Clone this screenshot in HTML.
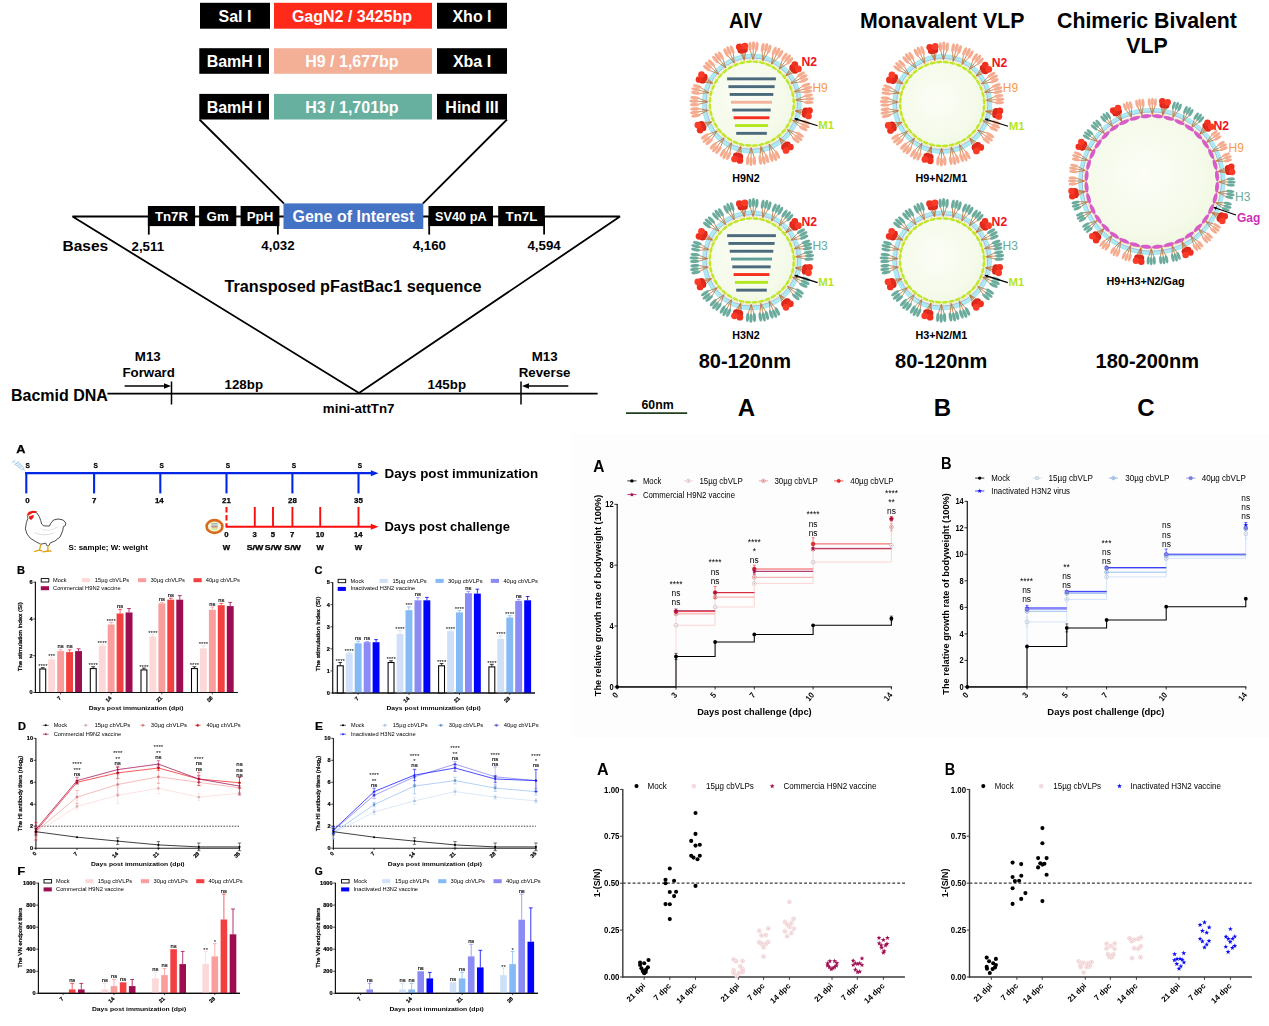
<!DOCTYPE html>
<html><head><meta charset="utf-8"><title>Figure</title>
<style>
html,body{margin:0;padding:0;background:#fff;}
body{width:1269px;height:1026px;overflow:hidden;}
svg{display:block;font-family:"Liberation Sans",sans-serif;}
</style></head><body>
<svg width="1269" height="1026" viewBox="0 0 1269 1026">
<defs><filter id="blurL" x="-5%" y="-5%" width="110%" height="110%"><feGaussianBlur stdDeviation="0.45"/></filter><filter id="blurR" x="-5%" y="-5%" width="110%" height="110%"><feGaussianBlur stdDeviation="0.35"/></filter></defs>
<rect x="572" y="433.9" width="698" height="304" fill="#fdfdfd"/>
<g id="construct">
<rect x="200.0" y="2.8" width="70.0" height="25.9" fill="#000"/>
<rect x="274.0" y="2.8" width="158.0" height="25.9" fill="#ff2a1a"/>
<rect x="437.0" y="2.8" width="70.0" height="25.9" fill="#000"/>
<text x="235.0" y="21.7" font-size="16" font-weight="bold" fill="#fff" text-anchor="middle">Sal I</text>
<text x="351.9" y="21.7" font-size="16" font-weight="bold" fill="#fff" text-anchor="middle">GagN2 / 3425bp</text>
<text x="472.0" y="21.7" font-size="16" font-weight="bold" fill="#fff" text-anchor="middle">Xho I</text>
<rect x="199.3" y="48.2" width="69.7" height="25.6" fill="#000"/>
<rect x="274.0" y="48.2" width="158.0" height="25.6" fill="#f4b097"/>
<rect x="437.0" y="48.2" width="70.0" height="25.6" fill="#000"/>
<text x="234.2" y="66.8" font-size="16" font-weight="bold" fill="#fff" text-anchor="middle">BamH I</text>
<text x="351.9" y="66.8" font-size="16" font-weight="bold" fill="#fff" text-anchor="middle">H9 / 1,677bp</text>
<text x="472.0" y="66.8" font-size="16" font-weight="bold" fill="#fff" text-anchor="middle">Xba I</text>
<rect x="199.3" y="93.9" width="69.7" height="25.6" fill="#000"/>
<rect x="274.0" y="93.9" width="158.0" height="25.6" fill="#67b09f"/>
<rect x="437.0" y="93.9" width="70.0" height="25.6" fill="#000"/>
<text x="234.2" y="112.5" font-size="16" font-weight="bold" fill="#fff" text-anchor="middle">BamH I</text>
<text x="351.9" y="112.5" font-size="16" font-weight="bold" fill="#fff" text-anchor="middle">H3 / 1,701bp</text>
<text x="472.0" y="112.5" font-size="16" font-weight="bold" fill="#fff" text-anchor="middle">Hind III</text>
<line x1="199.5" y1="119.5" x2="284.0" y2="203.6" stroke="#000" stroke-width="1.8"/>
<line x1="507.0" y1="119.5" x2="422.8" y2="203.6" stroke="#000" stroke-width="1.8"/>
<path d="M72.5 216.5 L620 216.5 L359 393 Z" fill="none" stroke="#000" stroke-width="1.8" stroke-linejoin="bevel"/>
<rect x="147.9" y="206.0" width="47.2" height="20.1" fill="#000"/>
<text x="171.5" y="221.0" font-size="13.3" font-weight="bold" fill="#fff" text-anchor="middle">Tn7R</text>
<rect x="199.1" y="206.0" width="37.2" height="20.1" fill="#000"/>
<text x="217.7" y="221.0" font-size="13.3" font-weight="bold" fill="#fff" text-anchor="middle">Gm</text>
<rect x="240.6" y="206.0" width="38.8" height="20.1" fill="#000"/>
<text x="260.0" y="221.0" font-size="13.3" font-weight="bold" fill="#fff" text-anchor="middle">PpH</text>
<rect x="428.5" y="206.0" width="64.5" height="20.1" fill="#000"/>
<text x="460.8" y="221.0" font-size="13.3" font-weight="bold" fill="#fff" text-anchor="middle" textLength="51.6" lengthAdjust="spacingAndGlyphs">SV40 pA</text>
<rect x="498.2" y="206.0" width="46.6" height="20.1" fill="#000"/>
<text x="521.5" y="221.0" font-size="13.3" font-weight="bold" fill="#fff" text-anchor="middle">Tn7L</text>
<rect x="283.5" y="203.4" width="139.8" height="25.6" fill="#4472c4"/>
<text x="353.4" y="221.6" font-size="16" font-weight="bold" fill="#fff" text-anchor="middle">Gene of Interest</text>
<line x1="148.8" y1="216.5" x2="148.8" y2="234.6" stroke="#000" stroke-width="1.8"/>
<line x1="277.9" y1="216.5" x2="277.9" y2="234.6" stroke="#000" stroke-width="1.8"/>
<line x1="429.2" y1="216.5" x2="429.2" y2="234.6" stroke="#000" stroke-width="1.8"/>
<line x1="544.1" y1="216.5" x2="544.1" y2="234.6" stroke="#000" stroke-width="1.8"/>
<text x="62.5" y="250.5" font-size="15.5" font-weight="bold">Bases</text>
<text x="147.8" y="250.8" font-size="13.3" font-weight="bold" text-anchor="middle">2,511</text>
<text x="278.0" y="250.0" font-size="13.3" font-weight="bold" text-anchor="middle">4,032</text>
<text x="429.3" y="250.2" font-size="13.3" font-weight="bold" text-anchor="middle">4,160</text>
<text x="544.1" y="250.2" font-size="13.3" font-weight="bold" text-anchor="middle">4,594</text>
<text x="224.5" y="292.0" font-size="16" font-weight="bold" textLength="257.0" lengthAdjust="spacingAndGlyphs">Transposed pFastBac1 sequence</text>
<line x1="107.4" y1="393.6" x2="597.6" y2="393.6" stroke="#000" stroke-width="1.8"/>
<line x1="171.5" y1="381.5" x2="171.5" y2="404.5" stroke="#000" stroke-width="1.5"/>
<line x1="521.0" y1="381.5" x2="521.0" y2="404.5" stroke="#000" stroke-width="1.5"/>
<text x="11.0" y="400.7" font-size="16" font-weight="bold">Bacmid DNA</text>
<text x="147.8" y="361.4" font-size="13.3" font-weight="bold" text-anchor="middle">M13</text>
<text x="148.7" y="376.5" font-size="13.3" font-weight="bold" text-anchor="middle">Forward</text>
<text x="544.6" y="361.4" font-size="13.3" font-weight="bold" text-anchor="middle">M13</text>
<text x="544.6" y="376.5" font-size="13.3" font-weight="bold" text-anchor="middle">Reverse</text>
<line x1="124.6" y1="386.0" x2="166.0" y2="386.0" stroke="#000" stroke-width="1.4"/>
<path d="M171 386 L164 383.2 L164 388.8 Z" fill="#000"/>
<line x1="568.3" y1="386.0" x2="527.0" y2="386.0" stroke="#000" stroke-width="1.4"/>
<path d="M522 386 L529 383.2 L529 388.8 Z" fill="#000"/>
<text x="243.8" y="388.6" font-size="13.3" font-weight="bold" text-anchor="middle">128bp</text>
<text x="446.8" y="388.6" font-size="13.3" font-weight="bold" text-anchor="middle">145bp</text>
<text x="358.7" y="412.8" font-size="13.3" font-weight="bold" text-anchor="middle">mini-attTn7</text>
</g>
<defs><radialGradient id="inner" cx="0.45" cy="0.45" r="0.6"><stop offset="0" stop-color="#fcfef7"/><stop offset="0.7" stop-color="#f5faea"/><stop offset="1" stop-color="#eef7dd"/></radialGradient></defs>
<g id="viruses">
<text x="745.8" y="28.1" font-size="21.3" font-weight="bold" text-anchor="middle" textLength="33.4" lengthAdjust="spacingAndGlyphs">AIV</text>
<text x="942.3" y="28.1" font-size="21.3" font-weight="bold" text-anchor="middle">Monavalent VLP</text>
<text x="1147.0" y="28.1" font-size="21.3" font-weight="bold" text-anchor="middle">Chimeric Bivalent</text>
<text x="1147.0" y="53.0" font-size="21.3" font-weight="bold" text-anchor="middle">VLP</text>
<g>
<circle cx="751.8" cy="103.6" r="45.50" fill="url(#inner)"/>
<circle cx="751.8" cy="103.6" r="47.50" fill="none" stroke="#aeeaf3" stroke-width="4.200000000000003"/>
<circle cx="751.8" cy="103.6" r="49.60" fill="none" stroke="#8fdbe6" stroke-width="0.5"/>
<circle cx="751.8" cy="103.6" r="45.70" fill="none" stroke="#8b9bd6" stroke-width="0.6"/>
<line x1="753.0" y1="59.6" x2="749.9" y2="48.9" stroke="#c4692a" stroke-width="0.75"/><line x1="753.0" y1="59.6" x2="753.3" y2="48.9" stroke="#c4692a" stroke-width="0.75"/><line x1="753.0" y1="59.6" x2="756.7" y2="49.1" stroke="#c4692a" stroke-width="0.75"/>
<line x1="762.7" y1="61.0" x2="762.1" y2="49.9" stroke="#c4692a" stroke-width="0.75"/><line x1="762.7" y1="61.0" x2="765.4" y2="50.6" stroke="#c4692a" stroke-width="0.75"/><line x1="762.7" y1="61.0" x2="768.7" y2="51.6" stroke="#c4692a" stroke-width="0.75"/>
<line x1="771.5" y1="64.3" x2="773.2" y2="53.3" stroke="#c4692a" stroke-width="0.75"/><line x1="771.5" y1="64.3" x2="776.3" y2="54.7" stroke="#c4692a" stroke-width="0.75"/><line x1="771.5" y1="64.3" x2="779.3" y2="56.3" stroke="#c4692a" stroke-width="0.75"/>
<line x1="779.1" y1="69.1" x2="783.0" y2="58.6" stroke="#c4692a" stroke-width="0.75"/><line x1="779.1" y1="69.1" x2="785.7" y2="60.7" stroke="#c4692a" stroke-width="0.75"/><line x1="779.1" y1="69.1" x2="788.3" y2="62.9" stroke="#c4692a" stroke-width="0.75"/>
<line x1="790.9" y1="83.4" x2="798.8" y2="75.5" stroke="#c4692a" stroke-width="0.75"/><line x1="790.9" y1="83.4" x2="800.4" y2="78.5" stroke="#c4692a" stroke-width="0.75"/><line x1="790.9" y1="83.4" x2="801.9" y2="81.6" stroke="#c4692a" stroke-width="0.75"/>
<line x1="794.2" y1="91.8" x2="803.5" y2="85.7" stroke="#c4692a" stroke-width="0.75"/><line x1="794.2" y1="91.8" x2="804.5" y2="89.0" stroke="#c4692a" stroke-width="0.75"/><line x1="794.2" y1="91.8" x2="805.3" y2="92.3" stroke="#c4692a" stroke-width="0.75"/>
<line x1="795.7" y1="100.0" x2="805.9" y2="95.7" stroke="#c4692a" stroke-width="0.75"/><line x1="795.7" y1="100.0" x2="806.3" y2="99.1" stroke="#c4692a" stroke-width="0.75"/><line x1="795.7" y1="100.0" x2="806.5" y2="102.5" stroke="#c4692a" stroke-width="0.75"/>
<line x1="792.5" y1="120.4" x2="803.6" y2="121.3" stroke="#c4692a" stroke-width="0.75"/><line x1="792.5" y1="120.4" x2="802.4" y2="124.4" stroke="#c4692a" stroke-width="0.75"/><line x1="792.5" y1="120.4" x2="801.0" y2="127.5" stroke="#c4692a" stroke-width="0.75"/>
<line x1="787.3" y1="129.6" x2="797.8" y2="133.2" stroke="#c4692a" stroke-width="0.75"/><line x1="787.3" y1="129.6" x2="795.9" y2="136.0" stroke="#c4692a" stroke-width="0.75"/><line x1="787.3" y1="129.6" x2="793.8" y2="138.7" stroke="#c4692a" stroke-width="0.75"/>
<line x1="769.1" y1="144.0" x2="776.4" y2="152.4" stroke="#c4692a" stroke-width="0.75"/><line x1="769.1" y1="144.0" x2="773.3" y2="153.9" stroke="#c4692a" stroke-width="0.75"/><line x1="769.1" y1="144.0" x2="770.2" y2="155.1" stroke="#c4692a" stroke-width="0.75"/>
<line x1="760.9" y1="146.6" x2="766.5" y2="156.3" stroke="#c4692a" stroke-width="0.75"/><line x1="760.9" y1="146.6" x2="763.2" y2="157.1" stroke="#c4692a" stroke-width="0.75"/><line x1="760.9" y1="146.6" x2="759.8" y2="157.7" stroke="#c4692a" stroke-width="0.75"/>
<line x1="751.2" y1="147.6" x2="754.4" y2="158.2" stroke="#c4692a" stroke-width="0.75"/><line x1="751.2" y1="147.6" x2="751.0" y2="158.3" stroke="#c4692a" stroke-width="0.75"/><line x1="751.2" y1="147.6" x2="747.6" y2="158.1" stroke="#c4692a" stroke-width="0.75"/>
<line x1="731.6" y1="142.7" x2="729.8" y2="153.7" stroke="#c4692a" stroke-width="0.75"/><line x1="731.6" y1="142.7" x2="726.7" y2="152.2" stroke="#c4692a" stroke-width="0.75"/><line x1="731.6" y1="142.7" x2="723.7" y2="150.6" stroke="#c4692a" stroke-width="0.75"/>
<line x1="724.1" y1="137.8" x2="720.1" y2="148.2" stroke="#c4692a" stroke-width="0.75"/><line x1="724.1" y1="137.8" x2="717.4" y2="146.1" stroke="#c4692a" stroke-width="0.75"/><line x1="724.1" y1="137.8" x2="714.8" y2="143.9" stroke="#c4692a" stroke-width="0.75"/>
<line x1="717.3" y1="130.9" x2="711.1" y2="140.2" stroke="#c4692a" stroke-width="0.75"/><line x1="717.3" y1="130.9" x2="708.9" y2="137.6" stroke="#c4692a" stroke-width="0.75"/><line x1="717.3" y1="130.9" x2="706.9" y2="134.8" stroke="#c4692a" stroke-width="0.75"/>
<line x1="708.3" y1="110.3" x2="698.3" y2="115.2" stroke="#c4692a" stroke-width="0.75"/><line x1="708.3" y1="110.3" x2="697.7" y2="111.9" stroke="#c4692a" stroke-width="0.75"/><line x1="708.3" y1="110.3" x2="697.3" y2="108.5" stroke="#c4692a" stroke-width="0.75"/>
<line x1="707.8" y1="101.8" x2="697.1" y2="104.7" stroke="#c4692a" stroke-width="0.75"/><line x1="707.8" y1="101.8" x2="697.1" y2="101.3" stroke="#c4692a" stroke-width="0.75"/><line x1="707.8" y1="101.8" x2="697.4" y2="97.9" stroke="#c4692a" stroke-width="0.75"/>
<line x1="709.1" y1="92.8" x2="698.0" y2="93.5" stroke="#c4692a" stroke-width="0.75"/><line x1="709.1" y1="92.8" x2="698.8" y2="90.2" stroke="#c4692a" stroke-width="0.75"/><line x1="709.1" y1="92.8" x2="699.7" y2="86.9" stroke="#c4692a" stroke-width="0.75"/>
<line x1="718.9" y1="74.4" x2="708.7" y2="69.9" stroke="#c4692a" stroke-width="0.75"/><line x1="718.9" y1="74.4" x2="710.9" y2="67.3" stroke="#c4692a" stroke-width="0.75"/><line x1="718.9" y1="74.4" x2="713.2" y2="64.8" stroke="#c4692a" stroke-width="0.75"/>
<line x1="725.9" y1="68.0" x2="716.9" y2="61.5" stroke="#c4692a" stroke-width="0.75"/><line x1="725.9" y1="68.0" x2="719.6" y2="59.4" stroke="#c4692a" stroke-width="0.75"/><line x1="725.9" y1="68.0" x2="722.4" y2="57.5" stroke="#c4692a" stroke-width="0.75"/>
<line x1="734.3" y1="63.2" x2="727.0" y2="54.8" stroke="#c4692a" stroke-width="0.75"/><line x1="734.3" y1="63.2" x2="730.1" y2="53.4" stroke="#c4692a" stroke-width="0.75"/><line x1="734.3" y1="63.2" x2="733.2" y2="52.1" stroke="#c4692a" stroke-width="0.75"/>
<line x1="744.4" y1="60.2" x2="740.0" y2="52.2" stroke="#c4692a" stroke-width="0.75"/><line x1="744.4" y1="60.2" x2="741.9" y2="51.8" stroke="#c4692a" stroke-width="0.75"/><line x1="744.4" y1="60.2" x2="743.9" y2="51.5" stroke="#c4692a" stroke-width="0.75"/><line x1="744.4" y1="60.2" x2="745.9" y2="51.2" stroke="#c4692a" stroke-width="0.75"/>
<line x1="785.8" y1="75.7" x2="790.6" y2="67.9" stroke="#c4692a" stroke-width="0.75"/><line x1="785.8" y1="75.7" x2="791.9" y2="69.4" stroke="#c4692a" stroke-width="0.75"/><line x1="785.8" y1="75.7" x2="793.2" y2="70.9" stroke="#c4692a" stroke-width="0.75"/><line x1="785.8" y1="75.7" x2="794.4" y2="72.5" stroke="#c4692a" stroke-width="0.75"/>
<line x1="795.2" y1="110.9" x2="804.2" y2="109.4" stroke="#c4692a" stroke-width="0.75"/><line x1="795.2" y1="110.9" x2="803.9" y2="111.4" stroke="#c4692a" stroke-width="0.75"/><line x1="795.2" y1="110.9" x2="803.6" y2="113.4" stroke="#c4692a" stroke-width="0.75"/><line x1="795.2" y1="110.9" x2="803.2" y2="115.3" stroke="#c4692a" stroke-width="0.75"/>
<line x1="779.4" y1="137.8" x2="787.2" y2="142.7" stroke="#c4692a" stroke-width="0.75"/><line x1="779.4" y1="137.8" x2="785.7" y2="144.0" stroke="#c4692a" stroke-width="0.75"/><line x1="779.4" y1="137.8" x2="784.1" y2="145.2" stroke="#c4692a" stroke-width="0.75"/><line x1="779.4" y1="137.8" x2="782.5" y2="146.4" stroke="#c4692a" stroke-width="0.75"/>
<line x1="740.7" y1="146.2" x2="741.4" y2="155.3" stroke="#c4692a" stroke-width="0.75"/><line x1="740.7" y1="146.2" x2="739.5" y2="154.8" stroke="#c4692a" stroke-width="0.75"/><line x1="740.7" y1="146.2" x2="737.6" y2="154.3" stroke="#c4692a" stroke-width="0.75"/><line x1="740.7" y1="146.2" x2="735.6" y2="153.8" stroke="#c4692a" stroke-width="0.75"/>
<line x1="711.7" y1="121.8" x2="705.1" y2="128.1" stroke="#c4692a" stroke-width="0.75"/><line x1="711.7" y1="121.8" x2="704.2" y2="126.3" stroke="#c4692a" stroke-width="0.75"/><line x1="711.7" y1="121.8" x2="703.4" y2="124.5" stroke="#c4692a" stroke-width="0.75"/><line x1="711.7" y1="121.8" x2="702.6" y2="122.6" stroke="#c4692a" stroke-width="0.75"/>
<line x1="712.7" y1="83.4" x2="703.7" y2="82.1" stroke="#c4692a" stroke-width="0.75"/><line x1="712.7" y1="83.4" x2="704.5" y2="80.3" stroke="#c4692a" stroke-width="0.75"/><line x1="712.7" y1="83.4" x2="705.4" y2="78.5" stroke="#c4692a" stroke-width="0.75"/><line x1="712.7" y1="83.4" x2="706.4" y2="76.8" stroke="#c4692a" stroke-width="0.75"/>
<ellipse cx="750.0" cy="46.4" rx="4.50" ry="1.60" fill="#f5ab8e" stroke="#f5ab8e" stroke-opacity="0.5" stroke-width="0.3" transform="rotate(-91.8 750.0 46.4)"/><ellipse cx="756.8" cy="46.6" rx="4.50" ry="1.60" fill="#f5ab8e" stroke="#f5ab8e" stroke-opacity="0.5" stroke-width="0.3" transform="rotate(-85.0 756.8 46.6)"/><ellipse cx="753.4" cy="45.7" rx="4.50" ry="1.60" fill="#f5ab8e" stroke="#f5ab8e" stroke-opacity="0.5" stroke-width="0.3" transform="rotate(-88.4 753.4 45.7)"/>
<ellipse cx="762.7" cy="47.4" rx="4.50" ry="1.60" fill="#f5ab8e" stroke="#f5ab8e" stroke-opacity="0.5" stroke-width="0.3" transform="rotate(-79.0 762.7 47.4)"/><ellipse cx="769.3" cy="49.1" rx="4.50" ry="1.60" fill="#f5ab8e" stroke="#f5ab8e" stroke-opacity="0.5" stroke-width="0.3" transform="rotate(-72.2 769.3 49.1)"/><ellipse cx="766.2" cy="47.5" rx="4.50" ry="1.60" fill="#f5ab8e" stroke="#f5ab8e" stroke-opacity="0.5" stroke-width="0.3" transform="rotate(-75.6 766.2 47.5)"/>
<ellipse cx="774.3" cy="51.0" rx="4.50" ry="1.60" fill="#f5ab8e" stroke="#f5ab8e" stroke-opacity="0.5" stroke-width="0.3" transform="rotate(-66.8 774.3 51.0)"/><ellipse cx="780.4" cy="54.1" rx="4.50" ry="1.60" fill="#f5ab8e" stroke="#f5ab8e" stroke-opacity="0.5" stroke-width="0.3" transform="rotate(-60.0 780.4 54.1)"/><ellipse cx="777.7" cy="51.8" rx="4.50" ry="1.60" fill="#f5ab8e" stroke="#f5ab8e" stroke-opacity="0.5" stroke-width="0.3" transform="rotate(-63.4 777.7 51.8)"/>
<ellipse cx="784.5" cy="56.7" rx="4.50" ry="1.60" fill="#f5ab8e" stroke="#f5ab8e" stroke-opacity="0.5" stroke-width="0.3" transform="rotate(-55.1 784.5 56.7)"/><ellipse cx="789.9" cy="60.9" rx="4.50" ry="1.60" fill="#f5ab8e" stroke="#f5ab8e" stroke-opacity="0.5" stroke-width="0.3" transform="rotate(-48.3 789.9 60.9)"/><ellipse cx="787.7" cy="58.2" rx="4.50" ry="1.60" fill="#f5ab8e" stroke="#f5ab8e" stroke-opacity="0.5" stroke-width="0.3" transform="rotate(-51.7 787.7 58.2)"/>
<ellipse cx="801.0" cy="74.4" rx="4.50" ry="1.60" fill="#f5ab8e" stroke="#f5ab8e" stroke-opacity="0.5" stroke-width="0.3" transform="rotate(-30.7 801.0 74.4)"/><ellipse cx="804.1" cy="80.4" rx="4.50" ry="1.60" fill="#f5ab8e" stroke="#f5ab8e" stroke-opacity="0.5" stroke-width="0.3" transform="rotate(-23.9 804.1 80.4)"/><ellipse cx="803.3" cy="77.0" rx="4.50" ry="1.60" fill="#f5ab8e" stroke="#f5ab8e" stroke-opacity="0.5" stroke-width="0.3" transform="rotate(-27.3 803.3 77.0)"/>
<ellipse cx="805.9" cy="85.1" rx="4.50" ry="1.60" fill="#f5ab8e" stroke="#f5ab8e" stroke-opacity="0.5" stroke-width="0.3" transform="rotate(-18.9 805.9 85.1)"/><ellipse cx="807.7" cy="91.6" rx="4.50" ry="1.60" fill="#f5ab8e" stroke="#f5ab8e" stroke-opacity="0.5" stroke-width="0.3" transform="rotate(-12.1 807.7 91.6)"/><ellipse cx="807.6" cy="88.1" rx="4.50" ry="1.60" fill="#f5ab8e" stroke="#f5ab8e" stroke-opacity="0.5" stroke-width="0.3" transform="rotate(-15.5 807.6 88.1)"/>
<ellipse cx="808.4" cy="95.5" rx="4.50" ry="1.60" fill="#f5ab8e" stroke="#f5ab8e" stroke-opacity="0.5" stroke-width="0.3" transform="rotate(-8.1 808.4 95.5)"/><ellipse cx="809.0" cy="102.3" rx="4.50" ry="1.60" fill="#f5ab8e" stroke="#f5ab8e" stroke-opacity="0.5" stroke-width="0.3" transform="rotate(-1.3 809.0 102.3)"/><ellipse cx="809.5" cy="98.9" rx="4.50" ry="1.60" fill="#f5ab8e" stroke="#f5ab8e" stroke-opacity="0.5" stroke-width="0.3" transform="rotate(-4.7 809.5 98.9)"/>
<ellipse cx="805.9" cy="122.2" rx="4.50" ry="1.60" fill="#f5ab8e" stroke="#f5ab8e" stroke-opacity="0.5" stroke-width="0.3" transform="rotate(19.0 805.9 122.2)"/><ellipse cx="803.3" cy="128.5" rx="4.50" ry="1.60" fill="#f5ab8e" stroke="#f5ab8e" stroke-opacity="0.5" stroke-width="0.3" transform="rotate(25.8 803.3 128.5)"/><ellipse cx="805.3" cy="125.7" rx="4.50" ry="1.60" fill="#f5ab8e" stroke="#f5ab8e" stroke-opacity="0.5" stroke-width="0.3" transform="rotate(22.4 805.3 125.7)"/>
<ellipse cx="799.8" cy="134.7" rx="4.50" ry="1.60" fill="#f5ab8e" stroke="#f5ab8e" stroke-opacity="0.5" stroke-width="0.3" transform="rotate(32.9 799.8 134.7)"/><ellipse cx="795.8" cy="140.1" rx="4.50" ry="1.60" fill="#f5ab8e" stroke="#f5ab8e" stroke-opacity="0.5" stroke-width="0.3" transform="rotate(39.7 795.8 140.1)"/><ellipse cx="798.5" cy="137.9" rx="4.50" ry="1.60" fill="#f5ab8e" stroke="#f5ab8e" stroke-opacity="0.5" stroke-width="0.3" transform="rotate(36.3 798.5 137.9)"/>
<ellipse cx="777.4" cy="154.7" rx="4.50" ry="1.60" fill="#f5ab8e" stroke="#f5ab8e" stroke-opacity="0.5" stroke-width="0.3" transform="rotate(63.4 777.4 154.7)"/><ellipse cx="771.2" cy="157.4" rx="4.50" ry="1.60" fill="#f5ab8e" stroke="#f5ab8e" stroke-opacity="0.5" stroke-width="0.3" transform="rotate(70.2 771.2 157.4)"/><ellipse cx="774.6" cy="156.8" rx="4.50" ry="1.60" fill="#f5ab8e" stroke="#f5ab8e" stroke-opacity="0.5" stroke-width="0.3" transform="rotate(66.8 774.6 156.8)"/>
<ellipse cx="767.0" cy="158.7" rx="4.50" ry="1.60" fill="#f5ab8e" stroke="#f5ab8e" stroke-opacity="0.5" stroke-width="0.3" transform="rotate(74.6 767.0 158.7)"/><ellipse cx="760.3" cy="160.2" rx="4.50" ry="1.60" fill="#f5ab8e" stroke="#f5ab8e" stroke-opacity="0.5" stroke-width="0.3" transform="rotate(81.4 760.3 160.2)"/><ellipse cx="763.8" cy="160.2" rx="4.50" ry="1.60" fill="#f5ab8e" stroke="#f5ab8e" stroke-opacity="0.5" stroke-width="0.3" transform="rotate(78.0 763.8 160.2)"/>
<ellipse cx="754.4" cy="160.7" rx="4.50" ry="1.60" fill="#f5ab8e" stroke="#f5ab8e" stroke-opacity="0.5" stroke-width="0.3" transform="rotate(87.4 754.4 160.7)"/><ellipse cx="747.6" cy="160.6" rx="4.50" ry="1.60" fill="#f5ab8e" stroke="#f5ab8e" stroke-opacity="0.5" stroke-width="0.3" transform="rotate(94.2 747.6 160.6)"/><ellipse cx="751.0" cy="161.5" rx="4.50" ry="1.60" fill="#f5ab8e" stroke="#f5ab8e" stroke-opacity="0.5" stroke-width="0.3" transform="rotate(90.8 751.0 161.5)"/>
<ellipse cx="728.6" cy="155.9" rx="4.50" ry="1.60" fill="#f5ab8e" stroke="#f5ab8e" stroke-opacity="0.5" stroke-width="0.3" transform="rotate(113.9 728.6 155.9)"/><ellipse cx="722.6" cy="152.8" rx="4.50" ry="1.60" fill="#f5ab8e" stroke="#f5ab8e" stroke-opacity="0.5" stroke-width="0.3" transform="rotate(120.7 722.6 152.8)"/><ellipse cx="725.2" cy="155.1" rx="4.50" ry="1.60" fill="#f5ab8e" stroke="#f5ab8e" stroke-opacity="0.5" stroke-width="0.3" transform="rotate(117.3 725.2 155.1)"/>
<ellipse cx="718.5" cy="150.1" rx="4.50" ry="1.60" fill="#f5ab8e" stroke="#f5ab8e" stroke-opacity="0.5" stroke-width="0.3" transform="rotate(125.6 718.5 150.1)"/><ellipse cx="713.2" cy="145.8" rx="4.50" ry="1.60" fill="#f5ab8e" stroke="#f5ab8e" stroke-opacity="0.5" stroke-width="0.3" transform="rotate(132.4 713.2 145.8)"/><ellipse cx="715.4" cy="148.6" rx="4.50" ry="1.60" fill="#f5ab8e" stroke="#f5ab8e" stroke-opacity="0.5" stroke-width="0.3" transform="rotate(129.0 715.4 148.6)"/>
<ellipse cx="709.2" cy="141.7" rx="4.50" ry="1.60" fill="#f5ab8e" stroke="#f5ab8e" stroke-opacity="0.5" stroke-width="0.3" transform="rotate(138.2 709.2 141.7)"/><ellipse cx="704.9" cy="136.4" rx="4.50" ry="1.60" fill="#f5ab8e" stroke="#f5ab8e" stroke-opacity="0.5" stroke-width="0.3" transform="rotate(145.0 704.9 136.4)"/><ellipse cx="706.4" cy="139.6" rx="4.50" ry="1.60" fill="#f5ab8e" stroke="#f5ab8e" stroke-opacity="0.5" stroke-width="0.3" transform="rotate(141.6 706.4 139.6)"/>
<ellipse cx="695.9" cy="115.6" rx="4.50" ry="1.60" fill="#f5ab8e" stroke="#f5ab8e" stroke-opacity="0.5" stroke-width="0.3" transform="rotate(167.9 695.9 115.6)"/><ellipse cx="694.8" cy="108.9" rx="4.50" ry="1.60" fill="#f5ab8e" stroke="#f5ab8e" stroke-opacity="0.5" stroke-width="0.3" transform="rotate(174.7 694.8 108.9)"/><ellipse cx="694.6" cy="112.4" rx="4.50" ry="1.60" fill="#f5ab8e" stroke="#f5ab8e" stroke-opacity="0.5" stroke-width="0.3" transform="rotate(171.3 694.6 112.4)"/>
<ellipse cx="694.6" cy="104.6" rx="4.50" ry="1.60" fill="#f5ab8e" stroke="#f5ab8e" stroke-opacity="0.5" stroke-width="0.3" transform="rotate(179.0 694.6 104.6)"/><ellipse cx="694.9" cy="97.8" rx="4.50" ry="1.60" fill="#f5ab8e" stroke="#f5ab8e" stroke-opacity="0.5" stroke-width="0.3" transform="rotate(185.8 694.9 97.8)"/><ellipse cx="694.0" cy="101.2" rx="4.50" ry="1.60" fill="#f5ab8e" stroke="#f5ab8e" stroke-opacity="0.5" stroke-width="0.3" transform="rotate(182.4 694.0 101.2)"/>
<ellipse cx="695.6" cy="92.9" rx="4.50" ry="1.60" fill="#f5ab8e" stroke="#f5ab8e" stroke-opacity="0.5" stroke-width="0.3" transform="rotate(190.8 695.6 92.9)"/><ellipse cx="697.3" cy="86.3" rx="4.50" ry="1.60" fill="#f5ab8e" stroke="#f5ab8e" stroke-opacity="0.5" stroke-width="0.3" transform="rotate(197.6 697.3 86.3)"/><ellipse cx="695.7" cy="89.4" rx="4.50" ry="1.60" fill="#f5ab8e" stroke="#f5ab8e" stroke-opacity="0.5" stroke-width="0.3" transform="rotate(194.2 695.7 89.4)"/>
<ellipse cx="706.8" cy="68.2" rx="4.50" ry="1.60" fill="#f5ab8e" stroke="#f5ab8e" stroke-opacity="0.5" stroke-width="0.3" transform="rotate(218.2 706.8 68.2)"/><ellipse cx="711.4" cy="63.1" rx="4.50" ry="1.60" fill="#f5ab8e" stroke="#f5ab8e" stroke-opacity="0.5" stroke-width="0.3" transform="rotate(225.0 711.4 63.1)"/><ellipse cx="708.5" cy="65.2" rx="4.50" ry="1.60" fill="#f5ab8e" stroke="#f5ab8e" stroke-opacity="0.5" stroke-width="0.3" transform="rotate(221.6 708.5 65.2)"/>
<ellipse cx="715.4" cy="59.5" rx="4.50" ry="1.60" fill="#f5ab8e" stroke="#f5ab8e" stroke-opacity="0.5" stroke-width="0.3" transform="rotate(230.5 715.4 59.5)"/><ellipse cx="720.9" cy="55.5" rx="4.50" ry="1.60" fill="#f5ab8e" stroke="#f5ab8e" stroke-opacity="0.5" stroke-width="0.3" transform="rotate(237.3 720.9 55.5)"/><ellipse cx="717.7" cy="56.8" rx="4.50" ry="1.60" fill="#f5ab8e" stroke="#f5ab8e" stroke-opacity="0.5" stroke-width="0.3" transform="rotate(233.9 717.7 56.8)"/>
<ellipse cx="726.0" cy="52.5" rx="4.50" ry="1.60" fill="#f5ab8e" stroke="#f5ab8e" stroke-opacity="0.5" stroke-width="0.3" transform="rotate(243.2 726.0 52.5)"/><ellipse cx="732.2" cy="49.8" rx="4.50" ry="1.60" fill="#f5ab8e" stroke="#f5ab8e" stroke-opacity="0.5" stroke-width="0.3" transform="rotate(250.0 732.2 49.8)"/><ellipse cx="728.8" cy="50.5" rx="4.50" ry="1.60" fill="#f5ab8e" stroke="#f5ab8e" stroke-opacity="0.5" stroke-width="0.3" transform="rotate(246.6 728.8 50.5)"/>
<circle cx="740.7" cy="50.3" r="3.20" fill="#d3271a"/><circle cx="744.6" cy="49.6" r="3.20" fill="#d3271a"/><circle cx="742.7" cy="50.3" r="3.20" fill="#de2a1c"/><circle cx="739.3" cy="46.9" r="3.35" fill="#f0301f"/><circle cx="744.8" cy="46.0" r="3.35" fill="#fb3b27"/>
<circle cx="792.6" cy="67.5" r="3.20" fill="#d3271a"/><circle cx="795.1" cy="70.6" r="3.20" fill="#d3271a"/><circle cx="793.6" cy="69.3" r="3.20" fill="#de2a1c"/><circle cx="794.8" cy="64.6" r="3.35" fill="#f0301f"/><circle cx="798.4" cy="68.9" r="3.35" fill="#fb3b27"/>
<circle cx="805.8" cy="110.7" r="3.20" fill="#d3271a"/><circle cx="805.1" cy="114.6" r="3.20" fill="#d3271a"/><circle cx="805.1" cy="112.6" r="3.20" fill="#de2a1c"/><circle cx="809.5" cy="110.5" r="3.35" fill="#f0301f"/><circle cx="808.5" cy="116.0" r="3.35" fill="#fb3b27"/>
<circle cx="787.5" cy="144.7" r="3.20" fill="#d3271a"/><circle cx="784.4" cy="147.2" r="3.20" fill="#d3271a"/><circle cx="785.8" cy="145.7" r="3.20" fill="#de2a1c"/><circle cx="790.4" cy="147.0" r="3.35" fill="#f0301f"/><circle cx="786.0" cy="150.5" r="3.35" fill="#fb3b27"/>
<circle cx="740.0" cy="156.7" r="3.20" fill="#d3271a"/><circle cx="736.2" cy="155.7" r="3.20" fill="#d3271a"/><circle cx="738.2" cy="156.0" r="3.20" fill="#de2a1c"/><circle cx="739.9" cy="160.4" r="3.35" fill="#f0301f"/><circle cx="734.5" cy="159.0" r="3.35" fill="#fb3b27"/>
<circle cx="703.1" cy="127.9" r="3.20" fill="#d3271a"/><circle cx="701.4" cy="124.3" r="3.20" fill="#d3271a"/><circle cx="702.5" cy="125.9" r="3.20" fill="#de2a1c"/><circle cx="700.1" cy="130.1" r="3.35" fill="#f0301f"/><circle cx="697.8" cy="125.0" r="3.35" fill="#fb3b27"/>
<circle cx="702.5" cy="80.4" r="3.20" fill="#d3271a"/><circle cx="704.4" cy="76.9" r="3.20" fill="#d3271a"/><circle cx="703.7" cy="78.8" r="3.20" fill="#de2a1c"/><circle cx="699.0" cy="79.5" r="3.35" fill="#f0301f"/><circle cx="701.5" cy="74.5" r="3.35" fill="#fb3b27"/>
<circle cx="751.8" cy="103.6" r="44.10" fill="none" stroke="#ecc38a" stroke-width="0.45" stroke-dasharray="2.2 1"/>
<ellipse cx="748.9" cy="61.7" rx="3.25" ry="1.3" fill="#bfe627" transform="rotate(-4.0 748.9 61.7)"/><ellipse cx="755.5" cy="61.8" rx="3.25" ry="1.3" fill="#bfe627" transform="rotate(5.0 755.5 61.8)"/><ellipse cx="762.0" cy="62.8" rx="3.25" ry="1.3" fill="#bfe627" transform="rotate(14.0 762.0 62.8)"/><ellipse cx="768.2" cy="64.9" rx="3.25" ry="1.3" fill="#bfe627" transform="rotate(23.0 768.2 64.9)"/><ellipse cx="774.1" cy="68.0" rx="3.25" ry="1.3" fill="#bfe627" transform="rotate(32.0 774.1 68.0)"/><ellipse cx="779.4" cy="71.9" rx="3.25" ry="1.3" fill="#bfe627" transform="rotate(41.0 779.4 71.9)"/><ellipse cx="784.0" cy="76.6" rx="3.25" ry="1.3" fill="#bfe627" transform="rotate(50.0 784.0 76.6)"/><ellipse cx="787.8" cy="82.0" rx="3.25" ry="1.3" fill="#bfe627" transform="rotate(59.0 787.8 82.0)"/><ellipse cx="790.7" cy="87.9" rx="3.25" ry="1.3" fill="#bfe627" transform="rotate(68.0 790.7 87.9)"/><ellipse cx="792.7" cy="94.2" rx="3.25" ry="1.3" fill="#bfe627" transform="rotate(77.0 792.7 94.2)"/><ellipse cx="793.7" cy="100.7" rx="3.25" ry="1.3" fill="#bfe627" transform="rotate(86.0 793.7 100.7)"/><ellipse cx="793.6" cy="107.3" rx="3.25" ry="1.3" fill="#bfe627" transform="rotate(95.0 793.6 107.3)"/><ellipse cx="792.6" cy="113.8" rx="3.25" ry="1.3" fill="#bfe627" transform="rotate(104.0 792.6 113.8)"/><ellipse cx="790.5" cy="120.0" rx="3.25" ry="1.3" fill="#bfe627" transform="rotate(113.0 790.5 120.0)"/><ellipse cx="787.4" cy="125.9" rx="3.25" ry="1.3" fill="#bfe627" transform="rotate(122.0 787.4 125.9)"/><ellipse cx="783.5" cy="131.2" rx="3.25" ry="1.3" fill="#bfe627" transform="rotate(131.0 783.5 131.2)"/><ellipse cx="778.8" cy="135.8" rx="3.25" ry="1.3" fill="#bfe627" transform="rotate(140.0 778.8 135.8)"/><ellipse cx="773.4" cy="139.6" rx="3.25" ry="1.3" fill="#bfe627" transform="rotate(149.0 773.4 139.6)"/><ellipse cx="767.5" cy="142.5" rx="3.25" ry="1.3" fill="#bfe627" transform="rotate(158.0 767.5 142.5)"/><ellipse cx="761.2" cy="144.5" rx="3.25" ry="1.3" fill="#bfe627" transform="rotate(167.0 761.2 144.5)"/><ellipse cx="754.7" cy="145.5" rx="3.25" ry="1.3" fill="#bfe627" transform="rotate(176.0 754.7 145.5)"/><ellipse cx="748.1" cy="145.4" rx="3.25" ry="1.3" fill="#bfe627" transform="rotate(185.0 748.1 145.4)"/><ellipse cx="741.6" cy="144.4" rx="3.25" ry="1.3" fill="#bfe627" transform="rotate(194.0 741.6 144.4)"/><ellipse cx="735.4" cy="142.3" rx="3.25" ry="1.3" fill="#bfe627" transform="rotate(203.0 735.4 142.3)"/><ellipse cx="729.5" cy="139.2" rx="3.25" ry="1.3" fill="#bfe627" transform="rotate(212.0 729.5 139.2)"/><ellipse cx="724.2" cy="135.3" rx="3.25" ry="1.3" fill="#bfe627" transform="rotate(221.0 724.2 135.3)"/><ellipse cx="719.6" cy="130.6" rx="3.25" ry="1.3" fill="#bfe627" transform="rotate(230.0 719.6 130.6)"/><ellipse cx="715.8" cy="125.2" rx="3.25" ry="1.3" fill="#bfe627" transform="rotate(239.0 715.8 125.2)"/><ellipse cx="712.9" cy="119.3" rx="3.25" ry="1.3" fill="#bfe627" transform="rotate(248.0 712.9 119.3)"/><ellipse cx="710.9" cy="113.0" rx="3.25" ry="1.3" fill="#bfe627" transform="rotate(257.0 710.9 113.0)"/><ellipse cx="709.9" cy="106.5" rx="3.25" ry="1.3" fill="#bfe627" transform="rotate(266.0 709.9 106.5)"/><ellipse cx="710.0" cy="99.9" rx="3.25" ry="1.3" fill="#bfe627" transform="rotate(275.0 710.0 99.9)"/><ellipse cx="711.0" cy="93.4" rx="3.25" ry="1.3" fill="#bfe627" transform="rotate(284.0 711.0 93.4)"/><ellipse cx="713.1" cy="87.2" rx="3.25" ry="1.3" fill="#bfe627" transform="rotate(293.0 713.1 87.2)"/><ellipse cx="716.2" cy="81.3" rx="3.25" ry="1.3" fill="#bfe627" transform="rotate(302.0 716.2 81.3)"/><ellipse cx="720.1" cy="76.0" rx="3.25" ry="1.3" fill="#bfe627" transform="rotate(311.0 720.1 76.0)"/><ellipse cx="724.8" cy="71.4" rx="3.25" ry="1.3" fill="#bfe627" transform="rotate(320.0 724.8 71.4)"/><ellipse cx="730.2" cy="67.6" rx="3.25" ry="1.3" fill="#bfe627" transform="rotate(329.0 730.2 67.6)"/><ellipse cx="736.1" cy="64.7" rx="3.25" ry="1.3" fill="#bfe627" transform="rotate(338.0 736.1 64.7)"/><ellipse cx="742.4" cy="62.7" rx="3.25" ry="1.3" fill="#bfe627" transform="rotate(347.0 742.4 62.7)"/>
<rect x="727.1" y="77.4" width="48.8" height="2.9" fill="#4b6b7d"/>
<rect x="728.4" y="85.2" width="46.2" height="2.9" fill="#4b6b7d"/>
<rect x="729.7" y="93.0" width="43.6" height="2.9" fill="#4b6b7d"/>
<rect x="731.0" y="100.8" width="41.0" height="2.9" fill="#f5b39c"/>
<rect x="732.3" y="108.6" width="38.4" height="2.9" fill="#4b6b7d"/>
<rect x="733.6" y="116.3" width="35.8" height="2.9" fill="#f5301f"/>
<rect x="734.9" y="124.1" width="33.2" height="2.9" fill="#b5e51d"/>
<rect x="736.2" y="131.9" width="30.6" height="2.9" fill="#4b6b7d"/>
<text x="801.4" y="66.3" font-size="12.2" font-weight="bold" fill="#f0141e">N2</text>
<text x="812.4" y="91.8" font-size="12" fill="#f79a4a">H9</text>
<text x="818.3" y="129.2" font-size="11.4" font-weight="bold" fill="#b5e51d">M1</text>
<line x1="794.8" y1="118.6" x2="817.6" y2="125.8" stroke="#000" stroke-width="1.2"/>
<path d="M794.4 118.5 l3.6 -0.6 l-1 3 Z" fill="#000"/>
</g>
<g>
<circle cx="751.8" cy="260.4" r="45.50" fill="url(#inner)"/>
<circle cx="751.8" cy="260.4" r="47.50" fill="none" stroke="#aeeaf3" stroke-width="4.200000000000003"/>
<circle cx="751.8" cy="260.4" r="49.60" fill="none" stroke="#8fdbe6" stroke-width="0.5"/>
<circle cx="751.8" cy="260.4" r="45.70" fill="none" stroke="#8b9bd6" stroke-width="0.6"/>
<line x1="753.0" y1="216.4" x2="749.9" y2="205.7" stroke="#c4692a" stroke-width="0.75"/><line x1="753.0" y1="216.4" x2="753.3" y2="205.7" stroke="#c4692a" stroke-width="0.75"/><line x1="753.0" y1="216.4" x2="756.7" y2="205.9" stroke="#c4692a" stroke-width="0.75"/>
<line x1="762.7" y1="217.8" x2="762.1" y2="206.7" stroke="#c4692a" stroke-width="0.75"/><line x1="762.7" y1="217.8" x2="765.4" y2="207.4" stroke="#c4692a" stroke-width="0.75"/><line x1="762.7" y1="217.8" x2="768.7" y2="208.4" stroke="#c4692a" stroke-width="0.75"/>
<line x1="771.5" y1="221.1" x2="773.2" y2="210.1" stroke="#c4692a" stroke-width="0.75"/><line x1="771.5" y1="221.1" x2="776.3" y2="211.5" stroke="#c4692a" stroke-width="0.75"/><line x1="771.5" y1="221.1" x2="779.3" y2="213.1" stroke="#c4692a" stroke-width="0.75"/>
<line x1="779.1" y1="225.9" x2="783.0" y2="215.4" stroke="#c4692a" stroke-width="0.75"/><line x1="779.1" y1="225.9" x2="785.7" y2="217.5" stroke="#c4692a" stroke-width="0.75"/><line x1="779.1" y1="225.9" x2="788.3" y2="219.7" stroke="#c4692a" stroke-width="0.75"/>
<line x1="790.9" y1="240.2" x2="798.8" y2="232.3" stroke="#c4692a" stroke-width="0.75"/><line x1="790.9" y1="240.2" x2="800.4" y2="235.3" stroke="#c4692a" stroke-width="0.75"/><line x1="790.9" y1="240.2" x2="801.9" y2="238.4" stroke="#c4692a" stroke-width="0.75"/>
<line x1="794.2" y1="248.6" x2="803.5" y2="242.5" stroke="#c4692a" stroke-width="0.75"/><line x1="794.2" y1="248.6" x2="804.5" y2="245.8" stroke="#c4692a" stroke-width="0.75"/><line x1="794.2" y1="248.6" x2="805.3" y2="249.1" stroke="#c4692a" stroke-width="0.75"/>
<line x1="795.7" y1="256.8" x2="805.9" y2="252.5" stroke="#c4692a" stroke-width="0.75"/><line x1="795.7" y1="256.8" x2="806.3" y2="255.9" stroke="#c4692a" stroke-width="0.75"/><line x1="795.7" y1="256.8" x2="806.5" y2="259.3" stroke="#c4692a" stroke-width="0.75"/>
<line x1="792.5" y1="277.2" x2="803.6" y2="278.1" stroke="#c4692a" stroke-width="0.75"/><line x1="792.5" y1="277.2" x2="802.4" y2="281.2" stroke="#c4692a" stroke-width="0.75"/><line x1="792.5" y1="277.2" x2="801.0" y2="284.3" stroke="#c4692a" stroke-width="0.75"/>
<line x1="787.3" y1="286.4" x2="797.8" y2="290.0" stroke="#c4692a" stroke-width="0.75"/><line x1="787.3" y1="286.4" x2="795.9" y2="292.8" stroke="#c4692a" stroke-width="0.75"/><line x1="787.3" y1="286.4" x2="793.8" y2="295.5" stroke="#c4692a" stroke-width="0.75"/>
<line x1="769.1" y1="300.8" x2="776.4" y2="309.2" stroke="#c4692a" stroke-width="0.75"/><line x1="769.1" y1="300.8" x2="773.3" y2="310.7" stroke="#c4692a" stroke-width="0.75"/><line x1="769.1" y1="300.8" x2="770.2" y2="311.9" stroke="#c4692a" stroke-width="0.75"/>
<line x1="760.9" y1="303.4" x2="766.5" y2="313.1" stroke="#c4692a" stroke-width="0.75"/><line x1="760.9" y1="303.4" x2="763.2" y2="313.9" stroke="#c4692a" stroke-width="0.75"/><line x1="760.9" y1="303.4" x2="759.8" y2="314.5" stroke="#c4692a" stroke-width="0.75"/>
<line x1="751.2" y1="304.4" x2="754.4" y2="315.0" stroke="#c4692a" stroke-width="0.75"/><line x1="751.2" y1="304.4" x2="751.0" y2="315.1" stroke="#c4692a" stroke-width="0.75"/><line x1="751.2" y1="304.4" x2="747.6" y2="314.9" stroke="#c4692a" stroke-width="0.75"/>
<line x1="731.6" y1="299.5" x2="729.8" y2="310.5" stroke="#c4692a" stroke-width="0.75"/><line x1="731.6" y1="299.5" x2="726.7" y2="309.0" stroke="#c4692a" stroke-width="0.75"/><line x1="731.6" y1="299.5" x2="723.7" y2="307.4" stroke="#c4692a" stroke-width="0.75"/>
<line x1="724.1" y1="294.6" x2="720.1" y2="305.0" stroke="#c4692a" stroke-width="0.75"/><line x1="724.1" y1="294.6" x2="717.4" y2="302.9" stroke="#c4692a" stroke-width="0.75"/><line x1="724.1" y1="294.6" x2="714.8" y2="300.7" stroke="#c4692a" stroke-width="0.75"/>
<line x1="717.3" y1="287.7" x2="711.1" y2="297.0" stroke="#c4692a" stroke-width="0.75"/><line x1="717.3" y1="287.7" x2="708.9" y2="294.4" stroke="#c4692a" stroke-width="0.75"/><line x1="717.3" y1="287.7" x2="706.9" y2="291.6" stroke="#c4692a" stroke-width="0.75"/>
<line x1="708.3" y1="267.1" x2="698.3" y2="272.0" stroke="#c4692a" stroke-width="0.75"/><line x1="708.3" y1="267.1" x2="697.7" y2="268.7" stroke="#c4692a" stroke-width="0.75"/><line x1="708.3" y1="267.1" x2="697.3" y2="265.3" stroke="#c4692a" stroke-width="0.75"/>
<line x1="707.8" y1="258.6" x2="697.1" y2="261.5" stroke="#c4692a" stroke-width="0.75"/><line x1="707.8" y1="258.6" x2="697.1" y2="258.1" stroke="#c4692a" stroke-width="0.75"/><line x1="707.8" y1="258.6" x2="697.4" y2="254.7" stroke="#c4692a" stroke-width="0.75"/>
<line x1="709.1" y1="249.6" x2="698.0" y2="250.3" stroke="#c4692a" stroke-width="0.75"/><line x1="709.1" y1="249.6" x2="698.8" y2="247.0" stroke="#c4692a" stroke-width="0.75"/><line x1="709.1" y1="249.6" x2="699.7" y2="243.7" stroke="#c4692a" stroke-width="0.75"/>
<line x1="718.9" y1="231.2" x2="708.7" y2="226.7" stroke="#c4692a" stroke-width="0.75"/><line x1="718.9" y1="231.2" x2="710.9" y2="224.1" stroke="#c4692a" stroke-width="0.75"/><line x1="718.9" y1="231.2" x2="713.2" y2="221.6" stroke="#c4692a" stroke-width="0.75"/>
<line x1="725.9" y1="224.8" x2="716.9" y2="218.3" stroke="#c4692a" stroke-width="0.75"/><line x1="725.9" y1="224.8" x2="719.6" y2="216.2" stroke="#c4692a" stroke-width="0.75"/><line x1="725.9" y1="224.8" x2="722.4" y2="214.3" stroke="#c4692a" stroke-width="0.75"/>
<line x1="734.3" y1="220.0" x2="727.0" y2="211.6" stroke="#c4692a" stroke-width="0.75"/><line x1="734.3" y1="220.0" x2="730.1" y2="210.2" stroke="#c4692a" stroke-width="0.75"/><line x1="734.3" y1="220.0" x2="733.2" y2="208.9" stroke="#c4692a" stroke-width="0.75"/>
<line x1="744.4" y1="217.0" x2="740.0" y2="209.0" stroke="#c4692a" stroke-width="0.75"/><line x1="744.4" y1="217.0" x2="741.9" y2="208.6" stroke="#c4692a" stroke-width="0.75"/><line x1="744.4" y1="217.0" x2="743.9" y2="208.3" stroke="#c4692a" stroke-width="0.75"/><line x1="744.4" y1="217.0" x2="745.9" y2="208.0" stroke="#c4692a" stroke-width="0.75"/>
<line x1="785.8" y1="232.5" x2="790.6" y2="224.7" stroke="#c4692a" stroke-width="0.75"/><line x1="785.8" y1="232.5" x2="791.9" y2="226.2" stroke="#c4692a" stroke-width="0.75"/><line x1="785.8" y1="232.5" x2="793.2" y2="227.7" stroke="#c4692a" stroke-width="0.75"/><line x1="785.8" y1="232.5" x2="794.4" y2="229.3" stroke="#c4692a" stroke-width="0.75"/>
<line x1="795.2" y1="267.7" x2="804.2" y2="266.2" stroke="#c4692a" stroke-width="0.75"/><line x1="795.2" y1="267.7" x2="803.9" y2="268.2" stroke="#c4692a" stroke-width="0.75"/><line x1="795.2" y1="267.7" x2="803.6" y2="270.2" stroke="#c4692a" stroke-width="0.75"/><line x1="795.2" y1="267.7" x2="803.2" y2="272.1" stroke="#c4692a" stroke-width="0.75"/>
<line x1="779.4" y1="294.6" x2="787.2" y2="299.5" stroke="#c4692a" stroke-width="0.75"/><line x1="779.4" y1="294.6" x2="785.7" y2="300.8" stroke="#c4692a" stroke-width="0.75"/><line x1="779.4" y1="294.6" x2="784.1" y2="302.0" stroke="#c4692a" stroke-width="0.75"/><line x1="779.4" y1="294.6" x2="782.5" y2="303.2" stroke="#c4692a" stroke-width="0.75"/>
<line x1="740.7" y1="303.0" x2="741.4" y2="312.1" stroke="#c4692a" stroke-width="0.75"/><line x1="740.7" y1="303.0" x2="739.5" y2="311.6" stroke="#c4692a" stroke-width="0.75"/><line x1="740.7" y1="303.0" x2="737.6" y2="311.1" stroke="#c4692a" stroke-width="0.75"/><line x1="740.7" y1="303.0" x2="735.6" y2="310.6" stroke="#c4692a" stroke-width="0.75"/>
<line x1="711.7" y1="278.6" x2="705.1" y2="284.9" stroke="#c4692a" stroke-width="0.75"/><line x1="711.7" y1="278.6" x2="704.2" y2="283.1" stroke="#c4692a" stroke-width="0.75"/><line x1="711.7" y1="278.6" x2="703.4" y2="281.3" stroke="#c4692a" stroke-width="0.75"/><line x1="711.7" y1="278.6" x2="702.6" y2="279.4" stroke="#c4692a" stroke-width="0.75"/>
<line x1="712.7" y1="240.2" x2="703.7" y2="238.9" stroke="#c4692a" stroke-width="0.75"/><line x1="712.7" y1="240.2" x2="704.5" y2="237.1" stroke="#c4692a" stroke-width="0.75"/><line x1="712.7" y1="240.2" x2="705.4" y2="235.3" stroke="#c4692a" stroke-width="0.75"/><line x1="712.7" y1="240.2" x2="706.4" y2="233.6" stroke="#c4692a" stroke-width="0.75"/>
<ellipse cx="750.0" cy="203.2" rx="4.50" ry="1.60" fill="#6aab9c" stroke="#6aab9c" stroke-opacity="0.5" stroke-width="0.3" transform="rotate(-91.8 750.0 203.2)"/><ellipse cx="756.8" cy="203.4" rx="4.50" ry="1.60" fill="#6aab9c" stroke="#6aab9c" stroke-opacity="0.5" stroke-width="0.3" transform="rotate(-85.0 756.8 203.4)"/><ellipse cx="753.4" cy="202.5" rx="4.50" ry="1.60" fill="#6aab9c" stroke="#6aab9c" stroke-opacity="0.5" stroke-width="0.3" transform="rotate(-88.4 753.4 202.5)"/>
<ellipse cx="762.7" cy="204.2" rx="4.50" ry="1.60" fill="#6aab9c" stroke="#6aab9c" stroke-opacity="0.5" stroke-width="0.3" transform="rotate(-79.0 762.7 204.2)"/><ellipse cx="769.3" cy="205.9" rx="4.50" ry="1.60" fill="#6aab9c" stroke="#6aab9c" stroke-opacity="0.5" stroke-width="0.3" transform="rotate(-72.2 769.3 205.9)"/><ellipse cx="766.2" cy="204.3" rx="4.50" ry="1.60" fill="#6aab9c" stroke="#6aab9c" stroke-opacity="0.5" stroke-width="0.3" transform="rotate(-75.6 766.2 204.3)"/>
<ellipse cx="774.3" cy="207.8" rx="4.50" ry="1.60" fill="#6aab9c" stroke="#6aab9c" stroke-opacity="0.5" stroke-width="0.3" transform="rotate(-66.8 774.3 207.8)"/><ellipse cx="780.4" cy="210.9" rx="4.50" ry="1.60" fill="#6aab9c" stroke="#6aab9c" stroke-opacity="0.5" stroke-width="0.3" transform="rotate(-60.0 780.4 210.9)"/><ellipse cx="777.7" cy="208.6" rx="4.50" ry="1.60" fill="#6aab9c" stroke="#6aab9c" stroke-opacity="0.5" stroke-width="0.3" transform="rotate(-63.4 777.7 208.6)"/>
<ellipse cx="784.5" cy="213.5" rx="4.50" ry="1.60" fill="#6aab9c" stroke="#6aab9c" stroke-opacity="0.5" stroke-width="0.3" transform="rotate(-55.1 784.5 213.5)"/><ellipse cx="789.9" cy="217.7" rx="4.50" ry="1.60" fill="#6aab9c" stroke="#6aab9c" stroke-opacity="0.5" stroke-width="0.3" transform="rotate(-48.3 789.9 217.7)"/><ellipse cx="787.7" cy="215.0" rx="4.50" ry="1.60" fill="#6aab9c" stroke="#6aab9c" stroke-opacity="0.5" stroke-width="0.3" transform="rotate(-51.7 787.7 215.0)"/>
<ellipse cx="801.0" cy="231.2" rx="4.50" ry="1.60" fill="#6aab9c" stroke="#6aab9c" stroke-opacity="0.5" stroke-width="0.3" transform="rotate(-30.7 801.0 231.2)"/><ellipse cx="804.1" cy="237.2" rx="4.50" ry="1.60" fill="#6aab9c" stroke="#6aab9c" stroke-opacity="0.5" stroke-width="0.3" transform="rotate(-23.9 804.1 237.2)"/><ellipse cx="803.3" cy="233.8" rx="4.50" ry="1.60" fill="#6aab9c" stroke="#6aab9c" stroke-opacity="0.5" stroke-width="0.3" transform="rotate(-27.3 803.3 233.8)"/>
<ellipse cx="805.9" cy="241.9" rx="4.50" ry="1.60" fill="#6aab9c" stroke="#6aab9c" stroke-opacity="0.5" stroke-width="0.3" transform="rotate(-18.9 805.9 241.9)"/><ellipse cx="807.7" cy="248.4" rx="4.50" ry="1.60" fill="#6aab9c" stroke="#6aab9c" stroke-opacity="0.5" stroke-width="0.3" transform="rotate(-12.1 807.7 248.4)"/><ellipse cx="807.6" cy="244.9" rx="4.50" ry="1.60" fill="#6aab9c" stroke="#6aab9c" stroke-opacity="0.5" stroke-width="0.3" transform="rotate(-15.5 807.6 244.9)"/>
<ellipse cx="808.4" cy="252.3" rx="4.50" ry="1.60" fill="#6aab9c" stroke="#6aab9c" stroke-opacity="0.5" stroke-width="0.3" transform="rotate(-8.1 808.4 252.3)"/><ellipse cx="809.0" cy="259.1" rx="4.50" ry="1.60" fill="#6aab9c" stroke="#6aab9c" stroke-opacity="0.5" stroke-width="0.3" transform="rotate(-1.3 809.0 259.1)"/><ellipse cx="809.5" cy="255.7" rx="4.50" ry="1.60" fill="#6aab9c" stroke="#6aab9c" stroke-opacity="0.5" stroke-width="0.3" transform="rotate(-4.7 809.5 255.7)"/>
<ellipse cx="805.9" cy="279.0" rx="4.50" ry="1.60" fill="#6aab9c" stroke="#6aab9c" stroke-opacity="0.5" stroke-width="0.3" transform="rotate(19.0 805.9 279.0)"/><ellipse cx="803.3" cy="285.3" rx="4.50" ry="1.60" fill="#6aab9c" stroke="#6aab9c" stroke-opacity="0.5" stroke-width="0.3" transform="rotate(25.8 803.3 285.3)"/><ellipse cx="805.3" cy="282.5" rx="4.50" ry="1.60" fill="#6aab9c" stroke="#6aab9c" stroke-opacity="0.5" stroke-width="0.3" transform="rotate(22.4 805.3 282.5)"/>
<ellipse cx="799.8" cy="291.5" rx="4.50" ry="1.60" fill="#6aab9c" stroke="#6aab9c" stroke-opacity="0.5" stroke-width="0.3" transform="rotate(32.9 799.8 291.5)"/><ellipse cx="795.8" cy="296.9" rx="4.50" ry="1.60" fill="#6aab9c" stroke="#6aab9c" stroke-opacity="0.5" stroke-width="0.3" transform="rotate(39.7 795.8 296.9)"/><ellipse cx="798.5" cy="294.7" rx="4.50" ry="1.60" fill="#6aab9c" stroke="#6aab9c" stroke-opacity="0.5" stroke-width="0.3" transform="rotate(36.3 798.5 294.7)"/>
<ellipse cx="777.4" cy="311.5" rx="4.50" ry="1.60" fill="#6aab9c" stroke="#6aab9c" stroke-opacity="0.5" stroke-width="0.3" transform="rotate(63.4 777.4 311.5)"/><ellipse cx="771.2" cy="314.2" rx="4.50" ry="1.60" fill="#6aab9c" stroke="#6aab9c" stroke-opacity="0.5" stroke-width="0.3" transform="rotate(70.2 771.2 314.2)"/><ellipse cx="774.6" cy="313.6" rx="4.50" ry="1.60" fill="#6aab9c" stroke="#6aab9c" stroke-opacity="0.5" stroke-width="0.3" transform="rotate(66.8 774.6 313.6)"/>
<ellipse cx="767.0" cy="315.5" rx="4.50" ry="1.60" fill="#6aab9c" stroke="#6aab9c" stroke-opacity="0.5" stroke-width="0.3" transform="rotate(74.6 767.0 315.5)"/><ellipse cx="760.3" cy="317.0" rx="4.50" ry="1.60" fill="#6aab9c" stroke="#6aab9c" stroke-opacity="0.5" stroke-width="0.3" transform="rotate(81.4 760.3 317.0)"/><ellipse cx="763.8" cy="317.0" rx="4.50" ry="1.60" fill="#6aab9c" stroke="#6aab9c" stroke-opacity="0.5" stroke-width="0.3" transform="rotate(78.0 763.8 317.0)"/>
<ellipse cx="754.4" cy="317.5" rx="4.50" ry="1.60" fill="#6aab9c" stroke="#6aab9c" stroke-opacity="0.5" stroke-width="0.3" transform="rotate(87.4 754.4 317.5)"/><ellipse cx="747.6" cy="317.4" rx="4.50" ry="1.60" fill="#6aab9c" stroke="#6aab9c" stroke-opacity="0.5" stroke-width="0.3" transform="rotate(94.2 747.6 317.4)"/><ellipse cx="751.0" cy="318.3" rx="4.50" ry="1.60" fill="#6aab9c" stroke="#6aab9c" stroke-opacity="0.5" stroke-width="0.3" transform="rotate(90.8 751.0 318.3)"/>
<ellipse cx="728.6" cy="312.7" rx="4.50" ry="1.60" fill="#6aab9c" stroke="#6aab9c" stroke-opacity="0.5" stroke-width="0.3" transform="rotate(113.9 728.6 312.7)"/><ellipse cx="722.6" cy="309.6" rx="4.50" ry="1.60" fill="#6aab9c" stroke="#6aab9c" stroke-opacity="0.5" stroke-width="0.3" transform="rotate(120.7 722.6 309.6)"/><ellipse cx="725.2" cy="311.9" rx="4.50" ry="1.60" fill="#6aab9c" stroke="#6aab9c" stroke-opacity="0.5" stroke-width="0.3" transform="rotate(117.3 725.2 311.9)"/>
<ellipse cx="718.5" cy="306.9" rx="4.50" ry="1.60" fill="#6aab9c" stroke="#6aab9c" stroke-opacity="0.5" stroke-width="0.3" transform="rotate(125.6 718.5 306.9)"/><ellipse cx="713.2" cy="302.6" rx="4.50" ry="1.60" fill="#6aab9c" stroke="#6aab9c" stroke-opacity="0.5" stroke-width="0.3" transform="rotate(132.4 713.2 302.6)"/><ellipse cx="715.4" cy="305.4" rx="4.50" ry="1.60" fill="#6aab9c" stroke="#6aab9c" stroke-opacity="0.5" stroke-width="0.3" transform="rotate(129.0 715.4 305.4)"/>
<ellipse cx="709.2" cy="298.5" rx="4.50" ry="1.60" fill="#6aab9c" stroke="#6aab9c" stroke-opacity="0.5" stroke-width="0.3" transform="rotate(138.2 709.2 298.5)"/><ellipse cx="704.9" cy="293.2" rx="4.50" ry="1.60" fill="#6aab9c" stroke="#6aab9c" stroke-opacity="0.5" stroke-width="0.3" transform="rotate(145.0 704.9 293.2)"/><ellipse cx="706.4" cy="296.4" rx="4.50" ry="1.60" fill="#6aab9c" stroke="#6aab9c" stroke-opacity="0.5" stroke-width="0.3" transform="rotate(141.6 706.4 296.4)"/>
<ellipse cx="695.9" cy="272.4" rx="4.50" ry="1.60" fill="#6aab9c" stroke="#6aab9c" stroke-opacity="0.5" stroke-width="0.3" transform="rotate(167.9 695.9 272.4)"/><ellipse cx="694.8" cy="265.7" rx="4.50" ry="1.60" fill="#6aab9c" stroke="#6aab9c" stroke-opacity="0.5" stroke-width="0.3" transform="rotate(174.7 694.8 265.7)"/><ellipse cx="694.6" cy="269.2" rx="4.50" ry="1.60" fill="#6aab9c" stroke="#6aab9c" stroke-opacity="0.5" stroke-width="0.3" transform="rotate(171.3 694.6 269.2)"/>
<ellipse cx="694.6" cy="261.4" rx="4.50" ry="1.60" fill="#6aab9c" stroke="#6aab9c" stroke-opacity="0.5" stroke-width="0.3" transform="rotate(179.0 694.6 261.4)"/><ellipse cx="694.9" cy="254.6" rx="4.50" ry="1.60" fill="#6aab9c" stroke="#6aab9c" stroke-opacity="0.5" stroke-width="0.3" transform="rotate(185.8 694.9 254.6)"/><ellipse cx="694.0" cy="258.0" rx="4.50" ry="1.60" fill="#6aab9c" stroke="#6aab9c" stroke-opacity="0.5" stroke-width="0.3" transform="rotate(182.4 694.0 258.0)"/>
<ellipse cx="695.6" cy="249.7" rx="4.50" ry="1.60" fill="#6aab9c" stroke="#6aab9c" stroke-opacity="0.5" stroke-width="0.3" transform="rotate(190.8 695.6 249.7)"/><ellipse cx="697.3" cy="243.1" rx="4.50" ry="1.60" fill="#6aab9c" stroke="#6aab9c" stroke-opacity="0.5" stroke-width="0.3" transform="rotate(197.6 697.3 243.1)"/><ellipse cx="695.7" cy="246.2" rx="4.50" ry="1.60" fill="#6aab9c" stroke="#6aab9c" stroke-opacity="0.5" stroke-width="0.3" transform="rotate(194.2 695.7 246.2)"/>
<ellipse cx="706.8" cy="225.0" rx="4.50" ry="1.60" fill="#6aab9c" stroke="#6aab9c" stroke-opacity="0.5" stroke-width="0.3" transform="rotate(218.2 706.8 225.0)"/><ellipse cx="711.4" cy="219.9" rx="4.50" ry="1.60" fill="#6aab9c" stroke="#6aab9c" stroke-opacity="0.5" stroke-width="0.3" transform="rotate(225.0 711.4 219.9)"/><ellipse cx="708.5" cy="222.0" rx="4.50" ry="1.60" fill="#6aab9c" stroke="#6aab9c" stroke-opacity="0.5" stroke-width="0.3" transform="rotate(221.6 708.5 222.0)"/>
<ellipse cx="715.4" cy="216.3" rx="4.50" ry="1.60" fill="#6aab9c" stroke="#6aab9c" stroke-opacity="0.5" stroke-width="0.3" transform="rotate(230.5 715.4 216.3)"/><ellipse cx="720.9" cy="212.3" rx="4.50" ry="1.60" fill="#6aab9c" stroke="#6aab9c" stroke-opacity="0.5" stroke-width="0.3" transform="rotate(237.3 720.9 212.3)"/><ellipse cx="717.7" cy="213.6" rx="4.50" ry="1.60" fill="#6aab9c" stroke="#6aab9c" stroke-opacity="0.5" stroke-width="0.3" transform="rotate(233.9 717.7 213.6)"/>
<ellipse cx="726.0" cy="209.3" rx="4.50" ry="1.60" fill="#6aab9c" stroke="#6aab9c" stroke-opacity="0.5" stroke-width="0.3" transform="rotate(243.2 726.0 209.3)"/><ellipse cx="732.2" cy="206.6" rx="4.50" ry="1.60" fill="#6aab9c" stroke="#6aab9c" stroke-opacity="0.5" stroke-width="0.3" transform="rotate(250.0 732.2 206.6)"/><ellipse cx="728.8" cy="207.3" rx="4.50" ry="1.60" fill="#6aab9c" stroke="#6aab9c" stroke-opacity="0.5" stroke-width="0.3" transform="rotate(246.6 728.8 207.3)"/>
<circle cx="740.7" cy="207.1" r="3.20" fill="#d3271a"/><circle cx="744.6" cy="206.4" r="3.20" fill="#d3271a"/><circle cx="742.7" cy="207.1" r="3.20" fill="#de2a1c"/><circle cx="739.3" cy="203.7" r="3.35" fill="#f0301f"/><circle cx="744.8" cy="202.8" r="3.35" fill="#fb3b27"/>
<circle cx="792.6" cy="224.3" r="3.20" fill="#d3271a"/><circle cx="795.1" cy="227.4" r="3.20" fill="#d3271a"/><circle cx="793.6" cy="226.1" r="3.20" fill="#de2a1c"/><circle cx="794.8" cy="221.4" r="3.35" fill="#f0301f"/><circle cx="798.4" cy="225.7" r="3.35" fill="#fb3b27"/>
<circle cx="805.8" cy="267.5" r="3.20" fill="#d3271a"/><circle cx="805.1" cy="271.4" r="3.20" fill="#d3271a"/><circle cx="805.1" cy="269.4" r="3.20" fill="#de2a1c"/><circle cx="809.5" cy="267.3" r="3.35" fill="#f0301f"/><circle cx="808.5" cy="272.8" r="3.35" fill="#fb3b27"/>
<circle cx="787.5" cy="301.5" r="3.20" fill="#d3271a"/><circle cx="784.4" cy="304.0" r="3.20" fill="#d3271a"/><circle cx="785.8" cy="302.5" r="3.20" fill="#de2a1c"/><circle cx="790.4" cy="303.8" r="3.35" fill="#f0301f"/><circle cx="786.0" cy="307.3" r="3.35" fill="#fb3b27"/>
<circle cx="740.0" cy="313.5" r="3.20" fill="#d3271a"/><circle cx="736.2" cy="312.5" r="3.20" fill="#d3271a"/><circle cx="738.2" cy="312.8" r="3.20" fill="#de2a1c"/><circle cx="739.9" cy="317.2" r="3.35" fill="#f0301f"/><circle cx="734.5" cy="315.8" r="3.35" fill="#fb3b27"/>
<circle cx="703.1" cy="284.7" r="3.20" fill="#d3271a"/><circle cx="701.4" cy="281.1" r="3.20" fill="#d3271a"/><circle cx="702.5" cy="282.7" r="3.20" fill="#de2a1c"/><circle cx="700.1" cy="286.9" r="3.35" fill="#f0301f"/><circle cx="697.8" cy="281.8" r="3.35" fill="#fb3b27"/>
<circle cx="702.5" cy="237.2" r="3.20" fill="#d3271a"/><circle cx="704.4" cy="233.7" r="3.20" fill="#d3271a"/><circle cx="703.7" cy="235.6" r="3.20" fill="#de2a1c"/><circle cx="699.0" cy="236.3" r="3.35" fill="#f0301f"/><circle cx="701.5" cy="231.3" r="3.35" fill="#fb3b27"/>
<circle cx="751.8" cy="260.4" r="44.10" fill="none" stroke="#ecc38a" stroke-width="0.45" stroke-dasharray="2.2 1"/>
<ellipse cx="748.9" cy="218.5" rx="3.25" ry="1.3" fill="#bfe627" transform="rotate(-4.0 748.9 218.5)"/><ellipse cx="755.5" cy="218.6" rx="3.25" ry="1.3" fill="#bfe627" transform="rotate(5.0 755.5 218.6)"/><ellipse cx="762.0" cy="219.6" rx="3.25" ry="1.3" fill="#bfe627" transform="rotate(14.0 762.0 219.6)"/><ellipse cx="768.2" cy="221.7" rx="3.25" ry="1.3" fill="#bfe627" transform="rotate(23.0 768.2 221.7)"/><ellipse cx="774.1" cy="224.8" rx="3.25" ry="1.3" fill="#bfe627" transform="rotate(32.0 774.1 224.8)"/><ellipse cx="779.4" cy="228.7" rx="3.25" ry="1.3" fill="#bfe627" transform="rotate(41.0 779.4 228.7)"/><ellipse cx="784.0" cy="233.4" rx="3.25" ry="1.3" fill="#bfe627" transform="rotate(50.0 784.0 233.4)"/><ellipse cx="787.8" cy="238.8" rx="3.25" ry="1.3" fill="#bfe627" transform="rotate(59.0 787.8 238.8)"/><ellipse cx="790.7" cy="244.7" rx="3.25" ry="1.3" fill="#bfe627" transform="rotate(68.0 790.7 244.7)"/><ellipse cx="792.7" cy="251.0" rx="3.25" ry="1.3" fill="#bfe627" transform="rotate(77.0 792.7 251.0)"/><ellipse cx="793.7" cy="257.5" rx="3.25" ry="1.3" fill="#bfe627" transform="rotate(86.0 793.7 257.5)"/><ellipse cx="793.6" cy="264.1" rx="3.25" ry="1.3" fill="#bfe627" transform="rotate(95.0 793.6 264.1)"/><ellipse cx="792.6" cy="270.6" rx="3.25" ry="1.3" fill="#bfe627" transform="rotate(104.0 792.6 270.6)"/><ellipse cx="790.5" cy="276.8" rx="3.25" ry="1.3" fill="#bfe627" transform="rotate(113.0 790.5 276.8)"/><ellipse cx="787.4" cy="282.7" rx="3.25" ry="1.3" fill="#bfe627" transform="rotate(122.0 787.4 282.7)"/><ellipse cx="783.5" cy="288.0" rx="3.25" ry="1.3" fill="#bfe627" transform="rotate(131.0 783.5 288.0)"/><ellipse cx="778.8" cy="292.6" rx="3.25" ry="1.3" fill="#bfe627" transform="rotate(140.0 778.8 292.6)"/><ellipse cx="773.4" cy="296.4" rx="3.25" ry="1.3" fill="#bfe627" transform="rotate(149.0 773.4 296.4)"/><ellipse cx="767.5" cy="299.3" rx="3.25" ry="1.3" fill="#bfe627" transform="rotate(158.0 767.5 299.3)"/><ellipse cx="761.2" cy="301.3" rx="3.25" ry="1.3" fill="#bfe627" transform="rotate(167.0 761.2 301.3)"/><ellipse cx="754.7" cy="302.3" rx="3.25" ry="1.3" fill="#bfe627" transform="rotate(176.0 754.7 302.3)"/><ellipse cx="748.1" cy="302.2" rx="3.25" ry="1.3" fill="#bfe627" transform="rotate(185.0 748.1 302.2)"/><ellipse cx="741.6" cy="301.2" rx="3.25" ry="1.3" fill="#bfe627" transform="rotate(194.0 741.6 301.2)"/><ellipse cx="735.4" cy="299.1" rx="3.25" ry="1.3" fill="#bfe627" transform="rotate(203.0 735.4 299.1)"/><ellipse cx="729.5" cy="296.0" rx="3.25" ry="1.3" fill="#bfe627" transform="rotate(212.0 729.5 296.0)"/><ellipse cx="724.2" cy="292.1" rx="3.25" ry="1.3" fill="#bfe627" transform="rotate(221.0 724.2 292.1)"/><ellipse cx="719.6" cy="287.4" rx="3.25" ry="1.3" fill="#bfe627" transform="rotate(230.0 719.6 287.4)"/><ellipse cx="715.8" cy="282.0" rx="3.25" ry="1.3" fill="#bfe627" transform="rotate(239.0 715.8 282.0)"/><ellipse cx="712.9" cy="276.1" rx="3.25" ry="1.3" fill="#bfe627" transform="rotate(248.0 712.9 276.1)"/><ellipse cx="710.9" cy="269.8" rx="3.25" ry="1.3" fill="#bfe627" transform="rotate(257.0 710.9 269.8)"/><ellipse cx="709.9" cy="263.3" rx="3.25" ry="1.3" fill="#bfe627" transform="rotate(266.0 709.9 263.3)"/><ellipse cx="710.0" cy="256.7" rx="3.25" ry="1.3" fill="#bfe627" transform="rotate(275.0 710.0 256.7)"/><ellipse cx="711.0" cy="250.2" rx="3.25" ry="1.3" fill="#bfe627" transform="rotate(284.0 711.0 250.2)"/><ellipse cx="713.1" cy="244.0" rx="3.25" ry="1.3" fill="#bfe627" transform="rotate(293.0 713.1 244.0)"/><ellipse cx="716.2" cy="238.1" rx="3.25" ry="1.3" fill="#bfe627" transform="rotate(302.0 716.2 238.1)"/><ellipse cx="720.1" cy="232.8" rx="3.25" ry="1.3" fill="#bfe627" transform="rotate(311.0 720.1 232.8)"/><ellipse cx="724.8" cy="228.2" rx="3.25" ry="1.3" fill="#bfe627" transform="rotate(320.0 724.8 228.2)"/><ellipse cx="730.2" cy="224.4" rx="3.25" ry="1.3" fill="#bfe627" transform="rotate(329.0 730.2 224.4)"/><ellipse cx="736.1" cy="221.5" rx="3.25" ry="1.3" fill="#bfe627" transform="rotate(338.0 736.1 221.5)"/><ellipse cx="742.4" cy="219.5" rx="3.25" ry="1.3" fill="#bfe627" transform="rotate(347.0 742.4 219.5)"/>
<rect x="727.1" y="234.2" width="48.8" height="2.9" fill="#4b6b7d"/>
<rect x="728.4" y="242.0" width="46.2" height="2.9" fill="#4b6b7d"/>
<rect x="729.7" y="249.8" width="43.6" height="2.9" fill="#4b6b7d"/>
<rect x="731.0" y="257.6" width="41.0" height="2.9" fill="#5f9f98"/>
<rect x="732.3" y="265.4" width="38.4" height="2.9" fill="#4b6b7d"/>
<rect x="733.6" y="273.1" width="35.8" height="2.9" fill="#f5301f"/>
<rect x="734.9" y="280.9" width="33.2" height="2.9" fill="#b5e51d"/>
<rect x="736.2" y="288.7" width="30.6" height="2.9" fill="#4b6b7d"/>
<text x="801.4" y="225.6" font-size="12.2" font-weight="bold" fill="#f0141e">N2</text>
<text x="812.4" y="250.3" font-size="12" fill="#6aab9c">H3</text>
<text x="818.3" y="286.0" font-size="11.4" font-weight="bold" fill="#b5e51d">M1</text>
<line x1="794.8" y1="275.4" x2="817.6" y2="282.6" stroke="#000" stroke-width="1.2"/>
<path d="M794.4 275.3 l3.6 -0.6 l-1 3 Z" fill="#000"/>
</g>
<g>
<circle cx="942.2" cy="104.0" r="45.50" fill="url(#inner)"/>
<circle cx="942.2" cy="104.0" r="47.50" fill="none" stroke="#aeeaf3" stroke-width="4.200000000000003"/>
<circle cx="942.2" cy="104.0" r="49.60" fill="none" stroke="#8fdbe6" stroke-width="0.5"/>
<circle cx="942.2" cy="104.0" r="45.70" fill="none" stroke="#8b9bd6" stroke-width="0.6"/>
<line x1="943.4" y1="60.0" x2="940.3" y2="49.3" stroke="#c4692a" stroke-width="0.75"/><line x1="943.4" y1="60.0" x2="943.7" y2="49.3" stroke="#c4692a" stroke-width="0.75"/><line x1="943.4" y1="60.0" x2="947.1" y2="49.5" stroke="#c4692a" stroke-width="0.75"/>
<line x1="953.1" y1="61.4" x2="952.5" y2="50.3" stroke="#c4692a" stroke-width="0.75"/><line x1="953.1" y1="61.4" x2="955.8" y2="51.0" stroke="#c4692a" stroke-width="0.75"/><line x1="953.1" y1="61.4" x2="959.1" y2="52.0" stroke="#c4692a" stroke-width="0.75"/>
<line x1="961.9" y1="64.7" x2="963.6" y2="53.7" stroke="#c4692a" stroke-width="0.75"/><line x1="961.9" y1="64.7" x2="966.7" y2="55.1" stroke="#c4692a" stroke-width="0.75"/><line x1="961.9" y1="64.7" x2="969.7" y2="56.7" stroke="#c4692a" stroke-width="0.75"/>
<line x1="969.5" y1="69.5" x2="973.4" y2="59.0" stroke="#c4692a" stroke-width="0.75"/><line x1="969.5" y1="69.5" x2="976.1" y2="61.1" stroke="#c4692a" stroke-width="0.75"/><line x1="969.5" y1="69.5" x2="978.7" y2="63.3" stroke="#c4692a" stroke-width="0.75"/>
<line x1="981.3" y1="83.8" x2="989.2" y2="75.9" stroke="#c4692a" stroke-width="0.75"/><line x1="981.3" y1="83.8" x2="990.8" y2="78.9" stroke="#c4692a" stroke-width="0.75"/><line x1="981.3" y1="83.8" x2="992.3" y2="82.0" stroke="#c4692a" stroke-width="0.75"/>
<line x1="984.6" y1="92.2" x2="993.9" y2="86.1" stroke="#c4692a" stroke-width="0.75"/><line x1="984.6" y1="92.2" x2="994.9" y2="89.4" stroke="#c4692a" stroke-width="0.75"/><line x1="984.6" y1="92.2" x2="995.7" y2="92.7" stroke="#c4692a" stroke-width="0.75"/>
<line x1="986.1" y1="100.4" x2="996.3" y2="96.1" stroke="#c4692a" stroke-width="0.75"/><line x1="986.1" y1="100.4" x2="996.7" y2="99.5" stroke="#c4692a" stroke-width="0.75"/><line x1="986.1" y1="100.4" x2="996.9" y2="102.9" stroke="#c4692a" stroke-width="0.75"/>
<line x1="982.9" y1="120.8" x2="994.0" y2="121.7" stroke="#c4692a" stroke-width="0.75"/><line x1="982.9" y1="120.8" x2="992.8" y2="124.8" stroke="#c4692a" stroke-width="0.75"/><line x1="982.9" y1="120.8" x2="991.4" y2="127.9" stroke="#c4692a" stroke-width="0.75"/>
<line x1="977.7" y1="130.0" x2="988.2" y2="133.6" stroke="#c4692a" stroke-width="0.75"/><line x1="977.7" y1="130.0" x2="986.3" y2="136.4" stroke="#c4692a" stroke-width="0.75"/><line x1="977.7" y1="130.0" x2="984.2" y2="139.1" stroke="#c4692a" stroke-width="0.75"/>
<line x1="959.5" y1="144.4" x2="966.8" y2="152.8" stroke="#c4692a" stroke-width="0.75"/><line x1="959.5" y1="144.4" x2="963.7" y2="154.3" stroke="#c4692a" stroke-width="0.75"/><line x1="959.5" y1="144.4" x2="960.6" y2="155.5" stroke="#c4692a" stroke-width="0.75"/>
<line x1="951.3" y1="147.0" x2="956.9" y2="156.7" stroke="#c4692a" stroke-width="0.75"/><line x1="951.3" y1="147.0" x2="953.6" y2="157.5" stroke="#c4692a" stroke-width="0.75"/><line x1="951.3" y1="147.0" x2="950.2" y2="158.1" stroke="#c4692a" stroke-width="0.75"/>
<line x1="941.6" y1="148.0" x2="944.8" y2="158.6" stroke="#c4692a" stroke-width="0.75"/><line x1="941.6" y1="148.0" x2="941.4" y2="158.7" stroke="#c4692a" stroke-width="0.75"/><line x1="941.6" y1="148.0" x2="938.0" y2="158.5" stroke="#c4692a" stroke-width="0.75"/>
<line x1="922.0" y1="143.1" x2="920.2" y2="154.1" stroke="#c4692a" stroke-width="0.75"/><line x1="922.0" y1="143.1" x2="917.1" y2="152.6" stroke="#c4692a" stroke-width="0.75"/><line x1="922.0" y1="143.1" x2="914.1" y2="151.0" stroke="#c4692a" stroke-width="0.75"/>
<line x1="914.5" y1="138.2" x2="910.5" y2="148.6" stroke="#c4692a" stroke-width="0.75"/><line x1="914.5" y1="138.2" x2="907.8" y2="146.5" stroke="#c4692a" stroke-width="0.75"/><line x1="914.5" y1="138.2" x2="905.2" y2="144.3" stroke="#c4692a" stroke-width="0.75"/>
<line x1="907.7" y1="131.3" x2="901.5" y2="140.6" stroke="#c4692a" stroke-width="0.75"/><line x1="907.7" y1="131.3" x2="899.3" y2="138.0" stroke="#c4692a" stroke-width="0.75"/><line x1="907.7" y1="131.3" x2="897.3" y2="135.2" stroke="#c4692a" stroke-width="0.75"/>
<line x1="898.7" y1="110.7" x2="888.7" y2="115.6" stroke="#c4692a" stroke-width="0.75"/><line x1="898.7" y1="110.7" x2="888.1" y2="112.3" stroke="#c4692a" stroke-width="0.75"/><line x1="898.7" y1="110.7" x2="887.7" y2="108.9" stroke="#c4692a" stroke-width="0.75"/>
<line x1="898.2" y1="102.2" x2="887.5" y2="105.1" stroke="#c4692a" stroke-width="0.75"/><line x1="898.2" y1="102.2" x2="887.5" y2="101.7" stroke="#c4692a" stroke-width="0.75"/><line x1="898.2" y1="102.2" x2="887.8" y2="98.3" stroke="#c4692a" stroke-width="0.75"/>
<line x1="899.5" y1="93.2" x2="888.4" y2="93.9" stroke="#c4692a" stroke-width="0.75"/><line x1="899.5" y1="93.2" x2="889.2" y2="90.6" stroke="#c4692a" stroke-width="0.75"/><line x1="899.5" y1="93.2" x2="890.1" y2="87.3" stroke="#c4692a" stroke-width="0.75"/>
<line x1="909.3" y1="74.8" x2="899.1" y2="70.3" stroke="#c4692a" stroke-width="0.75"/><line x1="909.3" y1="74.8" x2="901.3" y2="67.7" stroke="#c4692a" stroke-width="0.75"/><line x1="909.3" y1="74.8" x2="903.6" y2="65.2" stroke="#c4692a" stroke-width="0.75"/>
<line x1="916.3" y1="68.4" x2="907.3" y2="61.9" stroke="#c4692a" stroke-width="0.75"/><line x1="916.3" y1="68.4" x2="910.0" y2="59.8" stroke="#c4692a" stroke-width="0.75"/><line x1="916.3" y1="68.4" x2="912.8" y2="57.9" stroke="#c4692a" stroke-width="0.75"/>
<line x1="924.7" y1="63.6" x2="917.4" y2="55.2" stroke="#c4692a" stroke-width="0.75"/><line x1="924.7" y1="63.6" x2="920.5" y2="53.8" stroke="#c4692a" stroke-width="0.75"/><line x1="924.7" y1="63.6" x2="923.6" y2="52.5" stroke="#c4692a" stroke-width="0.75"/>
<line x1="934.8" y1="60.6" x2="930.4" y2="52.6" stroke="#c4692a" stroke-width="0.75"/><line x1="934.8" y1="60.6" x2="932.3" y2="52.2" stroke="#c4692a" stroke-width="0.75"/><line x1="934.8" y1="60.6" x2="934.3" y2="51.9" stroke="#c4692a" stroke-width="0.75"/><line x1="934.8" y1="60.6" x2="936.3" y2="51.6" stroke="#c4692a" stroke-width="0.75"/>
<line x1="976.2" y1="76.1" x2="981.0" y2="68.3" stroke="#c4692a" stroke-width="0.75"/><line x1="976.2" y1="76.1" x2="982.3" y2="69.8" stroke="#c4692a" stroke-width="0.75"/><line x1="976.2" y1="76.1" x2="983.6" y2="71.3" stroke="#c4692a" stroke-width="0.75"/><line x1="976.2" y1="76.1" x2="984.8" y2="72.9" stroke="#c4692a" stroke-width="0.75"/>
<line x1="985.6" y1="111.3" x2="994.6" y2="109.8" stroke="#c4692a" stroke-width="0.75"/><line x1="985.6" y1="111.3" x2="994.3" y2="111.8" stroke="#c4692a" stroke-width="0.75"/><line x1="985.6" y1="111.3" x2="994.0" y2="113.8" stroke="#c4692a" stroke-width="0.75"/><line x1="985.6" y1="111.3" x2="993.6" y2="115.7" stroke="#c4692a" stroke-width="0.75"/>
<line x1="969.8" y1="138.2" x2="977.6" y2="143.1" stroke="#c4692a" stroke-width="0.75"/><line x1="969.8" y1="138.2" x2="976.1" y2="144.4" stroke="#c4692a" stroke-width="0.75"/><line x1="969.8" y1="138.2" x2="974.5" y2="145.6" stroke="#c4692a" stroke-width="0.75"/><line x1="969.8" y1="138.2" x2="972.9" y2="146.8" stroke="#c4692a" stroke-width="0.75"/>
<line x1="931.1" y1="146.6" x2="931.8" y2="155.7" stroke="#c4692a" stroke-width="0.75"/><line x1="931.1" y1="146.6" x2="929.9" y2="155.2" stroke="#c4692a" stroke-width="0.75"/><line x1="931.1" y1="146.6" x2="928.0" y2="154.7" stroke="#c4692a" stroke-width="0.75"/><line x1="931.1" y1="146.6" x2="926.0" y2="154.2" stroke="#c4692a" stroke-width="0.75"/>
<line x1="902.1" y1="122.2" x2="895.5" y2="128.5" stroke="#c4692a" stroke-width="0.75"/><line x1="902.1" y1="122.2" x2="894.6" y2="126.7" stroke="#c4692a" stroke-width="0.75"/><line x1="902.1" y1="122.2" x2="893.8" y2="124.9" stroke="#c4692a" stroke-width="0.75"/><line x1="902.1" y1="122.2" x2="893.0" y2="123.0" stroke="#c4692a" stroke-width="0.75"/>
<line x1="903.1" y1="83.8" x2="894.1" y2="82.5" stroke="#c4692a" stroke-width="0.75"/><line x1="903.1" y1="83.8" x2="894.9" y2="80.7" stroke="#c4692a" stroke-width="0.75"/><line x1="903.1" y1="83.8" x2="895.8" y2="78.9" stroke="#c4692a" stroke-width="0.75"/><line x1="903.1" y1="83.8" x2="896.8" y2="77.2" stroke="#c4692a" stroke-width="0.75"/>
<ellipse cx="940.4" cy="46.8" rx="4.50" ry="1.60" fill="#f5ab8e" stroke="#f5ab8e" stroke-opacity="0.5" stroke-width="0.3" transform="rotate(-91.8 940.4 46.8)"/><ellipse cx="947.2" cy="47.0" rx="4.50" ry="1.60" fill="#f5ab8e" stroke="#f5ab8e" stroke-opacity="0.5" stroke-width="0.3" transform="rotate(-85.0 947.2 47.0)"/><ellipse cx="943.8" cy="46.1" rx="4.50" ry="1.60" fill="#f5ab8e" stroke="#f5ab8e" stroke-opacity="0.5" stroke-width="0.3" transform="rotate(-88.4 943.8 46.1)"/>
<ellipse cx="953.1" cy="47.8" rx="4.50" ry="1.60" fill="#f5ab8e" stroke="#f5ab8e" stroke-opacity="0.5" stroke-width="0.3" transform="rotate(-79.0 953.1 47.8)"/><ellipse cx="959.7" cy="49.5" rx="4.50" ry="1.60" fill="#f5ab8e" stroke="#f5ab8e" stroke-opacity="0.5" stroke-width="0.3" transform="rotate(-72.2 959.7 49.5)"/><ellipse cx="956.6" cy="47.9" rx="4.50" ry="1.60" fill="#f5ab8e" stroke="#f5ab8e" stroke-opacity="0.5" stroke-width="0.3" transform="rotate(-75.6 956.6 47.9)"/>
<ellipse cx="964.7" cy="51.4" rx="4.50" ry="1.60" fill="#f5ab8e" stroke="#f5ab8e" stroke-opacity="0.5" stroke-width="0.3" transform="rotate(-66.8 964.7 51.4)"/><ellipse cx="970.8" cy="54.5" rx="4.50" ry="1.60" fill="#f5ab8e" stroke="#f5ab8e" stroke-opacity="0.5" stroke-width="0.3" transform="rotate(-60.0 970.8 54.5)"/><ellipse cx="968.1" cy="52.2" rx="4.50" ry="1.60" fill="#f5ab8e" stroke="#f5ab8e" stroke-opacity="0.5" stroke-width="0.3" transform="rotate(-63.4 968.1 52.2)"/>
<ellipse cx="974.9" cy="57.1" rx="4.50" ry="1.60" fill="#f5ab8e" stroke="#f5ab8e" stroke-opacity="0.5" stroke-width="0.3" transform="rotate(-55.1 974.9 57.1)"/><ellipse cx="980.3" cy="61.3" rx="4.50" ry="1.60" fill="#f5ab8e" stroke="#f5ab8e" stroke-opacity="0.5" stroke-width="0.3" transform="rotate(-48.3 980.3 61.3)"/><ellipse cx="978.1" cy="58.6" rx="4.50" ry="1.60" fill="#f5ab8e" stroke="#f5ab8e" stroke-opacity="0.5" stroke-width="0.3" transform="rotate(-51.7 978.1 58.6)"/>
<ellipse cx="991.4" cy="74.8" rx="4.50" ry="1.60" fill="#f5ab8e" stroke="#f5ab8e" stroke-opacity="0.5" stroke-width="0.3" transform="rotate(-30.7 991.4 74.8)"/><ellipse cx="994.5" cy="80.8" rx="4.50" ry="1.60" fill="#f5ab8e" stroke="#f5ab8e" stroke-opacity="0.5" stroke-width="0.3" transform="rotate(-23.9 994.5 80.8)"/><ellipse cx="993.7" cy="77.4" rx="4.50" ry="1.60" fill="#f5ab8e" stroke="#f5ab8e" stroke-opacity="0.5" stroke-width="0.3" transform="rotate(-27.3 993.7 77.4)"/>
<ellipse cx="996.3" cy="85.5" rx="4.50" ry="1.60" fill="#f5ab8e" stroke="#f5ab8e" stroke-opacity="0.5" stroke-width="0.3" transform="rotate(-18.9 996.3 85.5)"/><ellipse cx="998.1" cy="92.0" rx="4.50" ry="1.60" fill="#f5ab8e" stroke="#f5ab8e" stroke-opacity="0.5" stroke-width="0.3" transform="rotate(-12.1 998.1 92.0)"/><ellipse cx="998.0" cy="88.5" rx="4.50" ry="1.60" fill="#f5ab8e" stroke="#f5ab8e" stroke-opacity="0.5" stroke-width="0.3" transform="rotate(-15.5 998.0 88.5)"/>
<ellipse cx="998.8" cy="95.9" rx="4.50" ry="1.60" fill="#f5ab8e" stroke="#f5ab8e" stroke-opacity="0.5" stroke-width="0.3" transform="rotate(-8.1 998.8 95.9)"/><ellipse cx="999.4" cy="102.7" rx="4.50" ry="1.60" fill="#f5ab8e" stroke="#f5ab8e" stroke-opacity="0.5" stroke-width="0.3" transform="rotate(-1.3 999.4 102.7)"/><ellipse cx="999.9" cy="99.3" rx="4.50" ry="1.60" fill="#f5ab8e" stroke="#f5ab8e" stroke-opacity="0.5" stroke-width="0.3" transform="rotate(-4.7 999.9 99.3)"/>
<ellipse cx="996.3" cy="122.6" rx="4.50" ry="1.60" fill="#f5ab8e" stroke="#f5ab8e" stroke-opacity="0.5" stroke-width="0.3" transform="rotate(19.0 996.3 122.6)"/><ellipse cx="993.7" cy="128.9" rx="4.50" ry="1.60" fill="#f5ab8e" stroke="#f5ab8e" stroke-opacity="0.5" stroke-width="0.3" transform="rotate(25.8 993.7 128.9)"/><ellipse cx="995.7" cy="126.1" rx="4.50" ry="1.60" fill="#f5ab8e" stroke="#f5ab8e" stroke-opacity="0.5" stroke-width="0.3" transform="rotate(22.4 995.7 126.1)"/>
<ellipse cx="990.2" cy="135.1" rx="4.50" ry="1.60" fill="#f5ab8e" stroke="#f5ab8e" stroke-opacity="0.5" stroke-width="0.3" transform="rotate(32.9 990.2 135.1)"/><ellipse cx="986.2" cy="140.5" rx="4.50" ry="1.60" fill="#f5ab8e" stroke="#f5ab8e" stroke-opacity="0.5" stroke-width="0.3" transform="rotate(39.7 986.2 140.5)"/><ellipse cx="988.9" cy="138.3" rx="4.50" ry="1.60" fill="#f5ab8e" stroke="#f5ab8e" stroke-opacity="0.5" stroke-width="0.3" transform="rotate(36.3 988.9 138.3)"/>
<ellipse cx="967.8" cy="155.1" rx="4.50" ry="1.60" fill="#f5ab8e" stroke="#f5ab8e" stroke-opacity="0.5" stroke-width="0.3" transform="rotate(63.4 967.8 155.1)"/><ellipse cx="961.6" cy="157.8" rx="4.50" ry="1.60" fill="#f5ab8e" stroke="#f5ab8e" stroke-opacity="0.5" stroke-width="0.3" transform="rotate(70.2 961.6 157.8)"/><ellipse cx="965.0" cy="157.2" rx="4.50" ry="1.60" fill="#f5ab8e" stroke="#f5ab8e" stroke-opacity="0.5" stroke-width="0.3" transform="rotate(66.8 965.0 157.2)"/>
<ellipse cx="957.4" cy="159.1" rx="4.50" ry="1.60" fill="#f5ab8e" stroke="#f5ab8e" stroke-opacity="0.5" stroke-width="0.3" transform="rotate(74.6 957.4 159.1)"/><ellipse cx="950.7" cy="160.6" rx="4.50" ry="1.60" fill="#f5ab8e" stroke="#f5ab8e" stroke-opacity="0.5" stroke-width="0.3" transform="rotate(81.4 950.7 160.6)"/><ellipse cx="954.2" cy="160.6" rx="4.50" ry="1.60" fill="#f5ab8e" stroke="#f5ab8e" stroke-opacity="0.5" stroke-width="0.3" transform="rotate(78.0 954.2 160.6)"/>
<ellipse cx="944.8" cy="161.1" rx="4.50" ry="1.60" fill="#f5ab8e" stroke="#f5ab8e" stroke-opacity="0.5" stroke-width="0.3" transform="rotate(87.4 944.8 161.1)"/><ellipse cx="938.0" cy="161.0" rx="4.50" ry="1.60" fill="#f5ab8e" stroke="#f5ab8e" stroke-opacity="0.5" stroke-width="0.3" transform="rotate(94.2 938.0 161.0)"/><ellipse cx="941.4" cy="161.9" rx="4.50" ry="1.60" fill="#f5ab8e" stroke="#f5ab8e" stroke-opacity="0.5" stroke-width="0.3" transform="rotate(90.8 941.4 161.9)"/>
<ellipse cx="919.0" cy="156.3" rx="4.50" ry="1.60" fill="#f5ab8e" stroke="#f5ab8e" stroke-opacity="0.5" stroke-width="0.3" transform="rotate(113.9 919.0 156.3)"/><ellipse cx="913.0" cy="153.2" rx="4.50" ry="1.60" fill="#f5ab8e" stroke="#f5ab8e" stroke-opacity="0.5" stroke-width="0.3" transform="rotate(120.7 913.0 153.2)"/><ellipse cx="915.6" cy="155.5" rx="4.50" ry="1.60" fill="#f5ab8e" stroke="#f5ab8e" stroke-opacity="0.5" stroke-width="0.3" transform="rotate(117.3 915.6 155.5)"/>
<ellipse cx="908.9" cy="150.5" rx="4.50" ry="1.60" fill="#f5ab8e" stroke="#f5ab8e" stroke-opacity="0.5" stroke-width="0.3" transform="rotate(125.6 908.9 150.5)"/><ellipse cx="903.6" cy="146.2" rx="4.50" ry="1.60" fill="#f5ab8e" stroke="#f5ab8e" stroke-opacity="0.5" stroke-width="0.3" transform="rotate(132.4 903.6 146.2)"/><ellipse cx="905.8" cy="149.0" rx="4.50" ry="1.60" fill="#f5ab8e" stroke="#f5ab8e" stroke-opacity="0.5" stroke-width="0.3" transform="rotate(129.0 905.8 149.0)"/>
<ellipse cx="899.6" cy="142.1" rx="4.50" ry="1.60" fill="#f5ab8e" stroke="#f5ab8e" stroke-opacity="0.5" stroke-width="0.3" transform="rotate(138.2 899.6 142.1)"/><ellipse cx="895.3" cy="136.8" rx="4.50" ry="1.60" fill="#f5ab8e" stroke="#f5ab8e" stroke-opacity="0.5" stroke-width="0.3" transform="rotate(145.0 895.3 136.8)"/><ellipse cx="896.8" cy="140.0" rx="4.50" ry="1.60" fill="#f5ab8e" stroke="#f5ab8e" stroke-opacity="0.5" stroke-width="0.3" transform="rotate(141.6 896.8 140.0)"/>
<ellipse cx="886.3" cy="116.0" rx="4.50" ry="1.60" fill="#f5ab8e" stroke="#f5ab8e" stroke-opacity="0.5" stroke-width="0.3" transform="rotate(167.9 886.3 116.0)"/><ellipse cx="885.2" cy="109.3" rx="4.50" ry="1.60" fill="#f5ab8e" stroke="#f5ab8e" stroke-opacity="0.5" stroke-width="0.3" transform="rotate(174.7 885.2 109.3)"/><ellipse cx="885.0" cy="112.8" rx="4.50" ry="1.60" fill="#f5ab8e" stroke="#f5ab8e" stroke-opacity="0.5" stroke-width="0.3" transform="rotate(171.3 885.0 112.8)"/>
<ellipse cx="885.0" cy="105.0" rx="4.50" ry="1.60" fill="#f5ab8e" stroke="#f5ab8e" stroke-opacity="0.5" stroke-width="0.3" transform="rotate(179.0 885.0 105.0)"/><ellipse cx="885.3" cy="98.2" rx="4.50" ry="1.60" fill="#f5ab8e" stroke="#f5ab8e" stroke-opacity="0.5" stroke-width="0.3" transform="rotate(185.8 885.3 98.2)"/><ellipse cx="884.4" cy="101.6" rx="4.50" ry="1.60" fill="#f5ab8e" stroke="#f5ab8e" stroke-opacity="0.5" stroke-width="0.3" transform="rotate(182.4 884.4 101.6)"/>
<ellipse cx="886.0" cy="93.3" rx="4.50" ry="1.60" fill="#f5ab8e" stroke="#f5ab8e" stroke-opacity="0.5" stroke-width="0.3" transform="rotate(190.8 886.0 93.3)"/><ellipse cx="887.7" cy="86.7" rx="4.50" ry="1.60" fill="#f5ab8e" stroke="#f5ab8e" stroke-opacity="0.5" stroke-width="0.3" transform="rotate(197.6 887.7 86.7)"/><ellipse cx="886.1" cy="89.8" rx="4.50" ry="1.60" fill="#f5ab8e" stroke="#f5ab8e" stroke-opacity="0.5" stroke-width="0.3" transform="rotate(194.2 886.1 89.8)"/>
<ellipse cx="897.2" cy="68.6" rx="4.50" ry="1.60" fill="#f5ab8e" stroke="#f5ab8e" stroke-opacity="0.5" stroke-width="0.3" transform="rotate(218.2 897.2 68.6)"/><ellipse cx="901.8" cy="63.5" rx="4.50" ry="1.60" fill="#f5ab8e" stroke="#f5ab8e" stroke-opacity="0.5" stroke-width="0.3" transform="rotate(225.0 901.8 63.5)"/><ellipse cx="898.9" cy="65.6" rx="4.50" ry="1.60" fill="#f5ab8e" stroke="#f5ab8e" stroke-opacity="0.5" stroke-width="0.3" transform="rotate(221.6 898.9 65.6)"/>
<ellipse cx="905.8" cy="59.9" rx="4.50" ry="1.60" fill="#f5ab8e" stroke="#f5ab8e" stroke-opacity="0.5" stroke-width="0.3" transform="rotate(230.5 905.8 59.9)"/><ellipse cx="911.3" cy="55.9" rx="4.50" ry="1.60" fill="#f5ab8e" stroke="#f5ab8e" stroke-opacity="0.5" stroke-width="0.3" transform="rotate(237.3 911.3 55.9)"/><ellipse cx="908.1" cy="57.2" rx="4.50" ry="1.60" fill="#f5ab8e" stroke="#f5ab8e" stroke-opacity="0.5" stroke-width="0.3" transform="rotate(233.9 908.1 57.2)"/>
<ellipse cx="916.4" cy="52.9" rx="4.50" ry="1.60" fill="#f5ab8e" stroke="#f5ab8e" stroke-opacity="0.5" stroke-width="0.3" transform="rotate(243.2 916.4 52.9)"/><ellipse cx="922.6" cy="50.2" rx="4.50" ry="1.60" fill="#f5ab8e" stroke="#f5ab8e" stroke-opacity="0.5" stroke-width="0.3" transform="rotate(250.0 922.6 50.2)"/><ellipse cx="919.2" cy="50.9" rx="4.50" ry="1.60" fill="#f5ab8e" stroke="#f5ab8e" stroke-opacity="0.5" stroke-width="0.3" transform="rotate(246.6 919.2 50.9)"/>
<circle cx="931.1" cy="50.7" r="3.20" fill="#d3271a"/><circle cx="935.0" cy="50.0" r="3.20" fill="#d3271a"/><circle cx="933.1" cy="50.7" r="3.20" fill="#de2a1c"/><circle cx="929.7" cy="47.3" r="3.35" fill="#f0301f"/><circle cx="935.2" cy="46.4" r="3.35" fill="#fb3b27"/>
<circle cx="983.0" cy="67.9" r="3.20" fill="#d3271a"/><circle cx="985.5" cy="71.0" r="3.20" fill="#d3271a"/><circle cx="984.0" cy="69.7" r="3.20" fill="#de2a1c"/><circle cx="985.2" cy="65.0" r="3.35" fill="#f0301f"/><circle cx="988.8" cy="69.3" r="3.35" fill="#fb3b27"/>
<circle cx="996.2" cy="111.1" r="3.20" fill="#d3271a"/><circle cx="995.5" cy="115.0" r="3.20" fill="#d3271a"/><circle cx="995.5" cy="113.0" r="3.20" fill="#de2a1c"/><circle cx="999.9" cy="110.9" r="3.35" fill="#f0301f"/><circle cx="998.9" cy="116.4" r="3.35" fill="#fb3b27"/>
<circle cx="977.9" cy="145.1" r="3.20" fill="#d3271a"/><circle cx="974.8" cy="147.6" r="3.20" fill="#d3271a"/><circle cx="976.2" cy="146.1" r="3.20" fill="#de2a1c"/><circle cx="980.8" cy="147.4" r="3.35" fill="#f0301f"/><circle cx="976.4" cy="150.9" r="3.35" fill="#fb3b27"/>
<circle cx="930.4" cy="157.1" r="3.20" fill="#d3271a"/><circle cx="926.6" cy="156.1" r="3.20" fill="#d3271a"/><circle cx="928.6" cy="156.4" r="3.20" fill="#de2a1c"/><circle cx="930.3" cy="160.8" r="3.35" fill="#f0301f"/><circle cx="924.9" cy="159.4" r="3.35" fill="#fb3b27"/>
<circle cx="893.5" cy="128.3" r="3.20" fill="#d3271a"/><circle cx="891.8" cy="124.7" r="3.20" fill="#d3271a"/><circle cx="892.9" cy="126.3" r="3.20" fill="#de2a1c"/><circle cx="890.5" cy="130.5" r="3.35" fill="#f0301f"/><circle cx="888.2" cy="125.4" r="3.35" fill="#fb3b27"/>
<circle cx="892.9" cy="80.8" r="3.20" fill="#d3271a"/><circle cx="894.8" cy="77.3" r="3.20" fill="#d3271a"/><circle cx="894.1" cy="79.2" r="3.20" fill="#de2a1c"/><circle cx="889.4" cy="79.9" r="3.35" fill="#f0301f"/><circle cx="891.9" cy="74.9" r="3.35" fill="#fb3b27"/>
<circle cx="942.2" cy="104.0" r="44.10" fill="none" stroke="#ecc38a" stroke-width="0.45" stroke-dasharray="2.2 1"/>
<ellipse cx="939.3" cy="62.1" rx="3.25" ry="1.3" fill="#bfe627" transform="rotate(-4.0 939.3 62.1)"/><ellipse cx="945.9" cy="62.2" rx="3.25" ry="1.3" fill="#bfe627" transform="rotate(5.0 945.9 62.2)"/><ellipse cx="952.4" cy="63.2" rx="3.25" ry="1.3" fill="#bfe627" transform="rotate(14.0 952.4 63.2)"/><ellipse cx="958.6" cy="65.3" rx="3.25" ry="1.3" fill="#bfe627" transform="rotate(23.0 958.6 65.3)"/><ellipse cx="964.5" cy="68.4" rx="3.25" ry="1.3" fill="#bfe627" transform="rotate(32.0 964.5 68.4)"/><ellipse cx="969.8" cy="72.3" rx="3.25" ry="1.3" fill="#bfe627" transform="rotate(41.0 969.8 72.3)"/><ellipse cx="974.4" cy="77.0" rx="3.25" ry="1.3" fill="#bfe627" transform="rotate(50.0 974.4 77.0)"/><ellipse cx="978.2" cy="82.4" rx="3.25" ry="1.3" fill="#bfe627" transform="rotate(59.0 978.2 82.4)"/><ellipse cx="981.1" cy="88.3" rx="3.25" ry="1.3" fill="#bfe627" transform="rotate(68.0 981.1 88.3)"/><ellipse cx="983.1" cy="94.6" rx="3.25" ry="1.3" fill="#bfe627" transform="rotate(77.0 983.1 94.6)"/><ellipse cx="984.1" cy="101.1" rx="3.25" ry="1.3" fill="#bfe627" transform="rotate(86.0 984.1 101.1)"/><ellipse cx="984.0" cy="107.7" rx="3.25" ry="1.3" fill="#bfe627" transform="rotate(95.0 984.0 107.7)"/><ellipse cx="983.0" cy="114.2" rx="3.25" ry="1.3" fill="#bfe627" transform="rotate(104.0 983.0 114.2)"/><ellipse cx="980.9" cy="120.4" rx="3.25" ry="1.3" fill="#bfe627" transform="rotate(113.0 980.9 120.4)"/><ellipse cx="977.8" cy="126.3" rx="3.25" ry="1.3" fill="#bfe627" transform="rotate(122.0 977.8 126.3)"/><ellipse cx="973.9" cy="131.6" rx="3.25" ry="1.3" fill="#bfe627" transform="rotate(131.0 973.9 131.6)"/><ellipse cx="969.2" cy="136.2" rx="3.25" ry="1.3" fill="#bfe627" transform="rotate(140.0 969.2 136.2)"/><ellipse cx="963.8" cy="140.0" rx="3.25" ry="1.3" fill="#bfe627" transform="rotate(149.0 963.8 140.0)"/><ellipse cx="957.9" cy="142.9" rx="3.25" ry="1.3" fill="#bfe627" transform="rotate(158.0 957.9 142.9)"/><ellipse cx="951.6" cy="144.9" rx="3.25" ry="1.3" fill="#bfe627" transform="rotate(167.0 951.6 144.9)"/><ellipse cx="945.1" cy="145.9" rx="3.25" ry="1.3" fill="#bfe627" transform="rotate(176.0 945.1 145.9)"/><ellipse cx="938.5" cy="145.8" rx="3.25" ry="1.3" fill="#bfe627" transform="rotate(185.0 938.5 145.8)"/><ellipse cx="932.0" cy="144.8" rx="3.25" ry="1.3" fill="#bfe627" transform="rotate(194.0 932.0 144.8)"/><ellipse cx="925.8" cy="142.7" rx="3.25" ry="1.3" fill="#bfe627" transform="rotate(203.0 925.8 142.7)"/><ellipse cx="919.9" cy="139.6" rx="3.25" ry="1.3" fill="#bfe627" transform="rotate(212.0 919.9 139.6)"/><ellipse cx="914.6" cy="135.7" rx="3.25" ry="1.3" fill="#bfe627" transform="rotate(221.0 914.6 135.7)"/><ellipse cx="910.0" cy="131.0" rx="3.25" ry="1.3" fill="#bfe627" transform="rotate(230.0 910.0 131.0)"/><ellipse cx="906.2" cy="125.6" rx="3.25" ry="1.3" fill="#bfe627" transform="rotate(239.0 906.2 125.6)"/><ellipse cx="903.3" cy="119.7" rx="3.25" ry="1.3" fill="#bfe627" transform="rotate(248.0 903.3 119.7)"/><ellipse cx="901.3" cy="113.4" rx="3.25" ry="1.3" fill="#bfe627" transform="rotate(257.0 901.3 113.4)"/><ellipse cx="900.3" cy="106.9" rx="3.25" ry="1.3" fill="#bfe627" transform="rotate(266.0 900.3 106.9)"/><ellipse cx="900.4" cy="100.3" rx="3.25" ry="1.3" fill="#bfe627" transform="rotate(275.0 900.4 100.3)"/><ellipse cx="901.4" cy="93.8" rx="3.25" ry="1.3" fill="#bfe627" transform="rotate(284.0 901.4 93.8)"/><ellipse cx="903.5" cy="87.6" rx="3.25" ry="1.3" fill="#bfe627" transform="rotate(293.0 903.5 87.6)"/><ellipse cx="906.6" cy="81.7" rx="3.25" ry="1.3" fill="#bfe627" transform="rotate(302.0 906.6 81.7)"/><ellipse cx="910.5" cy="76.4" rx="3.25" ry="1.3" fill="#bfe627" transform="rotate(311.0 910.5 76.4)"/><ellipse cx="915.2" cy="71.8" rx="3.25" ry="1.3" fill="#bfe627" transform="rotate(320.0 915.2 71.8)"/><ellipse cx="920.6" cy="68.0" rx="3.25" ry="1.3" fill="#bfe627" transform="rotate(329.0 920.6 68.0)"/><ellipse cx="926.5" cy="65.1" rx="3.25" ry="1.3" fill="#bfe627" transform="rotate(338.0 926.5 65.1)"/><ellipse cx="932.8" cy="63.1" rx="3.25" ry="1.3" fill="#bfe627" transform="rotate(347.0 932.8 63.1)"/>
<text x="991.8" y="66.7" font-size="12.2" font-weight="bold" fill="#f0141e">N2</text>
<text x="1002.8" y="92.2" font-size="12" fill="#f79a4a">H9</text>
<text x="1008.7" y="129.6" font-size="11.4" font-weight="bold" fill="#b5e51d">M1</text>
<line x1="985.2" y1="119.0" x2="1008.0" y2="126.2" stroke="#000" stroke-width="1.2"/>
<path d="M984.8 118.9 l3.6 -0.6 l-1 3 Z" fill="#000"/>
</g>
<g>
<circle cx="942.0" cy="260.4" r="45.50" fill="url(#inner)"/>
<circle cx="942.0" cy="260.4" r="47.50" fill="none" stroke="#aeeaf3" stroke-width="4.200000000000003"/>
<circle cx="942.0" cy="260.4" r="49.60" fill="none" stroke="#8fdbe6" stroke-width="0.5"/>
<circle cx="942.0" cy="260.4" r="45.70" fill="none" stroke="#8b9bd6" stroke-width="0.6"/>
<line x1="943.2" y1="216.4" x2="940.1" y2="205.7" stroke="#c4692a" stroke-width="0.75"/><line x1="943.2" y1="216.4" x2="943.5" y2="205.7" stroke="#c4692a" stroke-width="0.75"/><line x1="943.2" y1="216.4" x2="946.9" y2="205.9" stroke="#c4692a" stroke-width="0.75"/>
<line x1="952.9" y1="217.8" x2="952.3" y2="206.7" stroke="#c4692a" stroke-width="0.75"/><line x1="952.9" y1="217.8" x2="955.6" y2="207.4" stroke="#c4692a" stroke-width="0.75"/><line x1="952.9" y1="217.8" x2="958.9" y2="208.4" stroke="#c4692a" stroke-width="0.75"/>
<line x1="961.7" y1="221.1" x2="963.4" y2="210.1" stroke="#c4692a" stroke-width="0.75"/><line x1="961.7" y1="221.1" x2="966.5" y2="211.5" stroke="#c4692a" stroke-width="0.75"/><line x1="961.7" y1="221.1" x2="969.5" y2="213.1" stroke="#c4692a" stroke-width="0.75"/>
<line x1="969.3" y1="225.9" x2="973.2" y2="215.4" stroke="#c4692a" stroke-width="0.75"/><line x1="969.3" y1="225.9" x2="975.9" y2="217.5" stroke="#c4692a" stroke-width="0.75"/><line x1="969.3" y1="225.9" x2="978.5" y2="219.7" stroke="#c4692a" stroke-width="0.75"/>
<line x1="981.1" y1="240.2" x2="989.0" y2="232.3" stroke="#c4692a" stroke-width="0.75"/><line x1="981.1" y1="240.2" x2="990.6" y2="235.3" stroke="#c4692a" stroke-width="0.75"/><line x1="981.1" y1="240.2" x2="992.1" y2="238.4" stroke="#c4692a" stroke-width="0.75"/>
<line x1="984.4" y1="248.6" x2="993.7" y2="242.5" stroke="#c4692a" stroke-width="0.75"/><line x1="984.4" y1="248.6" x2="994.7" y2="245.8" stroke="#c4692a" stroke-width="0.75"/><line x1="984.4" y1="248.6" x2="995.5" y2="249.1" stroke="#c4692a" stroke-width="0.75"/>
<line x1="985.9" y1="256.8" x2="996.1" y2="252.5" stroke="#c4692a" stroke-width="0.75"/><line x1="985.9" y1="256.8" x2="996.5" y2="255.9" stroke="#c4692a" stroke-width="0.75"/><line x1="985.9" y1="256.8" x2="996.7" y2="259.3" stroke="#c4692a" stroke-width="0.75"/>
<line x1="982.7" y1="277.2" x2="993.8" y2="278.1" stroke="#c4692a" stroke-width="0.75"/><line x1="982.7" y1="277.2" x2="992.6" y2="281.2" stroke="#c4692a" stroke-width="0.75"/><line x1="982.7" y1="277.2" x2="991.2" y2="284.3" stroke="#c4692a" stroke-width="0.75"/>
<line x1="977.5" y1="286.4" x2="988.0" y2="290.0" stroke="#c4692a" stroke-width="0.75"/><line x1="977.5" y1="286.4" x2="986.1" y2="292.8" stroke="#c4692a" stroke-width="0.75"/><line x1="977.5" y1="286.4" x2="984.0" y2="295.5" stroke="#c4692a" stroke-width="0.75"/>
<line x1="959.3" y1="300.8" x2="966.6" y2="309.2" stroke="#c4692a" stroke-width="0.75"/><line x1="959.3" y1="300.8" x2="963.5" y2="310.7" stroke="#c4692a" stroke-width="0.75"/><line x1="959.3" y1="300.8" x2="960.4" y2="311.9" stroke="#c4692a" stroke-width="0.75"/>
<line x1="951.1" y1="303.4" x2="956.7" y2="313.1" stroke="#c4692a" stroke-width="0.75"/><line x1="951.1" y1="303.4" x2="953.4" y2="313.9" stroke="#c4692a" stroke-width="0.75"/><line x1="951.1" y1="303.4" x2="950.0" y2="314.5" stroke="#c4692a" stroke-width="0.75"/>
<line x1="941.4" y1="304.4" x2="944.6" y2="315.0" stroke="#c4692a" stroke-width="0.75"/><line x1="941.4" y1="304.4" x2="941.2" y2="315.1" stroke="#c4692a" stroke-width="0.75"/><line x1="941.4" y1="304.4" x2="937.8" y2="314.9" stroke="#c4692a" stroke-width="0.75"/>
<line x1="921.8" y1="299.5" x2="920.0" y2="310.5" stroke="#c4692a" stroke-width="0.75"/><line x1="921.8" y1="299.5" x2="916.9" y2="309.0" stroke="#c4692a" stroke-width="0.75"/><line x1="921.8" y1="299.5" x2="913.9" y2="307.4" stroke="#c4692a" stroke-width="0.75"/>
<line x1="914.3" y1="294.6" x2="910.3" y2="305.0" stroke="#c4692a" stroke-width="0.75"/><line x1="914.3" y1="294.6" x2="907.6" y2="302.9" stroke="#c4692a" stroke-width="0.75"/><line x1="914.3" y1="294.6" x2="905.0" y2="300.7" stroke="#c4692a" stroke-width="0.75"/>
<line x1="907.5" y1="287.7" x2="901.3" y2="297.0" stroke="#c4692a" stroke-width="0.75"/><line x1="907.5" y1="287.7" x2="899.1" y2="294.4" stroke="#c4692a" stroke-width="0.75"/><line x1="907.5" y1="287.7" x2="897.1" y2="291.6" stroke="#c4692a" stroke-width="0.75"/>
<line x1="898.5" y1="267.1" x2="888.5" y2="272.0" stroke="#c4692a" stroke-width="0.75"/><line x1="898.5" y1="267.1" x2="887.9" y2="268.7" stroke="#c4692a" stroke-width="0.75"/><line x1="898.5" y1="267.1" x2="887.5" y2="265.3" stroke="#c4692a" stroke-width="0.75"/>
<line x1="898.0" y1="258.6" x2="887.3" y2="261.5" stroke="#c4692a" stroke-width="0.75"/><line x1="898.0" y1="258.6" x2="887.3" y2="258.1" stroke="#c4692a" stroke-width="0.75"/><line x1="898.0" y1="258.6" x2="887.6" y2="254.7" stroke="#c4692a" stroke-width="0.75"/>
<line x1="899.3" y1="249.6" x2="888.2" y2="250.3" stroke="#c4692a" stroke-width="0.75"/><line x1="899.3" y1="249.6" x2="889.0" y2="247.0" stroke="#c4692a" stroke-width="0.75"/><line x1="899.3" y1="249.6" x2="889.9" y2="243.7" stroke="#c4692a" stroke-width="0.75"/>
<line x1="909.1" y1="231.2" x2="898.9" y2="226.7" stroke="#c4692a" stroke-width="0.75"/><line x1="909.1" y1="231.2" x2="901.1" y2="224.1" stroke="#c4692a" stroke-width="0.75"/><line x1="909.1" y1="231.2" x2="903.4" y2="221.6" stroke="#c4692a" stroke-width="0.75"/>
<line x1="916.1" y1="224.8" x2="907.1" y2="218.3" stroke="#c4692a" stroke-width="0.75"/><line x1="916.1" y1="224.8" x2="909.8" y2="216.2" stroke="#c4692a" stroke-width="0.75"/><line x1="916.1" y1="224.8" x2="912.6" y2="214.3" stroke="#c4692a" stroke-width="0.75"/>
<line x1="924.5" y1="220.0" x2="917.2" y2="211.6" stroke="#c4692a" stroke-width="0.75"/><line x1="924.5" y1="220.0" x2="920.3" y2="210.2" stroke="#c4692a" stroke-width="0.75"/><line x1="924.5" y1="220.0" x2="923.4" y2="208.9" stroke="#c4692a" stroke-width="0.75"/>
<line x1="934.6" y1="217.0" x2="930.2" y2="209.0" stroke="#c4692a" stroke-width="0.75"/><line x1="934.6" y1="217.0" x2="932.1" y2="208.6" stroke="#c4692a" stroke-width="0.75"/><line x1="934.6" y1="217.0" x2="934.1" y2="208.3" stroke="#c4692a" stroke-width="0.75"/><line x1="934.6" y1="217.0" x2="936.1" y2="208.0" stroke="#c4692a" stroke-width="0.75"/>
<line x1="976.0" y1="232.5" x2="980.8" y2="224.7" stroke="#c4692a" stroke-width="0.75"/><line x1="976.0" y1="232.5" x2="982.1" y2="226.2" stroke="#c4692a" stroke-width="0.75"/><line x1="976.0" y1="232.5" x2="983.4" y2="227.7" stroke="#c4692a" stroke-width="0.75"/><line x1="976.0" y1="232.5" x2="984.6" y2="229.3" stroke="#c4692a" stroke-width="0.75"/>
<line x1="985.4" y1="267.7" x2="994.4" y2="266.2" stroke="#c4692a" stroke-width="0.75"/><line x1="985.4" y1="267.7" x2="994.1" y2="268.2" stroke="#c4692a" stroke-width="0.75"/><line x1="985.4" y1="267.7" x2="993.8" y2="270.2" stroke="#c4692a" stroke-width="0.75"/><line x1="985.4" y1="267.7" x2="993.4" y2="272.1" stroke="#c4692a" stroke-width="0.75"/>
<line x1="969.6" y1="294.6" x2="977.4" y2="299.5" stroke="#c4692a" stroke-width="0.75"/><line x1="969.6" y1="294.6" x2="975.9" y2="300.8" stroke="#c4692a" stroke-width="0.75"/><line x1="969.6" y1="294.6" x2="974.3" y2="302.0" stroke="#c4692a" stroke-width="0.75"/><line x1="969.6" y1="294.6" x2="972.7" y2="303.2" stroke="#c4692a" stroke-width="0.75"/>
<line x1="930.9" y1="303.0" x2="931.6" y2="312.1" stroke="#c4692a" stroke-width="0.75"/><line x1="930.9" y1="303.0" x2="929.7" y2="311.6" stroke="#c4692a" stroke-width="0.75"/><line x1="930.9" y1="303.0" x2="927.8" y2="311.1" stroke="#c4692a" stroke-width="0.75"/><line x1="930.9" y1="303.0" x2="925.8" y2="310.6" stroke="#c4692a" stroke-width="0.75"/>
<line x1="901.9" y1="278.6" x2="895.3" y2="284.9" stroke="#c4692a" stroke-width="0.75"/><line x1="901.9" y1="278.6" x2="894.4" y2="283.1" stroke="#c4692a" stroke-width="0.75"/><line x1="901.9" y1="278.6" x2="893.6" y2="281.3" stroke="#c4692a" stroke-width="0.75"/><line x1="901.9" y1="278.6" x2="892.8" y2="279.4" stroke="#c4692a" stroke-width="0.75"/>
<line x1="902.9" y1="240.2" x2="893.9" y2="238.9" stroke="#c4692a" stroke-width="0.75"/><line x1="902.9" y1="240.2" x2="894.7" y2="237.1" stroke="#c4692a" stroke-width="0.75"/><line x1="902.9" y1="240.2" x2="895.6" y2="235.3" stroke="#c4692a" stroke-width="0.75"/><line x1="902.9" y1="240.2" x2="896.6" y2="233.6" stroke="#c4692a" stroke-width="0.75"/>
<ellipse cx="940.2" cy="203.2" rx="4.50" ry="1.60" fill="#6aab9c" stroke="#6aab9c" stroke-opacity="0.5" stroke-width="0.3" transform="rotate(-91.8 940.2 203.2)"/><ellipse cx="947.0" cy="203.4" rx="4.50" ry="1.60" fill="#6aab9c" stroke="#6aab9c" stroke-opacity="0.5" stroke-width="0.3" transform="rotate(-85.0 947.0 203.4)"/><ellipse cx="943.6" cy="202.5" rx="4.50" ry="1.60" fill="#6aab9c" stroke="#6aab9c" stroke-opacity="0.5" stroke-width="0.3" transform="rotate(-88.4 943.6 202.5)"/>
<ellipse cx="952.9" cy="204.2" rx="4.50" ry="1.60" fill="#6aab9c" stroke="#6aab9c" stroke-opacity="0.5" stroke-width="0.3" transform="rotate(-79.0 952.9 204.2)"/><ellipse cx="959.5" cy="205.9" rx="4.50" ry="1.60" fill="#6aab9c" stroke="#6aab9c" stroke-opacity="0.5" stroke-width="0.3" transform="rotate(-72.2 959.5 205.9)"/><ellipse cx="956.4" cy="204.3" rx="4.50" ry="1.60" fill="#6aab9c" stroke="#6aab9c" stroke-opacity="0.5" stroke-width="0.3" transform="rotate(-75.6 956.4 204.3)"/>
<ellipse cx="964.5" cy="207.8" rx="4.50" ry="1.60" fill="#6aab9c" stroke="#6aab9c" stroke-opacity="0.5" stroke-width="0.3" transform="rotate(-66.8 964.5 207.8)"/><ellipse cx="970.6" cy="210.9" rx="4.50" ry="1.60" fill="#6aab9c" stroke="#6aab9c" stroke-opacity="0.5" stroke-width="0.3" transform="rotate(-60.0 970.6 210.9)"/><ellipse cx="967.9" cy="208.6" rx="4.50" ry="1.60" fill="#6aab9c" stroke="#6aab9c" stroke-opacity="0.5" stroke-width="0.3" transform="rotate(-63.4 967.9 208.6)"/>
<ellipse cx="974.7" cy="213.5" rx="4.50" ry="1.60" fill="#6aab9c" stroke="#6aab9c" stroke-opacity="0.5" stroke-width="0.3" transform="rotate(-55.1 974.7 213.5)"/><ellipse cx="980.1" cy="217.7" rx="4.50" ry="1.60" fill="#6aab9c" stroke="#6aab9c" stroke-opacity="0.5" stroke-width="0.3" transform="rotate(-48.3 980.1 217.7)"/><ellipse cx="977.9" cy="215.0" rx="4.50" ry="1.60" fill="#6aab9c" stroke="#6aab9c" stroke-opacity="0.5" stroke-width="0.3" transform="rotate(-51.7 977.9 215.0)"/>
<ellipse cx="991.2" cy="231.2" rx="4.50" ry="1.60" fill="#6aab9c" stroke="#6aab9c" stroke-opacity="0.5" stroke-width="0.3" transform="rotate(-30.7 991.2 231.2)"/><ellipse cx="994.3" cy="237.2" rx="4.50" ry="1.60" fill="#6aab9c" stroke="#6aab9c" stroke-opacity="0.5" stroke-width="0.3" transform="rotate(-23.9 994.3 237.2)"/><ellipse cx="993.5" cy="233.8" rx="4.50" ry="1.60" fill="#6aab9c" stroke="#6aab9c" stroke-opacity="0.5" stroke-width="0.3" transform="rotate(-27.3 993.5 233.8)"/>
<ellipse cx="996.1" cy="241.9" rx="4.50" ry="1.60" fill="#6aab9c" stroke="#6aab9c" stroke-opacity="0.5" stroke-width="0.3" transform="rotate(-18.9 996.1 241.9)"/><ellipse cx="997.9" cy="248.4" rx="4.50" ry="1.60" fill="#6aab9c" stroke="#6aab9c" stroke-opacity="0.5" stroke-width="0.3" transform="rotate(-12.1 997.9 248.4)"/><ellipse cx="997.8" cy="244.9" rx="4.50" ry="1.60" fill="#6aab9c" stroke="#6aab9c" stroke-opacity="0.5" stroke-width="0.3" transform="rotate(-15.5 997.8 244.9)"/>
<ellipse cx="998.6" cy="252.3" rx="4.50" ry="1.60" fill="#6aab9c" stroke="#6aab9c" stroke-opacity="0.5" stroke-width="0.3" transform="rotate(-8.1 998.6 252.3)"/><ellipse cx="999.2" cy="259.1" rx="4.50" ry="1.60" fill="#6aab9c" stroke="#6aab9c" stroke-opacity="0.5" stroke-width="0.3" transform="rotate(-1.3 999.2 259.1)"/><ellipse cx="999.7" cy="255.7" rx="4.50" ry="1.60" fill="#6aab9c" stroke="#6aab9c" stroke-opacity="0.5" stroke-width="0.3" transform="rotate(-4.7 999.7 255.7)"/>
<ellipse cx="996.1" cy="279.0" rx="4.50" ry="1.60" fill="#6aab9c" stroke="#6aab9c" stroke-opacity="0.5" stroke-width="0.3" transform="rotate(19.0 996.1 279.0)"/><ellipse cx="993.5" cy="285.3" rx="4.50" ry="1.60" fill="#6aab9c" stroke="#6aab9c" stroke-opacity="0.5" stroke-width="0.3" transform="rotate(25.8 993.5 285.3)"/><ellipse cx="995.5" cy="282.5" rx="4.50" ry="1.60" fill="#6aab9c" stroke="#6aab9c" stroke-opacity="0.5" stroke-width="0.3" transform="rotate(22.4 995.5 282.5)"/>
<ellipse cx="990.0" cy="291.5" rx="4.50" ry="1.60" fill="#6aab9c" stroke="#6aab9c" stroke-opacity="0.5" stroke-width="0.3" transform="rotate(32.9 990.0 291.5)"/><ellipse cx="986.0" cy="296.9" rx="4.50" ry="1.60" fill="#6aab9c" stroke="#6aab9c" stroke-opacity="0.5" stroke-width="0.3" transform="rotate(39.7 986.0 296.9)"/><ellipse cx="988.7" cy="294.7" rx="4.50" ry="1.60" fill="#6aab9c" stroke="#6aab9c" stroke-opacity="0.5" stroke-width="0.3" transform="rotate(36.3 988.7 294.7)"/>
<ellipse cx="967.6" cy="311.5" rx="4.50" ry="1.60" fill="#6aab9c" stroke="#6aab9c" stroke-opacity="0.5" stroke-width="0.3" transform="rotate(63.4 967.6 311.5)"/><ellipse cx="961.4" cy="314.2" rx="4.50" ry="1.60" fill="#6aab9c" stroke="#6aab9c" stroke-opacity="0.5" stroke-width="0.3" transform="rotate(70.2 961.4 314.2)"/><ellipse cx="964.8" cy="313.6" rx="4.50" ry="1.60" fill="#6aab9c" stroke="#6aab9c" stroke-opacity="0.5" stroke-width="0.3" transform="rotate(66.8 964.8 313.6)"/>
<ellipse cx="957.2" cy="315.5" rx="4.50" ry="1.60" fill="#6aab9c" stroke="#6aab9c" stroke-opacity="0.5" stroke-width="0.3" transform="rotate(74.6 957.2 315.5)"/><ellipse cx="950.5" cy="317.0" rx="4.50" ry="1.60" fill="#6aab9c" stroke="#6aab9c" stroke-opacity="0.5" stroke-width="0.3" transform="rotate(81.4 950.5 317.0)"/><ellipse cx="954.0" cy="317.0" rx="4.50" ry="1.60" fill="#6aab9c" stroke="#6aab9c" stroke-opacity="0.5" stroke-width="0.3" transform="rotate(78.0 954.0 317.0)"/>
<ellipse cx="944.6" cy="317.5" rx="4.50" ry="1.60" fill="#6aab9c" stroke="#6aab9c" stroke-opacity="0.5" stroke-width="0.3" transform="rotate(87.4 944.6 317.5)"/><ellipse cx="937.8" cy="317.4" rx="4.50" ry="1.60" fill="#6aab9c" stroke="#6aab9c" stroke-opacity="0.5" stroke-width="0.3" transform="rotate(94.2 937.8 317.4)"/><ellipse cx="941.2" cy="318.3" rx="4.50" ry="1.60" fill="#6aab9c" stroke="#6aab9c" stroke-opacity="0.5" stroke-width="0.3" transform="rotate(90.8 941.2 318.3)"/>
<ellipse cx="918.8" cy="312.7" rx="4.50" ry="1.60" fill="#6aab9c" stroke="#6aab9c" stroke-opacity="0.5" stroke-width="0.3" transform="rotate(113.9 918.8 312.7)"/><ellipse cx="912.8" cy="309.6" rx="4.50" ry="1.60" fill="#6aab9c" stroke="#6aab9c" stroke-opacity="0.5" stroke-width="0.3" transform="rotate(120.7 912.8 309.6)"/><ellipse cx="915.4" cy="311.9" rx="4.50" ry="1.60" fill="#6aab9c" stroke="#6aab9c" stroke-opacity="0.5" stroke-width="0.3" transform="rotate(117.3 915.4 311.9)"/>
<ellipse cx="908.7" cy="306.9" rx="4.50" ry="1.60" fill="#6aab9c" stroke="#6aab9c" stroke-opacity="0.5" stroke-width="0.3" transform="rotate(125.6 908.7 306.9)"/><ellipse cx="903.4" cy="302.6" rx="4.50" ry="1.60" fill="#6aab9c" stroke="#6aab9c" stroke-opacity="0.5" stroke-width="0.3" transform="rotate(132.4 903.4 302.6)"/><ellipse cx="905.6" cy="305.4" rx="4.50" ry="1.60" fill="#6aab9c" stroke="#6aab9c" stroke-opacity="0.5" stroke-width="0.3" transform="rotate(129.0 905.6 305.4)"/>
<ellipse cx="899.4" cy="298.5" rx="4.50" ry="1.60" fill="#6aab9c" stroke="#6aab9c" stroke-opacity="0.5" stroke-width="0.3" transform="rotate(138.2 899.4 298.5)"/><ellipse cx="895.1" cy="293.2" rx="4.50" ry="1.60" fill="#6aab9c" stroke="#6aab9c" stroke-opacity="0.5" stroke-width="0.3" transform="rotate(145.0 895.1 293.2)"/><ellipse cx="896.6" cy="296.4" rx="4.50" ry="1.60" fill="#6aab9c" stroke="#6aab9c" stroke-opacity="0.5" stroke-width="0.3" transform="rotate(141.6 896.6 296.4)"/>
<ellipse cx="886.1" cy="272.4" rx="4.50" ry="1.60" fill="#6aab9c" stroke="#6aab9c" stroke-opacity="0.5" stroke-width="0.3" transform="rotate(167.9 886.1 272.4)"/><ellipse cx="885.0" cy="265.7" rx="4.50" ry="1.60" fill="#6aab9c" stroke="#6aab9c" stroke-opacity="0.5" stroke-width="0.3" transform="rotate(174.7 885.0 265.7)"/><ellipse cx="884.8" cy="269.2" rx="4.50" ry="1.60" fill="#6aab9c" stroke="#6aab9c" stroke-opacity="0.5" stroke-width="0.3" transform="rotate(171.3 884.8 269.2)"/>
<ellipse cx="884.8" cy="261.4" rx="4.50" ry="1.60" fill="#6aab9c" stroke="#6aab9c" stroke-opacity="0.5" stroke-width="0.3" transform="rotate(179.0 884.8 261.4)"/><ellipse cx="885.1" cy="254.6" rx="4.50" ry="1.60" fill="#6aab9c" stroke="#6aab9c" stroke-opacity="0.5" stroke-width="0.3" transform="rotate(185.8 885.1 254.6)"/><ellipse cx="884.2" cy="258.0" rx="4.50" ry="1.60" fill="#6aab9c" stroke="#6aab9c" stroke-opacity="0.5" stroke-width="0.3" transform="rotate(182.4 884.2 258.0)"/>
<ellipse cx="885.8" cy="249.7" rx="4.50" ry="1.60" fill="#6aab9c" stroke="#6aab9c" stroke-opacity="0.5" stroke-width="0.3" transform="rotate(190.8 885.8 249.7)"/><ellipse cx="887.5" cy="243.1" rx="4.50" ry="1.60" fill="#6aab9c" stroke="#6aab9c" stroke-opacity="0.5" stroke-width="0.3" transform="rotate(197.6 887.5 243.1)"/><ellipse cx="885.9" cy="246.2" rx="4.50" ry="1.60" fill="#6aab9c" stroke="#6aab9c" stroke-opacity="0.5" stroke-width="0.3" transform="rotate(194.2 885.9 246.2)"/>
<ellipse cx="897.0" cy="225.0" rx="4.50" ry="1.60" fill="#6aab9c" stroke="#6aab9c" stroke-opacity="0.5" stroke-width="0.3" transform="rotate(218.2 897.0 225.0)"/><ellipse cx="901.6" cy="219.9" rx="4.50" ry="1.60" fill="#6aab9c" stroke="#6aab9c" stroke-opacity="0.5" stroke-width="0.3" transform="rotate(225.0 901.6 219.9)"/><ellipse cx="898.7" cy="222.0" rx="4.50" ry="1.60" fill="#6aab9c" stroke="#6aab9c" stroke-opacity="0.5" stroke-width="0.3" transform="rotate(221.6 898.7 222.0)"/>
<ellipse cx="905.6" cy="216.3" rx="4.50" ry="1.60" fill="#6aab9c" stroke="#6aab9c" stroke-opacity="0.5" stroke-width="0.3" transform="rotate(230.5 905.6 216.3)"/><ellipse cx="911.1" cy="212.3" rx="4.50" ry="1.60" fill="#6aab9c" stroke="#6aab9c" stroke-opacity="0.5" stroke-width="0.3" transform="rotate(237.3 911.1 212.3)"/><ellipse cx="907.9" cy="213.6" rx="4.50" ry="1.60" fill="#6aab9c" stroke="#6aab9c" stroke-opacity="0.5" stroke-width="0.3" transform="rotate(233.9 907.9 213.6)"/>
<ellipse cx="916.2" cy="209.3" rx="4.50" ry="1.60" fill="#6aab9c" stroke="#6aab9c" stroke-opacity="0.5" stroke-width="0.3" transform="rotate(243.2 916.2 209.3)"/><ellipse cx="922.4" cy="206.6" rx="4.50" ry="1.60" fill="#6aab9c" stroke="#6aab9c" stroke-opacity="0.5" stroke-width="0.3" transform="rotate(250.0 922.4 206.6)"/><ellipse cx="919.0" cy="207.3" rx="4.50" ry="1.60" fill="#6aab9c" stroke="#6aab9c" stroke-opacity="0.5" stroke-width="0.3" transform="rotate(246.6 919.0 207.3)"/>
<circle cx="930.9" cy="207.1" r="3.20" fill="#d3271a"/><circle cx="934.8" cy="206.4" r="3.20" fill="#d3271a"/><circle cx="932.9" cy="207.1" r="3.20" fill="#de2a1c"/><circle cx="929.5" cy="203.7" r="3.35" fill="#f0301f"/><circle cx="935.0" cy="202.8" r="3.35" fill="#fb3b27"/>
<circle cx="982.8" cy="224.3" r="3.20" fill="#d3271a"/><circle cx="985.3" cy="227.4" r="3.20" fill="#d3271a"/><circle cx="983.8" cy="226.1" r="3.20" fill="#de2a1c"/><circle cx="985.0" cy="221.4" r="3.35" fill="#f0301f"/><circle cx="988.6" cy="225.7" r="3.35" fill="#fb3b27"/>
<circle cx="996.0" cy="267.5" r="3.20" fill="#d3271a"/><circle cx="995.3" cy="271.4" r="3.20" fill="#d3271a"/><circle cx="995.3" cy="269.4" r="3.20" fill="#de2a1c"/><circle cx="999.7" cy="267.3" r="3.35" fill="#f0301f"/><circle cx="998.7" cy="272.8" r="3.35" fill="#fb3b27"/>
<circle cx="977.7" cy="301.5" r="3.20" fill="#d3271a"/><circle cx="974.6" cy="304.0" r="3.20" fill="#d3271a"/><circle cx="976.0" cy="302.5" r="3.20" fill="#de2a1c"/><circle cx="980.6" cy="303.8" r="3.35" fill="#f0301f"/><circle cx="976.2" cy="307.3" r="3.35" fill="#fb3b27"/>
<circle cx="930.2" cy="313.5" r="3.20" fill="#d3271a"/><circle cx="926.4" cy="312.5" r="3.20" fill="#d3271a"/><circle cx="928.4" cy="312.8" r="3.20" fill="#de2a1c"/><circle cx="930.1" cy="317.2" r="3.35" fill="#f0301f"/><circle cx="924.7" cy="315.8" r="3.35" fill="#fb3b27"/>
<circle cx="893.3" cy="284.7" r="3.20" fill="#d3271a"/><circle cx="891.6" cy="281.1" r="3.20" fill="#d3271a"/><circle cx="892.7" cy="282.7" r="3.20" fill="#de2a1c"/><circle cx="890.3" cy="286.9" r="3.35" fill="#f0301f"/><circle cx="888.0" cy="281.8" r="3.35" fill="#fb3b27"/>
<circle cx="892.7" cy="237.2" r="3.20" fill="#d3271a"/><circle cx="894.6" cy="233.7" r="3.20" fill="#d3271a"/><circle cx="893.9" cy="235.6" r="3.20" fill="#de2a1c"/><circle cx="889.2" cy="236.3" r="3.35" fill="#f0301f"/><circle cx="891.7" cy="231.3" r="3.35" fill="#fb3b27"/>
<circle cx="942.0" cy="260.4" r="44.10" fill="none" stroke="#ecc38a" stroke-width="0.45" stroke-dasharray="2.2 1"/>
<ellipse cx="939.1" cy="218.5" rx="3.25" ry="1.3" fill="#bfe627" transform="rotate(-4.0 939.1 218.5)"/><ellipse cx="945.7" cy="218.6" rx="3.25" ry="1.3" fill="#bfe627" transform="rotate(5.0 945.7 218.6)"/><ellipse cx="952.2" cy="219.6" rx="3.25" ry="1.3" fill="#bfe627" transform="rotate(14.0 952.2 219.6)"/><ellipse cx="958.4" cy="221.7" rx="3.25" ry="1.3" fill="#bfe627" transform="rotate(23.0 958.4 221.7)"/><ellipse cx="964.3" cy="224.8" rx="3.25" ry="1.3" fill="#bfe627" transform="rotate(32.0 964.3 224.8)"/><ellipse cx="969.6" cy="228.7" rx="3.25" ry="1.3" fill="#bfe627" transform="rotate(41.0 969.6 228.7)"/><ellipse cx="974.2" cy="233.4" rx="3.25" ry="1.3" fill="#bfe627" transform="rotate(50.0 974.2 233.4)"/><ellipse cx="978.0" cy="238.8" rx="3.25" ry="1.3" fill="#bfe627" transform="rotate(59.0 978.0 238.8)"/><ellipse cx="980.9" cy="244.7" rx="3.25" ry="1.3" fill="#bfe627" transform="rotate(68.0 980.9 244.7)"/><ellipse cx="982.9" cy="251.0" rx="3.25" ry="1.3" fill="#bfe627" transform="rotate(77.0 982.9 251.0)"/><ellipse cx="983.9" cy="257.5" rx="3.25" ry="1.3" fill="#bfe627" transform="rotate(86.0 983.9 257.5)"/><ellipse cx="983.8" cy="264.1" rx="3.25" ry="1.3" fill="#bfe627" transform="rotate(95.0 983.8 264.1)"/><ellipse cx="982.8" cy="270.6" rx="3.25" ry="1.3" fill="#bfe627" transform="rotate(104.0 982.8 270.6)"/><ellipse cx="980.7" cy="276.8" rx="3.25" ry="1.3" fill="#bfe627" transform="rotate(113.0 980.7 276.8)"/><ellipse cx="977.6" cy="282.7" rx="3.25" ry="1.3" fill="#bfe627" transform="rotate(122.0 977.6 282.7)"/><ellipse cx="973.7" cy="288.0" rx="3.25" ry="1.3" fill="#bfe627" transform="rotate(131.0 973.7 288.0)"/><ellipse cx="969.0" cy="292.6" rx="3.25" ry="1.3" fill="#bfe627" transform="rotate(140.0 969.0 292.6)"/><ellipse cx="963.6" cy="296.4" rx="3.25" ry="1.3" fill="#bfe627" transform="rotate(149.0 963.6 296.4)"/><ellipse cx="957.7" cy="299.3" rx="3.25" ry="1.3" fill="#bfe627" transform="rotate(158.0 957.7 299.3)"/><ellipse cx="951.4" cy="301.3" rx="3.25" ry="1.3" fill="#bfe627" transform="rotate(167.0 951.4 301.3)"/><ellipse cx="944.9" cy="302.3" rx="3.25" ry="1.3" fill="#bfe627" transform="rotate(176.0 944.9 302.3)"/><ellipse cx="938.3" cy="302.2" rx="3.25" ry="1.3" fill="#bfe627" transform="rotate(185.0 938.3 302.2)"/><ellipse cx="931.8" cy="301.2" rx="3.25" ry="1.3" fill="#bfe627" transform="rotate(194.0 931.8 301.2)"/><ellipse cx="925.6" cy="299.1" rx="3.25" ry="1.3" fill="#bfe627" transform="rotate(203.0 925.6 299.1)"/><ellipse cx="919.7" cy="296.0" rx="3.25" ry="1.3" fill="#bfe627" transform="rotate(212.0 919.7 296.0)"/><ellipse cx="914.4" cy="292.1" rx="3.25" ry="1.3" fill="#bfe627" transform="rotate(221.0 914.4 292.1)"/><ellipse cx="909.8" cy="287.4" rx="3.25" ry="1.3" fill="#bfe627" transform="rotate(230.0 909.8 287.4)"/><ellipse cx="906.0" cy="282.0" rx="3.25" ry="1.3" fill="#bfe627" transform="rotate(239.0 906.0 282.0)"/><ellipse cx="903.1" cy="276.1" rx="3.25" ry="1.3" fill="#bfe627" transform="rotate(248.0 903.1 276.1)"/><ellipse cx="901.1" cy="269.8" rx="3.25" ry="1.3" fill="#bfe627" transform="rotate(257.0 901.1 269.8)"/><ellipse cx="900.1" cy="263.3" rx="3.25" ry="1.3" fill="#bfe627" transform="rotate(266.0 900.1 263.3)"/><ellipse cx="900.2" cy="256.7" rx="3.25" ry="1.3" fill="#bfe627" transform="rotate(275.0 900.2 256.7)"/><ellipse cx="901.2" cy="250.2" rx="3.25" ry="1.3" fill="#bfe627" transform="rotate(284.0 901.2 250.2)"/><ellipse cx="903.3" cy="244.0" rx="3.25" ry="1.3" fill="#bfe627" transform="rotate(293.0 903.3 244.0)"/><ellipse cx="906.4" cy="238.1" rx="3.25" ry="1.3" fill="#bfe627" transform="rotate(302.0 906.4 238.1)"/><ellipse cx="910.3" cy="232.8" rx="3.25" ry="1.3" fill="#bfe627" transform="rotate(311.0 910.3 232.8)"/><ellipse cx="915.0" cy="228.2" rx="3.25" ry="1.3" fill="#bfe627" transform="rotate(320.0 915.0 228.2)"/><ellipse cx="920.4" cy="224.4" rx="3.25" ry="1.3" fill="#bfe627" transform="rotate(329.0 920.4 224.4)"/><ellipse cx="926.3" cy="221.5" rx="3.25" ry="1.3" fill="#bfe627" transform="rotate(338.0 926.3 221.5)"/><ellipse cx="932.6" cy="219.5" rx="3.25" ry="1.3" fill="#bfe627" transform="rotate(347.0 932.6 219.5)"/>
<text x="991.6" y="225.6" font-size="12.2" font-weight="bold" fill="#f0141e">N2</text>
<text x="1002.6" y="250.3" font-size="12" fill="#6aab9c">H3</text>
<text x="1008.5" y="286.0" font-size="11.4" font-weight="bold" fill="#b5e51d">M1</text>
<line x1="985.0" y1="275.4" x2="1007.8" y2="282.6" stroke="#000" stroke-width="1.2"/>
<path d="M984.6 275.3 l3.6 -0.6 l-1 3 Z" fill="#000"/>
</g>
<text x="746.0" y="181.8" font-size="10.7" font-weight="bold" text-anchor="middle">H9N2</text>
<text x="746.0" y="338.6" font-size="10.7" font-weight="bold" text-anchor="middle">H3N2</text>
<text x="941.4" y="182.1" font-size="10.8" font-weight="bold" text-anchor="middle">H9+N2/M1</text>
<text x="941.4" y="338.8" font-size="10.8" font-weight="bold" text-anchor="middle">H3+N2/M1</text>
<g>
<circle cx="1151.8" cy="181.5" r="69.00" fill="url(#inner)"/>
<circle cx="1151.8" cy="181.5" r="71.20" fill="none" stroke="#aeeaf3" stroke-width="4.0"/>
<circle cx="1151.8" cy="181.5" r="73.20" fill="none" stroke="#8fdbe6" stroke-width="0.5"/>
<circle cx="1151.8" cy="181.5" r="69.50" fill="none" stroke="#8b9bd6" stroke-width="0.6"/>
<line x1="1172.9" y1="117.9" x2="1173.1" y2="107.7" stroke="#c4692a" stroke-width="0.75"/><line x1="1172.9" y1="117.9" x2="1176.1" y2="108.6" stroke="#c4692a" stroke-width="0.75"/><line x1="1172.9" y1="117.9" x2="1178.9" y2="109.6" stroke="#c4692a" stroke-width="0.75"/>
<line x1="1182.6" y1="122.0" x2="1184.4" y2="111.9" stroke="#c4692a" stroke-width="0.75"/><line x1="1182.6" y1="122.0" x2="1187.2" y2="113.3" stroke="#c4692a" stroke-width="0.75"/><line x1="1182.6" y1="122.0" x2="1189.9" y2="114.7" stroke="#c4692a" stroke-width="0.75"/>
<line x1="1191.6" y1="127.6" x2="1194.9" y2="117.9" stroke="#c4692a" stroke-width="0.75"/><line x1="1191.6" y1="127.6" x2="1197.4" y2="119.6" stroke="#c4692a" stroke-width="0.75"/><line x1="1191.6" y1="127.6" x2="1199.8" y2="121.5" stroke="#c4692a" stroke-width="0.75"/>
<line x1="1162.7" y1="115.4" x2="1161.4" y2="107.1" stroke="#c4692a" stroke-width="0.75"/><line x1="1162.7" y1="115.4" x2="1163.2" y2="107.3" stroke="#c4692a" stroke-width="0.75"/><line x1="1162.7" y1="115.4" x2="1164.9" y2="107.6" stroke="#c4692a" stroke-width="0.75"/><line x1="1162.7" y1="115.4" x2="1166.7" y2="107.9" stroke="#c4692a" stroke-width="0.75"/>
<line x1="1206.3" y1="142.5" x2="1212.5" y2="134.3" stroke="#c4692a" stroke-width="0.75"/><line x1="1206.3" y1="142.5" x2="1214.3" y2="136.8" stroke="#c4692a" stroke-width="0.75"/><line x1="1206.3" y1="142.5" x2="1216.0" y2="139.3" stroke="#c4692a" stroke-width="0.75"/>
<line x1="1211.7" y1="151.5" x2="1219.1" y2="144.4" stroke="#c4692a" stroke-width="0.75"/><line x1="1211.7" y1="151.5" x2="1220.5" y2="147.1" stroke="#c4692a" stroke-width="0.75"/><line x1="1211.7" y1="151.5" x2="1221.8" y2="149.9" stroke="#c4692a" stroke-width="0.75"/>
<line x1="1215.7" y1="161.2" x2="1224.1" y2="155.4" stroke="#c4692a" stroke-width="0.75"/><line x1="1215.7" y1="161.2" x2="1225.1" y2="158.3" stroke="#c4692a" stroke-width="0.75"/><line x1="1215.7" y1="161.2" x2="1225.9" y2="161.2" stroke="#c4692a" stroke-width="0.75"/>
<line x1="1199.5" y1="134.5" x2="1203.3" y2="126.9" stroke="#c4692a" stroke-width="0.75"/><line x1="1199.5" y1="134.5" x2="1204.6" y2="128.2" stroke="#c4692a" stroke-width="0.75"/><line x1="1199.5" y1="134.5" x2="1205.9" y2="129.4" stroke="#c4692a" stroke-width="0.75"/><line x1="1199.5" y1="134.5" x2="1207.1" y2="130.8" stroke="#c4692a" stroke-width="0.75"/>
<line x1="1218.8" y1="182.0" x2="1228.6" y2="179.0" stroke="#c4692a" stroke-width="0.75"/><line x1="1218.8" y1="182.0" x2="1228.6" y2="182.0" stroke="#c4692a" stroke-width="0.75"/><line x1="1218.8" y1="182.0" x2="1228.6" y2="185.1" stroke="#c4692a" stroke-width="0.75"/>
<line x1="1217.9" y1="192.4" x2="1228.1" y2="191.0" stroke="#c4692a" stroke-width="0.75"/><line x1="1217.9" y1="192.4" x2="1227.6" y2="194.1" stroke="#c4692a" stroke-width="0.75"/><line x1="1217.9" y1="192.4" x2="1227.1" y2="197.1" stroke="#c4692a" stroke-width="0.75"/>
<line x1="1215.4" y1="202.6" x2="1225.6" y2="202.8" stroke="#c4692a" stroke-width="0.75"/><line x1="1215.4" y1="202.6" x2="1224.7" y2="205.8" stroke="#c4692a" stroke-width="0.75"/><line x1="1215.4" y1="202.6" x2="1223.7" y2="208.6" stroke="#c4692a" stroke-width="0.75"/>
<line x1="1218.0" y1="171.5" x2="1225.6" y2="167.6" stroke="#c4692a" stroke-width="0.75"/><line x1="1218.0" y1="171.5" x2="1225.9" y2="169.4" stroke="#c4692a" stroke-width="0.75"/><line x1="1218.0" y1="171.5" x2="1226.1" y2="171.2" stroke="#c4692a" stroke-width="0.75"/><line x1="1218.0" y1="171.5" x2="1226.4" y2="173.0" stroke="#c4692a" stroke-width="0.75"/>
<line x1="1205.7" y1="221.3" x2="1215.4" y2="224.6" stroke="#c4692a" stroke-width="0.75"/><line x1="1205.7" y1="221.3" x2="1213.7" y2="227.1" stroke="#c4692a" stroke-width="0.75"/><line x1="1205.7" y1="221.3" x2="1211.8" y2="229.5" stroke="#c4692a" stroke-width="0.75"/>
<line x1="1198.8" y1="229.2" x2="1207.9" y2="234.0" stroke="#c4692a" stroke-width="0.75"/><line x1="1198.8" y1="229.2" x2="1205.8" y2="236.2" stroke="#c4692a" stroke-width="0.75"/><line x1="1198.8" y1="229.2" x2="1203.5" y2="238.3" stroke="#c4692a" stroke-width="0.75"/>
<line x1="1190.8" y1="236.0" x2="1199.0" y2="242.2" stroke="#c4692a" stroke-width="0.75"/><line x1="1190.8" y1="236.0" x2="1196.5" y2="244.0" stroke="#c4692a" stroke-width="0.75"/><line x1="1190.8" y1="236.0" x2="1194.0" y2="245.7" stroke="#c4692a" stroke-width="0.75"/>
<line x1="1211.3" y1="212.3" x2="1219.6" y2="213.6" stroke="#c4692a" stroke-width="0.75"/><line x1="1211.3" y1="212.3" x2="1218.8" y2="215.2" stroke="#c4692a" stroke-width="0.75"/><line x1="1211.3" y1="212.3" x2="1218.0" y2="216.8" stroke="#c4692a" stroke-width="0.75"/><line x1="1211.3" y1="212.3" x2="1217.1" y2="218.4" stroke="#c4692a" stroke-width="0.75"/>
<line x1="1172.1" y1="245.4" x2="1177.9" y2="253.8" stroke="#c4692a" stroke-width="0.75"/><line x1="1172.1" y1="245.4" x2="1175.0" y2="254.8" stroke="#c4692a" stroke-width="0.75"/><line x1="1172.1" y1="245.4" x2="1172.1" y2="255.6" stroke="#c4692a" stroke-width="0.75"/>
<line x1="1161.8" y1="247.7" x2="1166.3" y2="257.0" stroke="#c4692a" stroke-width="0.75"/><line x1="1161.8" y1="247.7" x2="1163.3" y2="257.5" stroke="#c4692a" stroke-width="0.75"/><line x1="1161.8" y1="247.7" x2="1160.3" y2="257.9" stroke="#c4692a" stroke-width="0.75"/>
<line x1="1151.3" y1="248.5" x2="1154.3" y2="258.3" stroke="#c4692a" stroke-width="0.75"/><line x1="1151.3" y1="248.5" x2="1151.3" y2="258.3" stroke="#c4692a" stroke-width="0.75"/><line x1="1151.3" y1="248.5" x2="1148.2" y2="258.3" stroke="#c4692a" stroke-width="0.75"/>
<line x1="1181.8" y1="241.4" x2="1187.8" y2="247.4" stroke="#c4692a" stroke-width="0.75"/><line x1="1181.8" y1="241.4" x2="1186.2" y2="248.2" stroke="#c4692a" stroke-width="0.75"/><line x1="1181.8" y1="241.4" x2="1184.6" y2="249.0" stroke="#c4692a" stroke-width="0.75"/><line x1="1181.8" y1="241.4" x2="1183.0" y2="249.8" stroke="#c4692a" stroke-width="0.75"/>
<line x1="1130.7" y1="245.1" x2="1130.5" y2="255.3" stroke="#c4692a" stroke-width="0.75"/><line x1="1130.7" y1="245.1" x2="1127.5" y2="254.4" stroke="#c4692a" stroke-width="0.75"/><line x1="1130.7" y1="245.1" x2="1124.7" y2="253.4" stroke="#c4692a" stroke-width="0.75"/>
<line x1="1121.0" y1="241.0" x2="1119.2" y2="251.1" stroke="#c4692a" stroke-width="0.75"/><line x1="1121.0" y1="241.0" x2="1116.4" y2="249.7" stroke="#c4692a" stroke-width="0.75"/><line x1="1121.0" y1="241.0" x2="1113.7" y2="248.3" stroke="#c4692a" stroke-width="0.75"/>
<line x1="1112.0" y1="235.4" x2="1108.7" y2="245.1" stroke="#c4692a" stroke-width="0.75"/><line x1="1112.0" y1="235.4" x2="1106.2" y2="243.4" stroke="#c4692a" stroke-width="0.75"/><line x1="1112.0" y1="235.4" x2="1103.8" y2="241.5" stroke="#c4692a" stroke-width="0.75"/>
<line x1="1140.9" y1="247.6" x2="1142.2" y2="255.9" stroke="#c4692a" stroke-width="0.75"/><line x1="1140.9" y1="247.6" x2="1140.4" y2="255.7" stroke="#c4692a" stroke-width="0.75"/><line x1="1140.9" y1="247.6" x2="1138.7" y2="255.4" stroke="#c4692a" stroke-width="0.75"/><line x1="1140.9" y1="247.6" x2="1136.9" y2="255.1" stroke="#c4692a" stroke-width="0.75"/>
<line x1="1097.3" y1="220.5" x2="1091.1" y2="228.7" stroke="#c4692a" stroke-width="0.75"/><line x1="1097.3" y1="220.5" x2="1089.3" y2="226.2" stroke="#c4692a" stroke-width="0.75"/><line x1="1097.3" y1="220.5" x2="1087.6" y2="223.7" stroke="#c4692a" stroke-width="0.75"/>
<line x1="1091.9" y1="211.5" x2="1084.5" y2="218.6" stroke="#c4692a" stroke-width="0.75"/><line x1="1091.9" y1="211.5" x2="1083.1" y2="215.9" stroke="#c4692a" stroke-width="0.75"/><line x1="1091.9" y1="211.5" x2="1081.8" y2="213.1" stroke="#c4692a" stroke-width="0.75"/>
<line x1="1087.9" y1="201.8" x2="1079.5" y2="207.6" stroke="#c4692a" stroke-width="0.75"/><line x1="1087.9" y1="201.8" x2="1078.5" y2="204.7" stroke="#c4692a" stroke-width="0.75"/><line x1="1087.9" y1="201.8" x2="1077.7" y2="201.8" stroke="#c4692a" stroke-width="0.75"/>
<line x1="1104.1" y1="228.5" x2="1100.3" y2="236.1" stroke="#c4692a" stroke-width="0.75"/><line x1="1104.1" y1="228.5" x2="1099.0" y2="234.8" stroke="#c4692a" stroke-width="0.75"/><line x1="1104.1" y1="228.5" x2="1097.7" y2="233.6" stroke="#c4692a" stroke-width="0.75"/><line x1="1104.1" y1="228.5" x2="1096.5" y2="232.2" stroke="#c4692a" stroke-width="0.75"/>
<line x1="1084.8" y1="181.0" x2="1075.0" y2="184.0" stroke="#c4692a" stroke-width="0.75"/><line x1="1084.8" y1="181.0" x2="1075.0" y2="181.0" stroke="#c4692a" stroke-width="0.75"/><line x1="1084.8" y1="181.0" x2="1075.0" y2="177.9" stroke="#c4692a" stroke-width="0.75"/>
<line x1="1085.7" y1="170.6" x2="1075.5" y2="172.0" stroke="#c4692a" stroke-width="0.75"/><line x1="1085.7" y1="170.6" x2="1076.0" y2="168.9" stroke="#c4692a" stroke-width="0.75"/><line x1="1085.7" y1="170.6" x2="1076.5" y2="165.9" stroke="#c4692a" stroke-width="0.75"/>
<line x1="1088.2" y1="160.4" x2="1078.0" y2="160.2" stroke="#c4692a" stroke-width="0.75"/><line x1="1088.2" y1="160.4" x2="1078.9" y2="157.2" stroke="#c4692a" stroke-width="0.75"/><line x1="1088.2" y1="160.4" x2="1079.9" y2="154.4" stroke="#c4692a" stroke-width="0.75"/>
<line x1="1085.6" y1="191.5" x2="1078.0" y2="195.4" stroke="#c4692a" stroke-width="0.75"/><line x1="1085.6" y1="191.5" x2="1077.7" y2="193.6" stroke="#c4692a" stroke-width="0.75"/><line x1="1085.6" y1="191.5" x2="1077.5" y2="191.8" stroke="#c4692a" stroke-width="0.75"/><line x1="1085.6" y1="191.5" x2="1077.2" y2="190.0" stroke="#c4692a" stroke-width="0.75"/>
<line x1="1097.9" y1="141.7" x2="1088.2" y2="138.4" stroke="#c4692a" stroke-width="0.75"/><line x1="1097.9" y1="141.7" x2="1089.9" y2="135.9" stroke="#c4692a" stroke-width="0.75"/><line x1="1097.9" y1="141.7" x2="1091.8" y2="133.5" stroke="#c4692a" stroke-width="0.75"/>
<line x1="1104.8" y1="133.8" x2="1095.7" y2="129.0" stroke="#c4692a" stroke-width="0.75"/><line x1="1104.8" y1="133.8" x2="1097.8" y2="126.8" stroke="#c4692a" stroke-width="0.75"/><line x1="1104.8" y1="133.8" x2="1100.1" y2="124.7" stroke="#c4692a" stroke-width="0.75"/>
<line x1="1112.8" y1="127.0" x2="1104.6" y2="120.8" stroke="#c4692a" stroke-width="0.75"/><line x1="1112.8" y1="127.0" x2="1107.1" y2="119.0" stroke="#c4692a" stroke-width="0.75"/><line x1="1112.8" y1="127.0" x2="1109.6" y2="117.3" stroke="#c4692a" stroke-width="0.75"/>
<line x1="1092.3" y1="150.7" x2="1084.0" y2="149.4" stroke="#c4692a" stroke-width="0.75"/><line x1="1092.3" y1="150.7" x2="1084.8" y2="147.8" stroke="#c4692a" stroke-width="0.75"/><line x1="1092.3" y1="150.7" x2="1085.6" y2="146.2" stroke="#c4692a" stroke-width="0.75"/><line x1="1092.3" y1="150.7" x2="1086.5" y2="144.6" stroke="#c4692a" stroke-width="0.75"/>
<line x1="1131.5" y1="117.6" x2="1125.7" y2="109.2" stroke="#c4692a" stroke-width="0.75"/><line x1="1131.5" y1="117.6" x2="1128.6" y2="108.2" stroke="#c4692a" stroke-width="0.75"/><line x1="1131.5" y1="117.6" x2="1131.5" y2="107.4" stroke="#c4692a" stroke-width="0.75"/>
<line x1="1141.8" y1="115.3" x2="1137.3" y2="106.0" stroke="#c4692a" stroke-width="0.75"/><line x1="1141.8" y1="115.3" x2="1140.3" y2="105.5" stroke="#c4692a" stroke-width="0.75"/><line x1="1141.8" y1="115.3" x2="1143.3" y2="105.1" stroke="#c4692a" stroke-width="0.75"/>
<line x1="1152.3" y1="114.5" x2="1149.3" y2="104.7" stroke="#c4692a" stroke-width="0.75"/><line x1="1152.3" y1="114.5" x2="1152.3" y2="104.7" stroke="#c4692a" stroke-width="0.75"/><line x1="1152.3" y1="114.5" x2="1155.4" y2="104.7" stroke="#c4692a" stroke-width="0.75"/>
<line x1="1121.8" y1="121.6" x2="1115.8" y2="115.6" stroke="#c4692a" stroke-width="0.75"/><line x1="1121.8" y1="121.6" x2="1117.4" y2="114.8" stroke="#c4692a" stroke-width="0.75"/><line x1="1121.8" y1="121.6" x2="1119.0" y2="114.0" stroke="#c4692a" stroke-width="0.75"/><line x1="1121.8" y1="121.6" x2="1120.6" y2="113.2" stroke="#c4692a" stroke-width="0.75"/>
<ellipse cx="1173.8" cy="105.5" rx="4.05" ry="1.44" fill="#6aab9c" stroke="#6aab9c" stroke-opacity="0.5" stroke-width="0.3" transform="rotate(-75.0 1173.8 105.5)"/><ellipse cx="1179.7" cy="107.5" rx="4.05" ry="1.44" fill="#6aab9c" stroke="#6aab9c" stroke-opacity="0.5" stroke-width="0.3" transform="rotate(-68.2 1179.7 107.5)"/><ellipse cx="1177.0" cy="105.8" rx="4.05" ry="1.44" fill="#6aab9c" stroke="#6aab9c" stroke-opacity="0.5" stroke-width="0.3" transform="rotate(-71.6 1177.0 105.8)"/>
<ellipse cx="1185.5" cy="109.9" rx="4.05" ry="1.44" fill="#6aab9c" stroke="#6aab9c" stroke-opacity="0.5" stroke-width="0.3" transform="rotate(-66.0 1185.5 109.9)"/><ellipse cx="1190.9" cy="112.7" rx="4.05" ry="1.44" fill="#6aab9c" stroke="#6aab9c" stroke-opacity="0.5" stroke-width="0.3" transform="rotate(-59.2 1190.9 112.7)"/><ellipse cx="1188.5" cy="110.7" rx="4.05" ry="1.44" fill="#6aab9c" stroke="#6aab9c" stroke-opacity="0.5" stroke-width="0.3" transform="rotate(-62.6 1188.5 110.7)"/>
<ellipse cx="1196.2" cy="116.1" rx="4.05" ry="1.44" fill="#6aab9c" stroke="#6aab9c" stroke-opacity="0.5" stroke-width="0.3" transform="rotate(-57.0 1196.2 116.1)"/><ellipse cx="1201.2" cy="119.7" rx="4.05" ry="1.44" fill="#6aab9c" stroke="#6aab9c" stroke-opacity="0.5" stroke-width="0.3" transform="rotate(-50.2 1201.2 119.7)"/><ellipse cx="1199.1" cy="117.3" rx="4.05" ry="1.44" fill="#6aab9c" stroke="#6aab9c" stroke-opacity="0.5" stroke-width="0.3" transform="rotate(-53.6 1199.1 117.3)"/>
<ellipse cx="1214.3" cy="133.0" rx="4.05" ry="1.44" fill="#f5ab8e" stroke="#f5ab8e" stroke-opacity="0.5" stroke-width="0.3" transform="rotate(-39.0 1214.3 133.0)"/><ellipse cx="1217.8" cy="138.0" rx="4.05" ry="1.44" fill="#f5ab8e" stroke="#f5ab8e" stroke-opacity="0.5" stroke-width="0.3" transform="rotate(-32.2 1217.8 138.0)"/><ellipse cx="1216.6" cy="135.1" rx="4.05" ry="1.44" fill="#f5ab8e" stroke="#f5ab8e" stroke-opacity="0.5" stroke-width="0.3" transform="rotate(-35.6 1216.6 135.1)"/>
<ellipse cx="1221.1" cy="143.4" rx="4.05" ry="1.44" fill="#f5ab8e" stroke="#f5ab8e" stroke-opacity="0.5" stroke-width="0.3" transform="rotate(-30.0 1221.1 143.4)"/><ellipse cx="1223.8" cy="148.8" rx="4.05" ry="1.44" fill="#f5ab8e" stroke="#f5ab8e" stroke-opacity="0.5" stroke-width="0.3" transform="rotate(-23.2 1223.8 148.8)"/><ellipse cx="1223.1" cy="145.8" rx="4.05" ry="1.44" fill="#f5ab8e" stroke="#f5ab8e" stroke-opacity="0.5" stroke-width="0.3" transform="rotate(-26.6 1223.1 145.8)"/>
<ellipse cx="1226.2" cy="154.7" rx="4.05" ry="1.44" fill="#f5ab8e" stroke="#f5ab8e" stroke-opacity="0.5" stroke-width="0.3" transform="rotate(-21.0 1226.2 154.7)"/><ellipse cx="1228.1" cy="160.5" rx="4.05" ry="1.44" fill="#f5ab8e" stroke="#f5ab8e" stroke-opacity="0.5" stroke-width="0.3" transform="rotate(-14.2 1228.1 160.5)"/><ellipse cx="1227.8" cy="157.4" rx="4.05" ry="1.44" fill="#f5ab8e" stroke="#f5ab8e" stroke-opacity="0.5" stroke-width="0.3" transform="rotate(-17.6 1227.8 157.4)"/>
<ellipse cx="1230.9" cy="179.0" rx="4.05" ry="1.44" fill="#6aab9c" stroke="#6aab9c" stroke-opacity="0.5" stroke-width="0.3" transform="rotate(-3.0 1230.9 179.0)"/><ellipse cx="1230.8" cy="185.1" rx="4.05" ry="1.44" fill="#6aab9c" stroke="#6aab9c" stroke-opacity="0.5" stroke-width="0.3" transform="rotate(3.8 1230.8 185.1)"/><ellipse cx="1231.5" cy="182.1" rx="4.05" ry="1.44" fill="#6aab9c" stroke="#6aab9c" stroke-opacity="0.5" stroke-width="0.3" transform="rotate(0.4 1231.5 182.1)"/>
<ellipse cx="1230.3" cy="191.4" rx="4.05" ry="1.44" fill="#6aab9c" stroke="#6aab9c" stroke-opacity="0.5" stroke-width="0.3" transform="rotate(6.0 1230.3 191.4)"/><ellipse cx="1229.3" cy="197.4" rx="4.05" ry="1.44" fill="#6aab9c" stroke="#6aab9c" stroke-opacity="0.5" stroke-width="0.3" transform="rotate(12.8 1229.3 197.4)"/><ellipse cx="1230.5" cy="194.5" rx="4.05" ry="1.44" fill="#6aab9c" stroke="#6aab9c" stroke-opacity="0.5" stroke-width="0.3" transform="rotate(9.4 1230.5 194.5)"/>
<ellipse cx="1227.8" cy="203.5" rx="4.05" ry="1.44" fill="#6aab9c" stroke="#6aab9c" stroke-opacity="0.5" stroke-width="0.3" transform="rotate(15.0 1227.8 203.5)"/><ellipse cx="1225.8" cy="209.4" rx="4.05" ry="1.44" fill="#6aab9c" stroke="#6aab9c" stroke-opacity="0.5" stroke-width="0.3" transform="rotate(21.8 1225.8 209.4)"/><ellipse cx="1227.5" cy="206.7" rx="4.05" ry="1.44" fill="#6aab9c" stroke="#6aab9c" stroke-opacity="0.5" stroke-width="0.3" transform="rotate(18.4 1227.5 206.7)"/>
<ellipse cx="1217.2" cy="225.9" rx="4.05" ry="1.44" fill="#f5ab8e" stroke="#f5ab8e" stroke-opacity="0.5" stroke-width="0.3" transform="rotate(33.0 1217.2 225.9)"/><ellipse cx="1213.6" cy="230.9" rx="4.05" ry="1.44" fill="#f5ab8e" stroke="#f5ab8e" stroke-opacity="0.5" stroke-width="0.3" transform="rotate(39.8 1213.6 230.9)"/><ellipse cx="1216.0" cy="228.8" rx="4.05" ry="1.44" fill="#f5ab8e" stroke="#f5ab8e" stroke-opacity="0.5" stroke-width="0.3" transform="rotate(36.4 1216.0 228.8)"/>
<ellipse cx="1209.5" cy="235.6" rx="4.05" ry="1.44" fill="#f5ab8e" stroke="#f5ab8e" stroke-opacity="0.5" stroke-width="0.3" transform="rotate(42.0 1209.5 235.6)"/><ellipse cx="1205.1" cy="239.9" rx="4.05" ry="1.44" fill="#f5ab8e" stroke="#f5ab8e" stroke-opacity="0.5" stroke-width="0.3" transform="rotate(48.8 1205.1 239.9)"/><ellipse cx="1207.8" cy="238.3" rx="4.05" ry="1.44" fill="#f5ab8e" stroke="#f5ab8e" stroke-opacity="0.5" stroke-width="0.3" transform="rotate(45.4 1207.8 238.3)"/>
<ellipse cx="1200.3" cy="244.0" rx="4.05" ry="1.44" fill="#f5ab8e" stroke="#f5ab8e" stroke-opacity="0.5" stroke-width="0.3" transform="rotate(51.0 1200.3 244.0)"/><ellipse cx="1195.3" cy="247.5" rx="4.05" ry="1.44" fill="#f5ab8e" stroke="#f5ab8e" stroke-opacity="0.5" stroke-width="0.3" transform="rotate(57.8 1195.3 247.5)"/><ellipse cx="1198.2" cy="246.3" rx="4.05" ry="1.44" fill="#f5ab8e" stroke="#f5ab8e" stroke-opacity="0.5" stroke-width="0.3" transform="rotate(54.4 1198.2 246.3)"/>
<ellipse cx="1178.6" cy="255.9" rx="4.05" ry="1.44" fill="#6aab9c" stroke="#6aab9c" stroke-opacity="0.5" stroke-width="0.3" transform="rotate(69.0 1178.6 255.9)"/><ellipse cx="1172.8" cy="257.8" rx="4.05" ry="1.44" fill="#6aab9c" stroke="#6aab9c" stroke-opacity="0.5" stroke-width="0.3" transform="rotate(75.8 1172.8 257.8)"/><ellipse cx="1175.9" cy="257.5" rx="4.05" ry="1.44" fill="#6aab9c" stroke="#6aab9c" stroke-opacity="0.5" stroke-width="0.3" transform="rotate(72.4 1175.9 257.5)"/>
<ellipse cx="1166.6" cy="259.2" rx="4.05" ry="1.44" fill="#6aab9c" stroke="#6aab9c" stroke-opacity="0.5" stroke-width="0.3" transform="rotate(78.0 1166.6 259.2)"/><ellipse cx="1160.6" cy="260.1" rx="4.05" ry="1.44" fill="#6aab9c" stroke="#6aab9c" stroke-opacity="0.5" stroke-width="0.3" transform="rotate(84.8 1160.6 260.1)"/><ellipse cx="1163.7" cy="260.3" rx="4.05" ry="1.44" fill="#6aab9c" stroke="#6aab9c" stroke-opacity="0.5" stroke-width="0.3" transform="rotate(81.4 1163.7 260.3)"/>
<ellipse cx="1154.3" cy="260.6" rx="4.05" ry="1.44" fill="#6aab9c" stroke="#6aab9c" stroke-opacity="0.5" stroke-width="0.3" transform="rotate(87.0 1154.3 260.6)"/><ellipse cx="1148.2" cy="260.5" rx="4.05" ry="1.44" fill="#6aab9c" stroke="#6aab9c" stroke-opacity="0.5" stroke-width="0.3" transform="rotate(93.8 1148.2 260.5)"/><ellipse cx="1151.2" cy="261.2" rx="4.05" ry="1.44" fill="#6aab9c" stroke="#6aab9c" stroke-opacity="0.5" stroke-width="0.3" transform="rotate(90.4 1151.2 261.2)"/>
<ellipse cx="1129.8" cy="257.5" rx="4.05" ry="1.44" fill="#f5ab8e" stroke="#f5ab8e" stroke-opacity="0.5" stroke-width="0.3" transform="rotate(105.0 1129.8 257.5)"/><ellipse cx="1123.9" cy="255.5" rx="4.05" ry="1.44" fill="#f5ab8e" stroke="#f5ab8e" stroke-opacity="0.5" stroke-width="0.3" transform="rotate(111.8 1123.9 255.5)"/><ellipse cx="1126.6" cy="257.2" rx="4.05" ry="1.44" fill="#f5ab8e" stroke="#f5ab8e" stroke-opacity="0.5" stroke-width="0.3" transform="rotate(108.4 1126.6 257.2)"/>
<ellipse cx="1118.1" cy="253.1" rx="4.05" ry="1.44" fill="#f5ab8e" stroke="#f5ab8e" stroke-opacity="0.5" stroke-width="0.3" transform="rotate(114.0 1118.1 253.1)"/><ellipse cx="1112.7" cy="250.3" rx="4.05" ry="1.44" fill="#f5ab8e" stroke="#f5ab8e" stroke-opacity="0.5" stroke-width="0.3" transform="rotate(120.8 1112.7 250.3)"/><ellipse cx="1115.1" cy="252.3" rx="4.05" ry="1.44" fill="#f5ab8e" stroke="#f5ab8e" stroke-opacity="0.5" stroke-width="0.3" transform="rotate(117.4 1115.1 252.3)"/>
<ellipse cx="1107.4" cy="246.9" rx="4.05" ry="1.44" fill="#f5ab8e" stroke="#f5ab8e" stroke-opacity="0.5" stroke-width="0.3" transform="rotate(123.0 1107.4 246.9)"/><ellipse cx="1102.4" cy="243.3" rx="4.05" ry="1.44" fill="#f5ab8e" stroke="#f5ab8e" stroke-opacity="0.5" stroke-width="0.3" transform="rotate(129.8 1102.4 243.3)"/><ellipse cx="1104.5" cy="245.7" rx="4.05" ry="1.44" fill="#f5ab8e" stroke="#f5ab8e" stroke-opacity="0.5" stroke-width="0.3" transform="rotate(126.4 1104.5 245.7)"/>
<ellipse cx="1089.3" cy="230.0" rx="4.05" ry="1.44" fill="#6aab9c" stroke="#6aab9c" stroke-opacity="0.5" stroke-width="0.3" transform="rotate(141.0 1089.3 230.0)"/><ellipse cx="1085.8" cy="225.0" rx="4.05" ry="1.44" fill="#6aab9c" stroke="#6aab9c" stroke-opacity="0.5" stroke-width="0.3" transform="rotate(147.8 1085.8 225.0)"/><ellipse cx="1087.0" cy="227.9" rx="4.05" ry="1.44" fill="#6aab9c" stroke="#6aab9c" stroke-opacity="0.5" stroke-width="0.3" transform="rotate(144.4 1087.0 227.9)"/>
<ellipse cx="1082.5" cy="219.6" rx="4.05" ry="1.44" fill="#6aab9c" stroke="#6aab9c" stroke-opacity="0.5" stroke-width="0.3" transform="rotate(150.0 1082.5 219.6)"/><ellipse cx="1079.8" cy="214.2" rx="4.05" ry="1.44" fill="#6aab9c" stroke="#6aab9c" stroke-opacity="0.5" stroke-width="0.3" transform="rotate(156.8 1079.8 214.2)"/><ellipse cx="1080.5" cy="217.2" rx="4.05" ry="1.44" fill="#6aab9c" stroke="#6aab9c" stroke-opacity="0.5" stroke-width="0.3" transform="rotate(153.4 1080.5 217.2)"/>
<ellipse cx="1077.4" cy="208.3" rx="4.05" ry="1.44" fill="#6aab9c" stroke="#6aab9c" stroke-opacity="0.5" stroke-width="0.3" transform="rotate(159.0 1077.4 208.3)"/><ellipse cx="1075.5" cy="202.5" rx="4.05" ry="1.44" fill="#6aab9c" stroke="#6aab9c" stroke-opacity="0.5" stroke-width="0.3" transform="rotate(165.8 1075.5 202.5)"/><ellipse cx="1075.8" cy="205.6" rx="4.05" ry="1.44" fill="#6aab9c" stroke="#6aab9c" stroke-opacity="0.5" stroke-width="0.3" transform="rotate(162.4 1075.8 205.6)"/>
<ellipse cx="1072.7" cy="184.0" rx="4.05" ry="1.44" fill="#f5ab8e" stroke="#f5ab8e" stroke-opacity="0.5" stroke-width="0.3" transform="rotate(177.0 1072.7 184.0)"/><ellipse cx="1072.8" cy="177.9" rx="4.05" ry="1.44" fill="#f5ab8e" stroke="#f5ab8e" stroke-opacity="0.5" stroke-width="0.3" transform="rotate(183.8 1072.8 177.9)"/><ellipse cx="1072.1" cy="180.9" rx="4.05" ry="1.44" fill="#f5ab8e" stroke="#f5ab8e" stroke-opacity="0.5" stroke-width="0.3" transform="rotate(180.4 1072.1 180.9)"/>
<ellipse cx="1073.3" cy="171.6" rx="4.05" ry="1.44" fill="#f5ab8e" stroke="#f5ab8e" stroke-opacity="0.5" stroke-width="0.3" transform="rotate(186.0 1073.3 171.6)"/><ellipse cx="1074.3" cy="165.6" rx="4.05" ry="1.44" fill="#f5ab8e" stroke="#f5ab8e" stroke-opacity="0.5" stroke-width="0.3" transform="rotate(192.8 1074.3 165.6)"/><ellipse cx="1073.1" cy="168.5" rx="4.05" ry="1.44" fill="#f5ab8e" stroke="#f5ab8e" stroke-opacity="0.5" stroke-width="0.3" transform="rotate(189.4 1073.1 168.5)"/>
<ellipse cx="1075.8" cy="159.5" rx="4.05" ry="1.44" fill="#f5ab8e" stroke="#f5ab8e" stroke-opacity="0.5" stroke-width="0.3" transform="rotate(195.0 1075.8 159.5)"/><ellipse cx="1077.8" cy="153.6" rx="4.05" ry="1.44" fill="#f5ab8e" stroke="#f5ab8e" stroke-opacity="0.5" stroke-width="0.3" transform="rotate(201.8 1077.8 153.6)"/><ellipse cx="1076.1" cy="156.3" rx="4.05" ry="1.44" fill="#f5ab8e" stroke="#f5ab8e" stroke-opacity="0.5" stroke-width="0.3" transform="rotate(198.4 1076.1 156.3)"/>
<ellipse cx="1086.4" cy="137.1" rx="4.05" ry="1.44" fill="#6aab9c" stroke="#6aab9c" stroke-opacity="0.5" stroke-width="0.3" transform="rotate(213.0 1086.4 137.1)"/><ellipse cx="1090.0" cy="132.1" rx="4.05" ry="1.44" fill="#6aab9c" stroke="#6aab9c" stroke-opacity="0.5" stroke-width="0.3" transform="rotate(219.8 1090.0 132.1)"/><ellipse cx="1087.6" cy="134.2" rx="4.05" ry="1.44" fill="#6aab9c" stroke="#6aab9c" stroke-opacity="0.5" stroke-width="0.3" transform="rotate(216.4 1087.6 134.2)"/>
<ellipse cx="1094.1" cy="127.4" rx="4.05" ry="1.44" fill="#6aab9c" stroke="#6aab9c" stroke-opacity="0.5" stroke-width="0.3" transform="rotate(222.0 1094.1 127.4)"/><ellipse cx="1098.5" cy="123.1" rx="4.05" ry="1.44" fill="#6aab9c" stroke="#6aab9c" stroke-opacity="0.5" stroke-width="0.3" transform="rotate(228.8 1098.5 123.1)"/><ellipse cx="1095.8" cy="124.7" rx="4.05" ry="1.44" fill="#6aab9c" stroke="#6aab9c" stroke-opacity="0.5" stroke-width="0.3" transform="rotate(225.4 1095.8 124.7)"/>
<ellipse cx="1103.3" cy="119.0" rx="4.05" ry="1.44" fill="#6aab9c" stroke="#6aab9c" stroke-opacity="0.5" stroke-width="0.3" transform="rotate(231.0 1103.3 119.0)"/><ellipse cx="1108.3" cy="115.5" rx="4.05" ry="1.44" fill="#6aab9c" stroke="#6aab9c" stroke-opacity="0.5" stroke-width="0.3" transform="rotate(237.8 1108.3 115.5)"/><ellipse cx="1105.4" cy="116.7" rx="4.05" ry="1.44" fill="#6aab9c" stroke="#6aab9c" stroke-opacity="0.5" stroke-width="0.3" transform="rotate(234.4 1105.4 116.7)"/>
<ellipse cx="1125.0" cy="107.1" rx="4.05" ry="1.44" fill="#f5ab8e" stroke="#f5ab8e" stroke-opacity="0.5" stroke-width="0.3" transform="rotate(249.0 1125.0 107.1)"/><ellipse cx="1130.8" cy="105.2" rx="4.05" ry="1.44" fill="#f5ab8e" stroke="#f5ab8e" stroke-opacity="0.5" stroke-width="0.3" transform="rotate(255.8 1130.8 105.2)"/><ellipse cx="1127.7" cy="105.5" rx="4.05" ry="1.44" fill="#f5ab8e" stroke="#f5ab8e" stroke-opacity="0.5" stroke-width="0.3" transform="rotate(252.4 1127.7 105.5)"/>
<ellipse cx="1137.0" cy="103.8" rx="4.05" ry="1.44" fill="#f5ab8e" stroke="#f5ab8e" stroke-opacity="0.5" stroke-width="0.3" transform="rotate(258.0 1137.0 103.8)"/><ellipse cx="1143.0" cy="102.9" rx="4.05" ry="1.44" fill="#f5ab8e" stroke="#f5ab8e" stroke-opacity="0.5" stroke-width="0.3" transform="rotate(264.8 1143.0 102.9)"/><ellipse cx="1139.9" cy="102.7" rx="4.05" ry="1.44" fill="#f5ab8e" stroke="#f5ab8e" stroke-opacity="0.5" stroke-width="0.3" transform="rotate(261.4 1139.9 102.7)"/>
<ellipse cx="1149.3" cy="102.4" rx="4.05" ry="1.44" fill="#f5ab8e" stroke="#f5ab8e" stroke-opacity="0.5" stroke-width="0.3" transform="rotate(267.0 1149.3 102.4)"/><ellipse cx="1155.4" cy="102.5" rx="4.05" ry="1.44" fill="#f5ab8e" stroke="#f5ab8e" stroke-opacity="0.5" stroke-width="0.3" transform="rotate(273.8 1155.4 102.5)"/><ellipse cx="1152.4" cy="101.8" rx="4.05" ry="1.44" fill="#f5ab8e" stroke="#f5ab8e" stroke-opacity="0.5" stroke-width="0.3" transform="rotate(270.4 1152.4 101.8)"/>
<circle cx="1162.5" cy="104.9" r="3.10" fill="#d3271a"/><circle cx="1166.3" cy="105.5" r="3.10" fill="#d3271a"/><circle cx="1164.4" cy="105.5" r="3.10" fill="#de2a1c"/><circle cx="1162.3" cy="101.3" r="3.25" fill="#f0301f"/><circle cx="1167.7" cy="102.2" r="3.25" fill="#fb3b27"/>
<circle cx="1205.5" cy="125.8" r="3.10" fill="#d3271a"/><circle cx="1208.2" cy="128.6" r="3.10" fill="#d3271a"/><circle cx="1206.7" cy="127.4" r="3.10" fill="#de2a1c"/><circle cx="1207.5" cy="122.8" r="3.25" fill="#f0301f"/><circle cx="1211.3" cy="126.7" r="3.25" fill="#fb3b27"/>
<circle cx="1228.0" cy="168.0" r="3.10" fill="#d3271a"/><circle cx="1228.6" cy="171.9" r="3.10" fill="#d3271a"/><circle cx="1228.0" cy="170.0" r="3.10" fill="#de2a1c"/><circle cx="1231.3" cy="166.7" r="3.25" fill="#f0301f"/><circle cx="1232.1" cy="172.1" r="3.25" fill="#fb3b27"/>
<circle cx="1221.4" cy="215.4" r="3.10" fill="#d3271a"/><circle cx="1219.6" cy="218.8" r="3.10" fill="#d3271a"/><circle cx="1220.2" cy="217.0" r="3.10" fill="#de2a1c"/><circle cx="1224.8" cy="216.3" r="3.25" fill="#f0301f"/><circle cx="1222.3" cy="221.1" r="3.25" fill="#fb3b27"/>
<circle cx="1188.2" cy="249.8" r="3.10" fill="#d3271a"/><circle cx="1184.7" cy="251.5" r="3.10" fill="#d3271a"/><circle cx="1186.3" cy="250.4" r="3.10" fill="#de2a1c"/><circle cx="1190.4" cy="252.6" r="3.25" fill="#f0301f"/><circle cx="1185.6" cy="255.0" r="3.25" fill="#fb3b27"/>
<circle cx="1141.1" cy="258.1" r="3.10" fill="#d3271a"/><circle cx="1137.3" cy="257.5" r="3.10" fill="#d3271a"/><circle cx="1139.2" cy="257.5" r="3.10" fill="#de2a1c"/><circle cx="1141.3" cy="261.7" r="3.25" fill="#f0301f"/><circle cx="1135.9" cy="260.8" r="3.25" fill="#fb3b27"/>
<circle cx="1098.1" cy="237.2" r="3.10" fill="#d3271a"/><circle cx="1095.4" cy="234.4" r="3.10" fill="#d3271a"/><circle cx="1096.9" cy="235.6" r="3.10" fill="#de2a1c"/><circle cx="1096.1" cy="240.2" r="3.25" fill="#f0301f"/><circle cx="1092.3" cy="236.3" r="3.25" fill="#fb3b27"/>
<circle cx="1075.6" cy="195.0" r="3.10" fill="#d3271a"/><circle cx="1075.0" cy="191.1" r="3.10" fill="#d3271a"/><circle cx="1075.6" cy="193.0" r="3.10" fill="#de2a1c"/><circle cx="1072.3" cy="196.3" r="3.25" fill="#f0301f"/><circle cx="1071.5" cy="190.9" r="3.25" fill="#fb3b27"/>
<circle cx="1082.2" cy="147.6" r="3.10" fill="#d3271a"/><circle cx="1084.0" cy="144.2" r="3.10" fill="#d3271a"/><circle cx="1083.4" cy="146.0" r="3.10" fill="#de2a1c"/><circle cx="1078.8" cy="146.7" r="3.25" fill="#f0301f"/><circle cx="1081.3" cy="141.9" r="3.25" fill="#fb3b27"/>
<circle cx="1115.4" cy="113.2" r="3.10" fill="#d3271a"/><circle cx="1118.9" cy="111.5" r="3.10" fill="#d3271a"/><circle cx="1117.3" cy="112.6" r="3.10" fill="#de2a1c"/><circle cx="1113.2" cy="110.4" r="3.25" fill="#f0301f"/><circle cx="1118.0" cy="108.0" r="3.25" fill="#fb3b27"/>
<circle cx="1151.8" cy="181.5" r="67.20" fill="none" stroke="#e9c48f" stroke-width="0.5"/>
<ellipse cx="1146.1" cy="116.3" rx="5.6" ry="1.95" fill="#d85cc8" transform="rotate(-5.0 1146.1 116.3)"/><ellipse cx="1157.5" cy="116.3" rx="5.6" ry="1.95" fill="#d85cc8" transform="rotate(5.0 1157.5 116.3)"/><ellipse cx="1168.7" cy="118.3" rx="5.6" ry="1.95" fill="#d85cc8" transform="rotate(15.0 1168.7 118.3)"/><ellipse cx="1179.4" cy="122.2" rx="5.6" ry="1.95" fill="#d85cc8" transform="rotate(25.0 1179.4 122.2)"/><ellipse cx="1189.3" cy="127.9" rx="5.6" ry="1.95" fill="#d85cc8" transform="rotate(35.0 1189.3 127.9)"/><ellipse cx="1198.0" cy="135.3" rx="5.6" ry="1.95" fill="#d85cc8" transform="rotate(45.0 1198.0 135.3)"/><ellipse cx="1205.4" cy="144.0" rx="5.6" ry="1.95" fill="#d85cc8" transform="rotate(55.0 1205.4 144.0)"/><ellipse cx="1211.1" cy="153.9" rx="5.6" ry="1.95" fill="#d85cc8" transform="rotate(65.0 1211.1 153.9)"/><ellipse cx="1215.0" cy="164.6" rx="5.6" ry="1.95" fill="#d85cc8" transform="rotate(75.0 1215.0 164.6)"/><ellipse cx="1217.0" cy="175.8" rx="5.6" ry="1.95" fill="#d85cc8" transform="rotate(85.0 1217.0 175.8)"/><ellipse cx="1217.0" cy="187.2" rx="5.6" ry="1.95" fill="#d85cc8" transform="rotate(95.0 1217.0 187.2)"/><ellipse cx="1215.0" cy="198.4" rx="5.6" ry="1.95" fill="#d85cc8" transform="rotate(105.0 1215.0 198.4)"/><ellipse cx="1211.1" cy="209.1" rx="5.6" ry="1.95" fill="#d85cc8" transform="rotate(115.0 1211.1 209.1)"/><ellipse cx="1205.4" cy="219.0" rx="5.6" ry="1.95" fill="#d85cc8" transform="rotate(125.0 1205.4 219.0)"/><ellipse cx="1198.0" cy="227.7" rx="5.6" ry="1.95" fill="#d85cc8" transform="rotate(135.0 1198.0 227.7)"/><ellipse cx="1189.3" cy="235.1" rx="5.6" ry="1.95" fill="#d85cc8" transform="rotate(145.0 1189.3 235.1)"/><ellipse cx="1179.4" cy="240.8" rx="5.6" ry="1.95" fill="#d85cc8" transform="rotate(155.0 1179.4 240.8)"/><ellipse cx="1168.7" cy="244.7" rx="5.6" ry="1.95" fill="#d85cc8" transform="rotate(165.0 1168.7 244.7)"/><ellipse cx="1157.5" cy="246.7" rx="5.6" ry="1.95" fill="#d85cc8" transform="rotate(175.0 1157.5 246.7)"/><ellipse cx="1146.1" cy="246.7" rx="5.6" ry="1.95" fill="#d85cc8" transform="rotate(185.0 1146.1 246.7)"/><ellipse cx="1134.9" cy="244.7" rx="5.6" ry="1.95" fill="#d85cc8" transform="rotate(195.0 1134.9 244.7)"/><ellipse cx="1124.2" cy="240.8" rx="5.6" ry="1.95" fill="#d85cc8" transform="rotate(205.0 1124.2 240.8)"/><ellipse cx="1114.3" cy="235.1" rx="5.6" ry="1.95" fill="#d85cc8" transform="rotate(215.0 1114.3 235.1)"/><ellipse cx="1105.6" cy="227.7" rx="5.6" ry="1.95" fill="#d85cc8" transform="rotate(225.0 1105.6 227.7)"/><ellipse cx="1098.2" cy="219.0" rx="5.6" ry="1.95" fill="#d85cc8" transform="rotate(235.0 1098.2 219.0)"/><ellipse cx="1092.5" cy="209.1" rx="5.6" ry="1.95" fill="#d85cc8" transform="rotate(245.0 1092.5 209.1)"/><ellipse cx="1088.6" cy="198.4" rx="5.6" ry="1.95" fill="#d85cc8" transform="rotate(255.0 1088.6 198.4)"/><ellipse cx="1086.6" cy="187.2" rx="5.6" ry="1.95" fill="#d85cc8" transform="rotate(265.0 1086.6 187.2)"/><ellipse cx="1086.6" cy="175.8" rx="5.6" ry="1.95" fill="#d85cc8" transform="rotate(275.0 1086.6 175.8)"/><ellipse cx="1088.6" cy="164.6" rx="5.6" ry="1.95" fill="#d85cc8" transform="rotate(285.0 1088.6 164.6)"/><ellipse cx="1092.5" cy="153.9" rx="5.6" ry="1.95" fill="#d85cc8" transform="rotate(295.0 1092.5 153.9)"/><ellipse cx="1098.2" cy="144.0" rx="5.6" ry="1.95" fill="#d85cc8" transform="rotate(305.0 1098.2 144.0)"/><ellipse cx="1105.6" cy="135.3" rx="5.6" ry="1.95" fill="#d85cc8" transform="rotate(315.0 1105.6 135.3)"/><ellipse cx="1114.3" cy="127.9" rx="5.6" ry="1.95" fill="#d85cc8" transform="rotate(325.0 1114.3 127.9)"/><ellipse cx="1124.2" cy="122.2" rx="5.6" ry="1.95" fill="#d85cc8" transform="rotate(335.0 1124.2 122.2)"/><ellipse cx="1134.9" cy="118.3" rx="5.6" ry="1.95" fill="#d85cc8" transform="rotate(345.0 1134.9 118.3)"/>
</g>
<text x="1213.5" y="129.5" font-size="12.2" font-weight="bold" fill="#f0141e">N2</text>
<text x="1228.5" y="151.5" font-size="12" fill="#f79a4a">H9</text>
<text x="1235.0" y="200.5" font-size="12" fill="#6aab9c">H3</text>
<text x="1237.0" y="221.5" font-size="12" font-weight="bold" fill="#cc2fb5">Gag</text>
<line x1="1214.0" y1="207.5" x2="1236.0" y2="215.0" stroke="#000" stroke-width="1.2"/>
<path d="M1213.4 207.2 l3.6 -0.4 l-1.2 2.9 Z" fill="#000"/>
<text x="1145.5" y="284.5" font-size="10.8" font-weight="bold" text-anchor="middle">H9+H3+N2/Gag</text>
<text x="744.8" y="367.8" font-size="20" font-weight="bold" text-anchor="middle">80-120nm</text>
<text x="941.2" y="367.8" font-size="20" font-weight="bold" text-anchor="middle">80-120nm</text>
<text x="1147.3" y="367.8" font-size="20" font-weight="bold" text-anchor="middle">180-200nm</text>
<text x="746.5" y="415.5" font-size="24" font-weight="bold" text-anchor="middle">A</text>
<text x="942.5" y="415.5" font-size="24" font-weight="bold" text-anchor="middle">B</text>
<text x="1146.0" y="415.5" font-size="24" font-weight="bold" text-anchor="middle">C</text>
<line x1="626.0" y1="413.2" x2="687.2" y2="413.2" stroke="#1f3f1f" stroke-width="1.7"/>
<text x="641.5" y="409.0" font-size="12.3" font-weight="bold">60nm</text>
</g>
<g id="timeline" filter="url(#blurL)">
<text x="16.2" y="452.7" font-size="10.4" font-weight="bold" textLength="9.2" lengthAdjust="spacingAndGlyphs" stroke="#000" stroke-width="0.25">A</text>
<line x1="25.2" y1="473.1" x2="373.0" y2="473.1" stroke="#0526e6" stroke-width="2.1"/>
<path d="M378.5 473.2 L370.8 470.2 L370.8 476.2 Z" fill="#0526e6"/>
<line x1="26.3" y1="472.1" x2="26.3" y2="493.4" stroke="#0526e6" stroke-width="2.1"/>
<text x="27.8" y="467.9" font-size="7.7" font-weight="bold" text-anchor="middle" textLength="4.4" lengthAdjust="spacingAndGlyphs" stroke="#000" stroke-width="0.25">S</text>
<text x="27.5" y="502.6" font-size="7" font-weight="bold" text-anchor="middle" textLength="4.4" lengthAdjust="spacingAndGlyphs" stroke="#000" stroke-width="0.25">0</text>
<line x1="94.1" y1="472.1" x2="94.1" y2="493.4" stroke="#0526e6" stroke-width="2.1"/>
<text x="95.6" y="467.9" font-size="7.7" font-weight="bold" text-anchor="middle" textLength="4.4" lengthAdjust="spacingAndGlyphs" stroke="#000" stroke-width="0.25">S</text>
<text x="94.1" y="502.6" font-size="7" font-weight="bold" text-anchor="middle" textLength="4.4" lengthAdjust="spacingAndGlyphs" stroke="#000" stroke-width="0.25">7</text>
<line x1="160.3" y1="472.1" x2="160.3" y2="493.4" stroke="#0526e6" stroke-width="2.1"/>
<text x="161.8" y="467.9" font-size="7.7" font-weight="bold" text-anchor="middle" textLength="4.4" lengthAdjust="spacingAndGlyphs" stroke="#000" stroke-width="0.25">S</text>
<text x="159.3" y="502.6" font-size="7" font-weight="bold" text-anchor="middle" textLength="8.8" lengthAdjust="spacingAndGlyphs" stroke="#000" stroke-width="0.25">14</text>
<line x1="226.5" y1="472.1" x2="226.5" y2="493.4" stroke="#0526e6" stroke-width="2.1"/>
<text x="228.0" y="467.9" font-size="7.7" font-weight="bold" text-anchor="middle" textLength="4.4" lengthAdjust="spacingAndGlyphs" stroke="#000" stroke-width="0.25">S</text>
<text x="226.5" y="502.6" font-size="7" font-weight="bold" text-anchor="middle" textLength="8.8" lengthAdjust="spacingAndGlyphs" stroke="#000" stroke-width="0.25">21</text>
<line x1="292.4" y1="472.1" x2="292.4" y2="493.4" stroke="#0526e6" stroke-width="2.1"/>
<text x="293.9" y="467.9" font-size="7.7" font-weight="bold" text-anchor="middle" textLength="4.4" lengthAdjust="spacingAndGlyphs" stroke="#000" stroke-width="0.25">S</text>
<text x="292.4" y="502.6" font-size="7" font-weight="bold" text-anchor="middle" textLength="8.8" lengthAdjust="spacingAndGlyphs" stroke="#000" stroke-width="0.25">28</text>
<line x1="358.5" y1="472.1" x2="358.5" y2="493.4" stroke="#0526e6" stroke-width="2.1"/>
<text x="360.0" y="467.9" font-size="7.7" font-weight="bold" text-anchor="middle" textLength="4.4" lengthAdjust="spacingAndGlyphs" stroke="#000" stroke-width="0.25">S</text>
<text x="358.5" y="502.6" font-size="7" font-weight="bold" text-anchor="middle" textLength="8.8" lengthAdjust="spacingAndGlyphs" stroke="#000" stroke-width="0.25">35</text>
<line x1="225.6" y1="526.8" x2="373.0" y2="526.8" stroke="#fa0f0f" stroke-width="2"/>
<path d="M378.5 526.8 L370.8 523.8 L370.8 529.8 Z" fill="#fa0f0f"/>
<line x1="226.5" y1="507.0" x2="226.5" y2="526.8" stroke="#fa0f0f" stroke-width="2" stroke-dasharray="5.5 2.6"/>
<text x="226.3" y="536.7" font-size="6.6" font-weight="bold" text-anchor="middle" textLength="4.3" lengthAdjust="spacingAndGlyphs" stroke="#000" stroke-width="0.25">0</text>
<text x="226.5" y="550.0" font-size="6.4" font-weight="bold" text-anchor="middle" textLength="7.4" lengthAdjust="spacingAndGlyphs" stroke="#000" stroke-width="0.25">W</text>
<line x1="254.8" y1="507.0" x2="254.8" y2="527.0" stroke="#fa0f0f" stroke-width="1.9"/>
<text x="254.6" y="536.7" font-size="6.6" font-weight="bold" text-anchor="middle" textLength="4.3" lengthAdjust="spacingAndGlyphs" stroke="#000" stroke-width="0.25">3</text>
<text x="255.0" y="550.0" font-size="6.4" font-weight="bold" text-anchor="middle" textLength="16.7" lengthAdjust="spacingAndGlyphs" stroke="#000" stroke-width="0.25">S/W</text>
<line x1="273.0" y1="507.0" x2="273.0" y2="527.0" stroke="#fa0f0f" stroke-width="1.9"/>
<text x="272.8" y="536.7" font-size="6.6" font-weight="bold" text-anchor="middle" textLength="4.3" lengthAdjust="spacingAndGlyphs" stroke="#000" stroke-width="0.25">5</text>
<text x="273.2" y="550.0" font-size="6.4" font-weight="bold" text-anchor="middle" textLength="16.7" lengthAdjust="spacingAndGlyphs" stroke="#000" stroke-width="0.25">S/W</text>
<line x1="292.4" y1="507.0" x2="292.4" y2="527.0" stroke="#fa0f0f" stroke-width="1.9"/>
<text x="292.2" y="536.7" font-size="6.6" font-weight="bold" text-anchor="middle" textLength="4.3" lengthAdjust="spacingAndGlyphs" stroke="#000" stroke-width="0.25">7</text>
<text x="292.6" y="550.0" font-size="6.4" font-weight="bold" text-anchor="middle" textLength="16.7" lengthAdjust="spacingAndGlyphs" stroke="#000" stroke-width="0.25">S/W</text>
<line x1="320.2" y1="507.0" x2="320.2" y2="527.0" stroke="#fa0f0f" stroke-width="1.9"/>
<text x="320.0" y="536.7" font-size="6.6" font-weight="bold" text-anchor="middle" textLength="8.6" lengthAdjust="spacingAndGlyphs" stroke="#000" stroke-width="0.25">10</text>
<text x="320.2" y="550.0" font-size="6.4" font-weight="bold" text-anchor="middle" textLength="7.4" lengthAdjust="spacingAndGlyphs" stroke="#000" stroke-width="0.25">W</text>
<line x1="358.5" y1="507.0" x2="358.5" y2="527.0" stroke="#fa0f0f" stroke-width="1.9"/>
<text x="358.3" y="536.7" font-size="6.6" font-weight="bold" text-anchor="middle" textLength="8.6" lengthAdjust="spacingAndGlyphs" stroke="#000" stroke-width="0.25">14</text>
<text x="358.5" y="550.0" font-size="6.4" font-weight="bold" text-anchor="middle" textLength="7.4" lengthAdjust="spacingAndGlyphs" stroke="#000" stroke-width="0.25">W</text>
<text x="384.5" y="477.9" font-size="12.2" font-weight="bold" textLength="153.7" lengthAdjust="spacingAndGlyphs">Days post immunization</text>
<text x="384.5" y="531.1" font-size="12.2" font-weight="bold" textLength="125.4" lengthAdjust="spacingAndGlyphs">Days post challenge</text>
<text x="68.6" y="550.0" font-size="6.5" font-weight="bold" textLength="79.2" lengthAdjust="spacingAndGlyphs">S: sample; W: weight</text>
<g stroke="#86bde2" stroke-width="0.55" fill="#e3f0f9" stroke-linecap="round">
<path d="M15.6 464.2 L18.2 462.1 L23.6 467.3 L23.9 469.3 L21.6 469.6 Z"/>
<line x1="11.6" y1="462.4" x2="15.2" y2="460.3"/><line x1="13.3" y1="461.4" x2="16.6" y2="463.6"/>
<line x1="14.4" y1="465.2" x2="18.9" y2="461.3"/>
<line x1="17.6" y1="465.8" x2="19.9" y2="463.9"/><line x1="19.4" y1="467.4" x2="21.7" y2="465.5"/>
<line x1="23.6" y1="469.2" x2="25.2" y2="470.8"/>
</g>
<ellipse cx="214.5" cy="526.5" rx="7.9" ry="6.4" fill="#eef6dc" stroke="#d96a1c" stroke-width="2.6"/>
<line x1="211.4" y1="523.6" x2="217.6" y2="523.6" stroke="#8fa6ac" stroke-width="0.9"/>
<line x1="211.4" y1="525.0" x2="217.6" y2="525.0" stroke="#9fb4b4" stroke-width="0.9"/>
<line x1="211.4" y1="526.3" x2="217.6" y2="526.3" stroke="#9a6a8a" stroke-width="0.9"/>
<line x1="211.4" y1="527.6" x2="217.6" y2="527.6" stroke="#e8a070" stroke-width="0.9"/>
<line x1="211.4" y1="529.0" x2="217.6" y2="529.0" stroke="#b8dc5a" stroke-width="0.9"/>
<polygon points="36.8,512.9 39.2,516.4 40.7,520.5 41.7,524.1 43.8,525.8 49.4,526.1 50.9,523.1 53.5,520.0 58.1,519.0 63.2,520.0 65.8,523.1 65.3,525.6 63.4,526.6 62.7,530.7 60.1,536.9 55.0,541.0 50.4,542.8 48.9,545.6 46.8,545.6 45.8,543.2 42.7,543.8 40.7,544.2 39.2,543.5 35.6,541.5 30.5,538.4 26.9,533.8 25.4,528.7 26.4,522.5 27.9,518.5 27.6,516.4 28.9,513.8 32.0,512.3 35.1,512.1" fill="#fff" stroke="#111" stroke-width="0.75" stroke-linejoin="round"/>
<polygon points="26.9,514.4 28.9,511.8 33.0,510.8 37.0,511.3 35.8,513.1 32.7,512.9 30.0,514.4 27.9,515.6" fill="#f01818"/>
<polygon points="29.0,516.4 33.7,514.8 33.5,517.6 31.1,519.9 29.2,518.7" fill="#f01818"/>
<polygon points="25.9,515.4 28.6,515.0 28.9,516.2" fill="#e8a018"/>
<path d="M34.6 532.8 Q44.8 536.9 54.0 532.8" stroke="#bbb" stroke-width="0.5" fill="none"/>
<path d="M40.7 528.7 Q48.9 532.8 58.1 526.6" stroke="#ccc" stroke-width="0.5" fill="none"/>
<g stroke="#e6a21a" stroke-width="1.3" fill="none" stroke-linecap="round">
<line x1="40.9" y1="544.2" x2="39.5" y2="550.2"/>
<line x1="39.5" y1="550.2" x2="34.6" y2="551.4"/>
<line x1="39.5" y1="550.2" x2="41.9" y2="550.8"/>
<line x1="47.9" y1="545.6" x2="47.9" y2="551.0"/>
<line x1="47.9" y1="551.0" x2="43.0" y2="551.8"/>
<line x1="47.9" y1="551.0" x2="51.1" y2="551.2"/>
</g>
</g>
<g id="bars" filter="url(#blurL)">
<line x1="35.4" y1="581.8" x2="35.4" y2="693.0" stroke="#111" stroke-width="1.15"/>
<line x1="34.9" y1="692.5" x2="237.7" y2="692.5" stroke="#111" stroke-width="1.15"/>
<line x1="33.2" y1="692.5" x2="35.4" y2="692.5" stroke="#000" stroke-width="0.7"/>
<text x="32.5" y="694.3" font-size="5.3" font-weight="bold" text-anchor="end" textLength="3.1" lengthAdjust="spacingAndGlyphs" stroke="#000" stroke-width="0.2">0</text>
<line x1="33.2" y1="655.7" x2="35.4" y2="655.7" stroke="#000" stroke-width="0.7"/>
<text x="32.5" y="657.5" font-size="5.3" font-weight="bold" text-anchor="end" textLength="3.1" lengthAdjust="spacingAndGlyphs" stroke="#000" stroke-width="0.2">2</text>
<line x1="33.2" y1="619.0" x2="35.4" y2="619.0" stroke="#000" stroke-width="0.7"/>
<text x="32.5" y="620.8" font-size="5.3" font-weight="bold" text-anchor="end" textLength="3.1" lengthAdjust="spacingAndGlyphs" stroke="#000" stroke-width="0.2">4</text>
<line x1="33.2" y1="582.2" x2="35.4" y2="582.2" stroke="#000" stroke-width="0.7"/>
<text x="32.5" y="584.0" font-size="5.3" font-weight="bold" text-anchor="end" textLength="3.1" lengthAdjust="spacingAndGlyphs" stroke="#000" stroke-width="0.2">6</text>
<line x1="42.8" y1="668.6" x2="42.8" y2="667.7" stroke="#000" stroke-width="0.8"/>
<line x1="40.9" y1="667.7" x2="44.6" y2="667.7" stroke="#000" stroke-width="0.8"/>
<rect x="39.8" y="669.0" width="5.9" height="23.5" fill="#fff" stroke="#000" stroke-width="1.05"/>
<line x1="51.7" y1="659.4" x2="51.7" y2="657.2" stroke="#fcd8d8" stroke-width="0.8"/>
<line x1="49.8" y1="657.2" x2="53.6" y2="657.2" stroke="#fcd8d8" stroke-width="0.8"/>
<rect x="48.2" y="659.4" width="6.9" height="33.1" fill="#fcd8d8"/>
<line x1="60.6" y1="651.1" x2="60.6" y2="649.7" stroke="#f99d9d" stroke-width="0.8"/>
<line x1="58.8" y1="649.7" x2="62.5" y2="649.7" stroke="#f99d9d" stroke-width="0.8"/>
<rect x="57.2" y="651.1" width="6.9" height="41.4" fill="#f99d9d"/>
<line x1="69.6" y1="652.1" x2="69.6" y2="649.9" stroke="#f23f3f" stroke-width="0.8"/>
<line x1="67.7" y1="649.9" x2="71.5" y2="649.9" stroke="#f23f3f" stroke-width="0.8"/>
<rect x="66.1" y="652.1" width="6.9" height="40.4" fill="#f23f3f"/>
<line x1="78.5" y1="651.1" x2="78.5" y2="648.8" stroke="#9e0c4f" stroke-width="0.8"/>
<line x1="76.6" y1="648.8" x2="80.5" y2="648.8" stroke="#9e0c4f" stroke-width="0.8"/>
<rect x="75.1" y="651.1" width="6.9" height="41.4" fill="#9e0c4f"/>
<line x1="60.6" y1="692.5" x2="60.6" y2="694.3" stroke="#000" stroke-width="0.7"/>
<text x="61.4" y="698.3" font-size="5.4" font-weight="bold" text-anchor="end" transform="rotate(-45 61.4 698.3)" stroke="#000" stroke-width="0.2">7</text>
<line x1="93.2" y1="668.2" x2="93.2" y2="666.8" stroke="#000" stroke-width="0.8"/>
<line x1="91.3" y1="666.8" x2="95.2" y2="666.8" stroke="#000" stroke-width="0.8"/>
<rect x="90.3" y="668.6" width="5.9" height="23.9" fill="#fff" stroke="#000" stroke-width="1.05"/>
<line x1="102.2" y1="645.6" x2="102.2" y2="644.2" stroke="#fcd8d8" stroke-width="0.8"/>
<line x1="100.3" y1="644.2" x2="104.1" y2="644.2" stroke="#fcd8d8" stroke-width="0.8"/>
<rect x="98.8" y="645.6" width="6.9" height="46.9" fill="#fcd8d8"/>
<line x1="111.1" y1="624.5" x2="111.1" y2="622.3" stroke="#f99d9d" stroke-width="0.8"/>
<line x1="109.2" y1="622.3" x2="113.0" y2="622.3" stroke="#f99d9d" stroke-width="0.8"/>
<rect x="107.7" y="624.5" width="6.9" height="68.0" fill="#f99d9d"/>
<line x1="120.1" y1="613.5" x2="120.1" y2="609.4" stroke="#f23f3f" stroke-width="0.8"/>
<line x1="118.2" y1="609.4" x2="122.0" y2="609.4" stroke="#f23f3f" stroke-width="0.8"/>
<rect x="116.6" y="613.5" width="6.9" height="79.0" fill="#f23f3f"/>
<line x1="129.0" y1="612.5" x2="129.0" y2="608.5" stroke="#9e0c4f" stroke-width="0.8"/>
<line x1="127.1" y1="608.5" x2="130.9" y2="608.5" stroke="#9e0c4f" stroke-width="0.8"/>
<rect x="125.6" y="612.5" width="6.9" height="80.0" fill="#9e0c4f"/>
<line x1="111.1" y1="692.5" x2="111.1" y2="694.3" stroke="#000" stroke-width="0.7"/>
<text x="111.9" y="698.3" font-size="5.4" font-weight="bold" text-anchor="end" transform="rotate(-45 111.9 698.3)" stroke="#000" stroke-width="0.2">14</text>
<line x1="143.9" y1="669.5" x2="143.9" y2="668.1" stroke="#000" stroke-width="0.8"/>
<line x1="142.0" y1="668.1" x2="145.8" y2="668.1" stroke="#000" stroke-width="0.8"/>
<rect x="141.0" y="669.9" width="5.9" height="22.6" fill="#fff" stroke="#000" stroke-width="1.05"/>
<line x1="152.9" y1="636.4" x2="152.9" y2="634.6" stroke="#fcd8d8" stroke-width="0.8"/>
<line x1="151.0" y1="634.6" x2="154.8" y2="634.6" stroke="#fcd8d8" stroke-width="0.8"/>
<rect x="149.4" y="636.4" width="6.9" height="56.1" fill="#fcd8d8"/>
<line x1="161.8" y1="603.4" x2="161.8" y2="602.4" stroke="#f99d9d" stroke-width="0.8"/>
<line x1="159.9" y1="602.4" x2="163.8" y2="602.4" stroke="#f99d9d" stroke-width="0.8"/>
<rect x="158.4" y="603.4" width="6.9" height="89.1" fill="#f99d9d"/>
<line x1="170.8" y1="599.7" x2="170.8" y2="598.2" stroke="#f23f3f" stroke-width="0.8"/>
<line x1="168.9" y1="598.2" x2="172.7" y2="598.2" stroke="#f23f3f" stroke-width="0.8"/>
<rect x="167.3" y="599.7" width="6.9" height="92.8" fill="#f23f3f"/>
<line x1="179.8" y1="599.7" x2="179.8" y2="595.6" stroke="#9e0c4f" stroke-width="0.8"/>
<line x1="177.8" y1="595.6" x2="181.7" y2="595.6" stroke="#9e0c4f" stroke-width="0.8"/>
<rect x="176.3" y="599.7" width="6.9" height="92.8" fill="#9e0c4f"/>
<line x1="161.8" y1="692.5" x2="161.8" y2="694.3" stroke="#000" stroke-width="0.7"/>
<text x="162.7" y="698.3" font-size="5.4" font-weight="bold" text-anchor="end" transform="rotate(-45 162.7 698.3)" stroke="#000" stroke-width="0.2">21</text>
<line x1="194.4" y1="668.2" x2="194.4" y2="666.8" stroke="#000" stroke-width="0.8"/>
<line x1="192.5" y1="666.8" x2="196.3" y2="666.8" stroke="#000" stroke-width="0.8"/>
<rect x="191.5" y="668.6" width="5.9" height="23.9" fill="#fff" stroke="#000" stroke-width="1.05"/>
<line x1="203.4" y1="648.4" x2="203.4" y2="645.6" stroke="#fcd8d8" stroke-width="0.8"/>
<line x1="201.5" y1="645.6" x2="205.3" y2="645.6" stroke="#fcd8d8" stroke-width="0.8"/>
<rect x="199.9" y="648.4" width="6.9" height="44.1" fill="#fcd8d8"/>
<line x1="212.3" y1="609.8" x2="212.3" y2="607.0" stroke="#f99d9d" stroke-width="0.8"/>
<line x1="210.4" y1="607.0" x2="214.2" y2="607.0" stroke="#f99d9d" stroke-width="0.8"/>
<rect x="208.9" y="609.8" width="6.9" height="82.7" fill="#f99d9d"/>
<line x1="221.3" y1="605.2" x2="221.3" y2="603.4" stroke="#f23f3f" stroke-width="0.8"/>
<line x1="219.4" y1="603.4" x2="223.2" y2="603.4" stroke="#f23f3f" stroke-width="0.8"/>
<rect x="217.8" y="605.2" width="6.9" height="87.3" fill="#f23f3f"/>
<line x1="230.2" y1="606.1" x2="230.2" y2="602.4" stroke="#9e0c4f" stroke-width="0.8"/>
<line x1="228.3" y1="602.4" x2="232.2" y2="602.4" stroke="#9e0c4f" stroke-width="0.8"/>
<rect x="226.8" y="606.1" width="6.9" height="86.4" fill="#9e0c4f"/>
<line x1="212.3" y1="692.5" x2="212.3" y2="694.3" stroke="#000" stroke-width="0.7"/>
<text x="213.2" y="698.3" font-size="5.4" font-weight="bold" text-anchor="end" transform="rotate(-45 213.2 698.3)" stroke="#000" stroke-width="0.2">28</text>
<line x1="34.9" y1="692.5" x2="237.7" y2="692.5" stroke="#111" stroke-width="1.15"/>
<text x="42.8" y="668.2" font-size="6.0" text-anchor="middle">****</text>
<text x="51.7" y="657.7" font-size="6.0" text-anchor="middle">***</text>
<text x="60.6" y="648.2" font-size="5.8" text-anchor="middle" stroke="#000" stroke-width="0.15">ns</text>
<text x="69.6" y="648.4" font-size="5.8" text-anchor="middle" stroke="#000" stroke-width="0.15">ns</text>
<text x="93.2" y="667.3" font-size="6.0" text-anchor="middle">****</text>
<text x="102.2" y="644.7" font-size="6.0" text-anchor="middle">****</text>
<text x="111.1" y="622.8" font-size="6.0" text-anchor="middle">****</text>
<text x="120.1" y="607.9" font-size="5.8" text-anchor="middle" stroke="#000" stroke-width="0.15">ns</text>
<text x="143.9" y="668.6" font-size="6.0" text-anchor="middle">****</text>
<text x="152.9" y="635.1" font-size="6.0" text-anchor="middle">****</text>
<text x="161.8" y="600.9" font-size="5.8" text-anchor="middle" stroke="#000" stroke-width="0.15">ns</text>
<text x="170.8" y="596.7" font-size="5.8" text-anchor="middle" stroke="#000" stroke-width="0.15">ns</text>
<text x="194.4" y="667.3" font-size="6.0" text-anchor="middle">****</text>
<text x="203.4" y="646.1" font-size="6.0" text-anchor="middle">****</text>
<text x="212.3" y="605.5" font-size="5.8" text-anchor="middle" stroke="#000" stroke-width="0.15">ns</text>
<text x="221.3" y="601.9" font-size="5.8" text-anchor="middle" stroke="#000" stroke-width="0.15">ns</text>
<text x="21.6" y="636.8" font-size="6.2" text-anchor="middle" textLength="69.0" lengthAdjust="spacingAndGlyphs" transform="rotate(-90 21.6 636.8)" stroke="#000" stroke-width="0.28">The stimulation index (SI)</text>
<text x="88.7" y="709.7" font-size="5.6" font-weight="bold" textLength="94.8" lengthAdjust="spacingAndGlyphs">Days post immunization (dpi)</text>
<text x="16.9" y="573.9" font-size="10.2" font-weight="bold" textLength="8.0" lengthAdjust="spacingAndGlyphs" stroke="#000" stroke-width="0.2">B</text>
<rect x="41.2" y="578.6" width="7.6" height="3.4" fill="#fff" stroke="#000" stroke-width="0.9"/>
<text x="53.0" y="582.0" font-size="4.7" textLength="13.5" lengthAdjust="spacingAndGlyphs">Mock</text>
<rect x="82.0" y="578.2" width="8.2" height="4.0" fill="#fcd8d8"/>
<text x="94.8" y="582.0" font-size="4.7" textLength="34.3" lengthAdjust="spacingAndGlyphs">15µg cbVLPs</text>
<rect x="138.0" y="578.2" width="8.2" height="4.0" fill="#f99d9d"/>
<text x="150.4" y="582.0" font-size="4.7" textLength="34.6" lengthAdjust="spacingAndGlyphs">30µg cbVLPs</text>
<rect x="193.5" y="578.2" width="8.2" height="4.0" fill="#f23f3f"/>
<text x="205.7" y="582.0" font-size="4.7" textLength="34.3" lengthAdjust="spacingAndGlyphs">40µg cbVLPs</text>
<rect x="40.8" y="586.2" width="8.2" height="4.0" fill="#9e0c4f"/>
<text x="53.0" y="589.6" font-size="4.6" textLength="67.7" lengthAdjust="spacingAndGlyphs">Commercial H9N2 vaccine</text>
<line x1="332.7" y1="582.2" x2="332.7" y2="693.5" stroke="#111" stroke-width="1.15"/>
<line x1="332.2" y1="693.0" x2="535.0" y2="693.0" stroke="#111" stroke-width="1.15"/>
<line x1="330.5" y1="693.0" x2="332.7" y2="693.0" stroke="#000" stroke-width="0.7"/>
<text x="329.8" y="694.8" font-size="5.3" font-weight="bold" text-anchor="end" textLength="3.1" lengthAdjust="spacingAndGlyphs" stroke="#000" stroke-width="0.2">0</text>
<line x1="330.5" y1="670.9" x2="332.7" y2="670.9" stroke="#000" stroke-width="0.7"/>
<text x="329.8" y="672.7" font-size="5.3" font-weight="bold" text-anchor="end" textLength="3.1" lengthAdjust="spacingAndGlyphs" stroke="#000" stroke-width="0.2">1</text>
<line x1="330.5" y1="648.8" x2="332.7" y2="648.8" stroke="#000" stroke-width="0.7"/>
<text x="329.8" y="650.6" font-size="5.3" font-weight="bold" text-anchor="end" textLength="3.1" lengthAdjust="spacingAndGlyphs" stroke="#000" stroke-width="0.2">2</text>
<line x1="330.5" y1="626.8" x2="332.7" y2="626.8" stroke="#000" stroke-width="0.7"/>
<text x="329.8" y="628.6" font-size="5.3" font-weight="bold" text-anchor="end" textLength="3.1" lengthAdjust="spacingAndGlyphs" stroke="#000" stroke-width="0.2">3</text>
<line x1="330.5" y1="604.7" x2="332.7" y2="604.7" stroke="#000" stroke-width="0.7"/>
<text x="329.8" y="606.5" font-size="5.3" font-weight="bold" text-anchor="end" textLength="3.1" lengthAdjust="spacingAndGlyphs" stroke="#000" stroke-width="0.2">4</text>
<line x1="330.5" y1="582.6" x2="332.7" y2="582.6" stroke="#000" stroke-width="0.7"/>
<text x="329.8" y="584.4" font-size="5.3" font-weight="bold" text-anchor="end" textLength="3.1" lengthAdjust="spacingAndGlyphs" stroke="#000" stroke-width="0.2">5</text>
<line x1="340.2" y1="665.4" x2="340.2" y2="662.5" stroke="#000" stroke-width="0.8"/>
<line x1="338.4" y1="662.5" x2="342.1" y2="662.5" stroke="#000" stroke-width="0.8"/>
<rect x="337.3" y="665.8" width="5.9" height="27.2" fill="#fff" stroke="#000" stroke-width="1.05"/>
<line x1="349.2" y1="653.3" x2="349.2" y2="652.4" stroke="#cfe0f8" stroke-width="0.8"/>
<line x1="347.3" y1="652.4" x2="351.1" y2="652.4" stroke="#cfe0f8" stroke-width="0.8"/>
<rect x="345.8" y="653.3" width="6.9" height="39.7" fill="#cfe0f8"/>
<line x1="358.1" y1="643.3" x2="358.1" y2="641.1" stroke="#86baf5" stroke-width="0.8"/>
<line x1="356.2" y1="641.1" x2="360.0" y2="641.1" stroke="#86baf5" stroke-width="0.8"/>
<rect x="354.7" y="643.3" width="6.9" height="49.7" fill="#86baf5"/>
<line x1="367.1" y1="642.2" x2="367.1" y2="641.6" stroke="#8b8bf6" stroke-width="0.8"/>
<line x1="365.2" y1="641.6" x2="369.0" y2="641.6" stroke="#8b8bf6" stroke-width="0.8"/>
<rect x="363.7" y="642.2" width="6.9" height="50.8" fill="#8b8bf6"/>
<line x1="376.1" y1="642.2" x2="376.1" y2="639.6" stroke="#0606ff" stroke-width="0.8"/>
<line x1="374.2" y1="639.6" x2="377.9" y2="639.6" stroke="#0606ff" stroke-width="0.8"/>
<rect x="372.6" y="642.2" width="6.9" height="50.8" fill="#0606ff"/>
<line x1="358.2" y1="693.0" x2="358.2" y2="694.8" stroke="#000" stroke-width="0.7"/>
<text x="359.0" y="698.8" font-size="5.4" font-weight="bold" text-anchor="end" transform="rotate(-45 359.0 698.8)" stroke="#000" stroke-width="0.2">7</text>
<line x1="391.1" y1="662.1" x2="391.1" y2="660.8" stroke="#000" stroke-width="0.8"/>
<line x1="389.2" y1="660.8" x2="392.9" y2="660.8" stroke="#000" stroke-width="0.8"/>
<rect x="388.1" y="662.5" width="5.9" height="30.5" fill="#fff" stroke="#000" stroke-width="1.05"/>
<line x1="400.0" y1="634.0" x2="400.0" y2="630.7" stroke="#cfe0f8" stroke-width="0.8"/>
<line x1="398.1" y1="630.7" x2="401.9" y2="630.7" stroke="#cfe0f8" stroke-width="0.8"/>
<rect x="396.6" y="634.0" width="6.9" height="59.0" fill="#cfe0f8"/>
<line x1="408.9" y1="610.2" x2="408.9" y2="606.9" stroke="#86baf5" stroke-width="0.8"/>
<line x1="407.1" y1="606.9" x2="410.8" y2="606.9" stroke="#86baf5" stroke-width="0.8"/>
<rect x="405.5" y="610.2" width="6.9" height="82.8" fill="#86baf5"/>
<line x1="417.9" y1="600.3" x2="417.9" y2="597.6" stroke="#8b8bf6" stroke-width="0.8"/>
<line x1="416.0" y1="597.6" x2="419.8" y2="597.6" stroke="#8b8bf6" stroke-width="0.8"/>
<rect x="414.5" y="600.3" width="6.9" height="92.7" fill="#8b8bf6"/>
<line x1="426.9" y1="600.3" x2="426.9" y2="597.4" stroke="#0606ff" stroke-width="0.8"/>
<line x1="425.0" y1="597.4" x2="428.8" y2="597.4" stroke="#0606ff" stroke-width="0.8"/>
<rect x="423.4" y="600.3" width="6.9" height="92.7" fill="#0606ff"/>
<line x1="409.0" y1="693.0" x2="409.0" y2="694.8" stroke="#000" stroke-width="0.7"/>
<text x="409.8" y="698.8" font-size="5.4" font-weight="bold" text-anchor="end" transform="rotate(-45 409.8 698.8)" stroke="#000" stroke-width="0.2">14</text>
<line x1="441.6" y1="665.4" x2="441.6" y2="663.6" stroke="#000" stroke-width="0.8"/>
<line x1="439.7" y1="663.6" x2="443.4" y2="663.6" stroke="#000" stroke-width="0.8"/>
<rect x="438.6" y="665.8" width="5.9" height="27.2" fill="#fff" stroke="#000" stroke-width="1.05"/>
<line x1="450.5" y1="631.2" x2="450.5" y2="630.1" stroke="#cfe0f8" stroke-width="0.8"/>
<line x1="448.6" y1="630.1" x2="452.4" y2="630.1" stroke="#cfe0f8" stroke-width="0.8"/>
<rect x="447.1" y="631.2" width="6.9" height="61.8" fill="#cfe0f8"/>
<line x1="459.4" y1="612.4" x2="459.4" y2="610.6" stroke="#86baf5" stroke-width="0.8"/>
<line x1="457.6" y1="610.6" x2="461.3" y2="610.6" stroke="#86baf5" stroke-width="0.8"/>
<rect x="456.0" y="612.4" width="6.9" height="80.6" fill="#86baf5"/>
<line x1="468.4" y1="593.2" x2="468.4" y2="591.4" stroke="#8b8bf6" stroke-width="0.8"/>
<line x1="466.5" y1="591.4" x2="470.3" y2="591.4" stroke="#8b8bf6" stroke-width="0.8"/>
<rect x="465.0" y="593.2" width="6.9" height="99.8" fill="#8b8bf6"/>
<line x1="477.4" y1="593.6" x2="477.4" y2="589.2" stroke="#0606ff" stroke-width="0.8"/>
<line x1="475.5" y1="589.2" x2="479.2" y2="589.2" stroke="#0606ff" stroke-width="0.8"/>
<rect x="473.9" y="593.6" width="6.9" height="99.4" fill="#0606ff"/>
<line x1="459.5" y1="693.0" x2="459.5" y2="694.8" stroke="#000" stroke-width="0.7"/>
<text x="460.3" y="698.8" font-size="5.4" font-weight="bold" text-anchor="end" transform="rotate(-45 460.3 698.8)" stroke="#000" stroke-width="0.2">21</text>
<line x1="491.8" y1="666.5" x2="491.8" y2="664.3" stroke="#000" stroke-width="0.8"/>
<line x1="489.9" y1="664.3" x2="493.7" y2="664.3" stroke="#000" stroke-width="0.8"/>
<rect x="488.9" y="666.9" width="5.9" height="26.1" fill="#fff" stroke="#000" stroke-width="1.05"/>
<line x1="500.8" y1="638.9" x2="500.8" y2="635.6" stroke="#cfe0f8" stroke-width="0.8"/>
<line x1="498.9" y1="635.6" x2="502.7" y2="635.6" stroke="#cfe0f8" stroke-width="0.8"/>
<rect x="497.3" y="638.9" width="6.9" height="54.1" fill="#cfe0f8"/>
<line x1="509.7" y1="617.5" x2="509.7" y2="615.7" stroke="#86baf5" stroke-width="0.8"/>
<line x1="507.8" y1="615.7" x2="511.6" y2="615.7" stroke="#86baf5" stroke-width="0.8"/>
<rect x="506.3" y="617.5" width="6.9" height="75.5" fill="#86baf5"/>
<line x1="518.7" y1="600.9" x2="518.7" y2="599.4" stroke="#8b8bf6" stroke-width="0.8"/>
<line x1="516.8" y1="599.4" x2="520.6" y2="599.4" stroke="#8b8bf6" stroke-width="0.8"/>
<rect x="515.2" y="600.9" width="6.9" height="92.1" fill="#8b8bf6"/>
<line x1="527.6" y1="600.3" x2="527.6" y2="596.5" stroke="#0606ff" stroke-width="0.8"/>
<line x1="525.8" y1="596.5" x2="529.5" y2="596.5" stroke="#0606ff" stroke-width="0.8"/>
<rect x="524.2" y="600.3" width="6.9" height="92.7" fill="#0606ff"/>
<line x1="509.8" y1="693.0" x2="509.8" y2="694.8" stroke="#000" stroke-width="0.7"/>
<text x="510.6" y="698.8" font-size="5.4" font-weight="bold" text-anchor="end" transform="rotate(-45 510.6 698.8)" stroke="#000" stroke-width="0.2">28</text>
<line x1="332.2" y1="693.0" x2="535.0" y2="693.0" stroke="#111" stroke-width="1.15"/>
<text x="340.2" y="663.0" font-size="6.0" text-anchor="middle">****</text>
<text x="349.2" y="652.9" font-size="6.0" text-anchor="middle">****</text>
<text x="358.1" y="639.6" font-size="5.8" text-anchor="middle" stroke="#000" stroke-width="0.15">ns</text>
<text x="367.1" y="640.1" font-size="5.8" text-anchor="middle" stroke="#000" stroke-width="0.15">ns</text>
<text x="391.1" y="661.3" font-size="6.0" text-anchor="middle">****</text>
<text x="400.0" y="631.2" font-size="6.0" text-anchor="middle">****</text>
<text x="408.9" y="607.4" font-size="6.0" text-anchor="middle">***</text>
<text x="417.9" y="596.1" font-size="5.8" text-anchor="middle" stroke="#000" stroke-width="0.15">ns</text>
<text x="441.6" y="664.1" font-size="6.0" text-anchor="middle">****</text>
<text x="450.5" y="630.6" font-size="6.0" text-anchor="middle">****</text>
<text x="459.4" y="611.1" font-size="6.0" text-anchor="middle">****</text>
<text x="468.4" y="589.9" font-size="5.8" text-anchor="middle" stroke="#000" stroke-width="0.15">ns</text>
<text x="491.8" y="664.8" font-size="6.0" text-anchor="middle">****</text>
<text x="500.8" y="636.1" font-size="6.0" text-anchor="middle">****</text>
<text x="509.7" y="616.2" font-size="6.0" text-anchor="middle">****</text>
<text x="518.7" y="597.9" font-size="5.8" text-anchor="middle" stroke="#000" stroke-width="0.15">ns</text>
<text x="319.5" y="634.0" font-size="6.2" text-anchor="middle" textLength="74.7" lengthAdjust="spacingAndGlyphs" transform="rotate(-90 319.5 634.0)" stroke="#000" stroke-width="0.28">The stimulation index (SI)</text>
<text x="386.4" y="710.4" font-size="5.6" font-weight="bold" textLength="94.4" lengthAdjust="spacingAndGlyphs">Days post immunization (dpi)</text>
<text x="314.5" y="573.9" font-size="10.2" font-weight="bold" textLength="8.0" lengthAdjust="spacingAndGlyphs" stroke="#000" stroke-width="0.2">C</text>
<rect x="338.1" y="579.3" width="7.6" height="3.4" fill="#fff" stroke="#000" stroke-width="0.9"/>
<text x="350.6" y="582.7" font-size="4.7" textLength="13.4" lengthAdjust="spacingAndGlyphs">Mock</text>
<rect x="379.5" y="578.9" width="8.2" height="4.0" fill="#cfe0f8"/>
<text x="392.4" y="582.7" font-size="4.7" textLength="34.3" lengthAdjust="spacingAndGlyphs">15µg cbVLPs</text>
<rect x="435.5" y="578.9" width="8.2" height="4.0" fill="#86baf5"/>
<text x="448.1" y="582.7" font-size="4.7" textLength="34.5" lengthAdjust="spacingAndGlyphs">30µg cbVLPs</text>
<rect x="490.8" y="578.9" width="8.2" height="4.0" fill="#8b8bf6"/>
<text x="503.4" y="582.7" font-size="4.7" textLength="34.6" lengthAdjust="spacingAndGlyphs">40µg cbVLPs</text>
<rect x="337.7" y="586.9" width="8.2" height="4.0" fill="#0606ff"/>
<text x="350.6" y="590.3" font-size="4.6" textLength="64.6" lengthAdjust="spacingAndGlyphs">Inactivated H3N2 vaccine</text>
<line x1="38.4" y1="882.7" x2="38.4" y2="993.8" stroke="#111" stroke-width="1.15"/>
<line x1="37.9" y1="993.3" x2="240.0" y2="993.3" stroke="#111" stroke-width="1.15"/>
<line x1="36.2" y1="993.3" x2="38.4" y2="993.3" stroke="#000" stroke-width="0.7"/>
<text x="35.5" y="995.1" font-size="5.3" font-weight="bold" text-anchor="end" textLength="3.1" lengthAdjust="spacingAndGlyphs" stroke="#000" stroke-width="0.2">0</text>
<line x1="36.2" y1="971.3" x2="38.4" y2="971.3" stroke="#000" stroke-width="0.7"/>
<text x="35.5" y="973.1" font-size="5.3" font-weight="bold" text-anchor="end" textLength="9.3" lengthAdjust="spacingAndGlyphs" stroke="#000" stroke-width="0.2">200</text>
<line x1="36.2" y1="949.2" x2="38.4" y2="949.2" stroke="#000" stroke-width="0.7"/>
<text x="35.5" y="951.0" font-size="5.3" font-weight="bold" text-anchor="end" textLength="9.3" lengthAdjust="spacingAndGlyphs" stroke="#000" stroke-width="0.2">400</text>
<line x1="36.2" y1="927.2" x2="38.4" y2="927.2" stroke="#000" stroke-width="0.7"/>
<text x="35.5" y="929.0" font-size="5.3" font-weight="bold" text-anchor="end" textLength="9.3" lengthAdjust="spacingAndGlyphs" stroke="#000" stroke-width="0.2">600</text>
<line x1="36.2" y1="905.1" x2="38.4" y2="905.1" stroke="#000" stroke-width="0.7"/>
<text x="35.5" y="906.9" font-size="5.3" font-weight="bold" text-anchor="end" textLength="9.3" lengthAdjust="spacingAndGlyphs" stroke="#000" stroke-width="0.2">800</text>
<line x1="36.2" y1="883.1" x2="38.4" y2="883.1" stroke="#000" stroke-width="0.7"/>
<text x="35.5" y="884.9" font-size="5.3" font-weight="bold" text-anchor="end" textLength="12.4" lengthAdjust="spacingAndGlyphs" stroke="#000" stroke-width="0.2">1000</text>
<line x1="72.2" y1="989.4" x2="72.2" y2="983.4" stroke="#f23f3f" stroke-width="0.8"/>
<line x1="70.3" y1="983.4" x2="74.1" y2="983.4" stroke="#f23f3f" stroke-width="0.8"/>
<rect x="68.9" y="989.4" width="6.6" height="3.9" fill="#f23f3f"/>
<line x1="81.3" y1="989.4" x2="81.3" y2="983.4" stroke="#9e0c4f" stroke-width="0.8"/>
<line x1="79.4" y1="983.4" x2="83.2" y2="983.4" stroke="#9e0c4f" stroke-width="0.8"/>
<rect x="78.0" y="989.4" width="6.6" height="3.9" fill="#9e0c4f"/>
<line x1="63.1" y1="993.3" x2="63.1" y2="995.1" stroke="#000" stroke-width="0.7"/>
<text x="63.9" y="999.1" font-size="5.4" font-weight="bold" text-anchor="end" transform="rotate(-45 63.9 999.1)" stroke="#000" stroke-width="0.2">7</text>
<line x1="104.9" y1="989.4" x2="104.9" y2="983.4" stroke="#fcd8d8" stroke-width="0.8"/>
<line x1="103.0" y1="983.4" x2="106.8" y2="983.4" stroke="#fcd8d8" stroke-width="0.8"/>
<rect x="101.6" y="989.4" width="6.6" height="3.9" fill="#fcd8d8"/>
<line x1="114.0" y1="986.1" x2="114.0" y2="979.5" stroke="#f99d9d" stroke-width="0.8"/>
<line x1="112.1" y1="979.5" x2="115.9" y2="979.5" stroke="#f99d9d" stroke-width="0.8"/>
<rect x="110.7" y="986.1" width="6.6" height="7.2" fill="#f99d9d"/>
<rect x="119.8" y="982.3" width="6.6" height="11.0" fill="#f23f3f"/>
<line x1="132.2" y1="986.1" x2="132.2" y2="979.5" stroke="#9e0c4f" stroke-width="0.8"/>
<line x1="130.3" y1="979.5" x2="134.1" y2="979.5" stroke="#9e0c4f" stroke-width="0.8"/>
<rect x="128.9" y="986.1" width="6.6" height="7.2" fill="#9e0c4f"/>
<line x1="114.0" y1="993.3" x2="114.0" y2="995.1" stroke="#000" stroke-width="0.7"/>
<text x="114.8" y="999.1" font-size="5.4" font-weight="bold" text-anchor="end" transform="rotate(-45 114.8 999.1)" stroke="#000" stroke-width="0.2">14</text>
<line x1="155.4" y1="978.4" x2="155.4" y2="972.4" stroke="#fcd8d8" stroke-width="0.8"/>
<line x1="153.5" y1="972.4" x2="157.3" y2="972.4" stroke="#fcd8d8" stroke-width="0.8"/>
<rect x="152.1" y="978.4" width="6.6" height="14.9" fill="#fcd8d8"/>
<line x1="164.5" y1="975.1" x2="164.5" y2="968.5" stroke="#f99d9d" stroke-width="0.8"/>
<line x1="162.6" y1="968.5" x2="166.4" y2="968.5" stroke="#f99d9d" stroke-width="0.8"/>
<rect x="161.2" y="975.1" width="6.6" height="18.2" fill="#f99d9d"/>
<rect x="170.3" y="949.2" width="6.6" height="44.1" fill="#f23f3f"/>
<line x1="182.7" y1="964.1" x2="182.7" y2="951.4" stroke="#9e0c4f" stroke-width="0.8"/>
<line x1="180.8" y1="951.4" x2="184.6" y2="951.4" stroke="#9e0c4f" stroke-width="0.8"/>
<rect x="179.4" y="964.1" width="6.6" height="29.2" fill="#9e0c4f"/>
<line x1="164.5" y1="993.3" x2="164.5" y2="995.1" stroke="#000" stroke-width="0.7"/>
<text x="165.3" y="999.1" font-size="5.4" font-weight="bold" text-anchor="end" transform="rotate(-45 165.3 999.1)" stroke="#000" stroke-width="0.2">21</text>
<line x1="205.7" y1="964.1" x2="205.7" y2="951.4" stroke="#fcd8d8" stroke-width="0.8"/>
<line x1="203.8" y1="951.4" x2="207.6" y2="951.4" stroke="#fcd8d8" stroke-width="0.8"/>
<rect x="202.4" y="964.1" width="6.6" height="29.2" fill="#fcd8d8"/>
<line x1="214.8" y1="956.4" x2="214.8" y2="943.7" stroke="#f99d9d" stroke-width="0.8"/>
<line x1="212.9" y1="943.7" x2="216.7" y2="943.7" stroke="#f99d9d" stroke-width="0.8"/>
<rect x="211.5" y="956.4" width="6.6" height="36.9" fill="#f99d9d"/>
<line x1="223.9" y1="919.5" x2="223.9" y2="894.1" stroke="#f23f3f" stroke-width="0.8"/>
<line x1="222.0" y1="894.1" x2="225.8" y2="894.1" stroke="#f23f3f" stroke-width="0.8"/>
<rect x="220.6" y="919.5" width="6.6" height="73.8" fill="#f23f3f"/>
<line x1="233.0" y1="934.3" x2="233.0" y2="909.0" stroke="#9e0c4f" stroke-width="0.8"/>
<line x1="231.1" y1="909.0" x2="234.9" y2="909.0" stroke="#9e0c4f" stroke-width="0.8"/>
<rect x="229.7" y="934.3" width="6.6" height="59.0" fill="#9e0c4f"/>
<line x1="214.8" y1="993.3" x2="214.8" y2="995.1" stroke="#000" stroke-width="0.7"/>
<text x="215.6" y="999.1" font-size="5.4" font-weight="bold" text-anchor="end" transform="rotate(-45 215.6 999.1)" stroke="#000" stroke-width="0.2">28</text>
<line x1="37.9" y1="993.3" x2="240.0" y2="993.3" stroke="#111" stroke-width="1.15"/>
<text x="72.2" y="981.9" font-size="5.8" text-anchor="middle" stroke="#000" stroke-width="0.15">ns</text>
<text x="104.9" y="981.9" font-size="5.8" text-anchor="middle" stroke="#000" stroke-width="0.15">ns</text>
<text x="114.0" y="978.0" font-size="5.8" text-anchor="middle" stroke="#000" stroke-width="0.15">ns</text>
<text x="123.1" y="980.8" font-size="5.8" text-anchor="middle" stroke="#000" stroke-width="0.15">ns</text>
<text x="155.4" y="970.9" font-size="5.8" text-anchor="middle" stroke="#000" stroke-width="0.15">ns</text>
<text x="164.5" y="967.0" font-size="5.8" text-anchor="middle" stroke="#000" stroke-width="0.15">ns</text>
<text x="173.6" y="947.7" font-size="5.8" text-anchor="middle" stroke="#000" stroke-width="0.15">ns</text>
<text x="205.7" y="951.9" font-size="6.0" text-anchor="middle">**</text>
<text x="214.8" y="944.2" font-size="6.0" text-anchor="middle">*</text>
<text x="223.9" y="892.6" font-size="5.8" text-anchor="middle" stroke="#000" stroke-width="0.15">ns</text>
<text x="22.4" y="937.7" font-size="6.2" text-anchor="middle" textLength="60.0" lengthAdjust="spacingAndGlyphs" transform="rotate(-90 22.4 937.7)" stroke="#000" stroke-width="0.28">The VN endpoint titers</text>
<text x="91.9" y="1010.7" font-size="5.6" font-weight="bold" textLength="94.3" lengthAdjust="spacingAndGlyphs">Days post immunization (dpi)</text>
<text x="17.2" y="874.9" font-size="10.2" font-weight="bold" textLength="8.0" lengthAdjust="spacingAndGlyphs" stroke="#000" stroke-width="0.2">F</text>
<rect x="44.0" y="879.6" width="7.6" height="3.4" fill="#fff" stroke="#000" stroke-width="0.9"/>
<text x="56.0" y="883.0" font-size="4.7" textLength="13.5" lengthAdjust="spacingAndGlyphs">Mock</text>
<rect x="85.4" y="879.2" width="8.2" height="4.0" fill="#fcd8d8"/>
<text x="97.8" y="883.0" font-size="4.7" textLength="34.3" lengthAdjust="spacingAndGlyphs">15µg cbVLPs</text>
<rect x="140.9" y="879.2" width="8.2" height="4.0" fill="#f99d9d"/>
<text x="153.6" y="883.0" font-size="4.7" textLength="34.2" lengthAdjust="spacingAndGlyphs">30µg cbVLPs</text>
<rect x="196.2" y="879.2" width="8.2" height="4.0" fill="#f23f3f"/>
<text x="208.4" y="883.0" font-size="4.7" textLength="34.3" lengthAdjust="spacingAndGlyphs">40µg cbVLPs</text>
<rect x="43.6" y="887.4" width="8.2" height="4.0" fill="#9e0c4f"/>
<text x="56.0" y="890.8" font-size="4.6" textLength="67.9" lengthAdjust="spacingAndGlyphs">Commercial H9N2 vaccine</text>
<line x1="335.4" y1="882.7" x2="335.4" y2="993.8" stroke="#111" stroke-width="1.15"/>
<line x1="334.9" y1="993.3" x2="538.0" y2="993.3" stroke="#111" stroke-width="1.15"/>
<line x1="333.2" y1="993.3" x2="335.4" y2="993.3" stroke="#000" stroke-width="0.7"/>
<text x="332.5" y="995.1" font-size="5.3" font-weight="bold" text-anchor="end" textLength="3.1" lengthAdjust="spacingAndGlyphs" stroke="#000" stroke-width="0.2">0</text>
<line x1="333.2" y1="971.3" x2="335.4" y2="971.3" stroke="#000" stroke-width="0.7"/>
<text x="332.5" y="973.1" font-size="5.3" font-weight="bold" text-anchor="end" textLength="9.3" lengthAdjust="spacingAndGlyphs" stroke="#000" stroke-width="0.2">200</text>
<line x1="333.2" y1="949.2" x2="335.4" y2="949.2" stroke="#000" stroke-width="0.7"/>
<text x="332.5" y="951.0" font-size="5.3" font-weight="bold" text-anchor="end" textLength="9.3" lengthAdjust="spacingAndGlyphs" stroke="#000" stroke-width="0.2">400</text>
<line x1="333.2" y1="927.2" x2="335.4" y2="927.2" stroke="#000" stroke-width="0.7"/>
<text x="332.5" y="929.0" font-size="5.3" font-weight="bold" text-anchor="end" textLength="9.3" lengthAdjust="spacingAndGlyphs" stroke="#000" stroke-width="0.2">600</text>
<line x1="333.2" y1="905.1" x2="335.4" y2="905.1" stroke="#000" stroke-width="0.7"/>
<text x="332.5" y="906.9" font-size="5.3" font-weight="bold" text-anchor="end" textLength="9.3" lengthAdjust="spacingAndGlyphs" stroke="#000" stroke-width="0.2">800</text>
<line x1="333.2" y1="883.1" x2="335.4" y2="883.1" stroke="#000" stroke-width="0.7"/>
<text x="332.5" y="884.9" font-size="5.3" font-weight="bold" text-anchor="end" textLength="12.4" lengthAdjust="spacingAndGlyphs" stroke="#000" stroke-width="0.2">1000</text>
<line x1="369.7" y1="989.4" x2="369.7" y2="983.4" stroke="#8b8bf6" stroke-width="0.8"/>
<line x1="367.8" y1="983.4" x2="371.6" y2="983.4" stroke="#8b8bf6" stroke-width="0.8"/>
<rect x="366.4" y="989.4" width="6.6" height="3.9" fill="#8b8bf6"/>
<line x1="360.6" y1="993.3" x2="360.6" y2="995.1" stroke="#000" stroke-width="0.7"/>
<text x="361.4" y="999.1" font-size="5.4" font-weight="bold" text-anchor="end" transform="rotate(-45 361.4 999.1)" stroke="#000" stroke-width="0.2">7</text>
<line x1="402.5" y1="989.4" x2="402.5" y2="983.4" stroke="#cfe0f8" stroke-width="0.8"/>
<line x1="400.6" y1="983.4" x2="404.4" y2="983.4" stroke="#cfe0f8" stroke-width="0.8"/>
<rect x="399.2" y="989.4" width="6.6" height="3.9" fill="#cfe0f8"/>
<line x1="411.6" y1="989.4" x2="411.6" y2="983.4" stroke="#86baf5" stroke-width="0.8"/>
<line x1="409.7" y1="983.4" x2="413.5" y2="983.4" stroke="#86baf5" stroke-width="0.8"/>
<rect x="408.3" y="989.4" width="6.6" height="3.9" fill="#86baf5"/>
<rect x="417.4" y="971.3" width="6.6" height="22.0" fill="#8b8bf6"/>
<line x1="429.8" y1="978.4" x2="429.8" y2="972.4" stroke="#0606ff" stroke-width="0.8"/>
<line x1="427.9" y1="972.4" x2="431.7" y2="972.4" stroke="#0606ff" stroke-width="0.8"/>
<rect x="426.5" y="978.4" width="6.6" height="14.9" fill="#0606ff"/>
<line x1="411.6" y1="993.3" x2="411.6" y2="995.1" stroke="#000" stroke-width="0.7"/>
<text x="412.4" y="999.1" font-size="5.4" font-weight="bold" text-anchor="end" transform="rotate(-45 412.4 999.1)" stroke="#000" stroke-width="0.2">14</text>
<rect x="449.7" y="982.3" width="6.6" height="11.0" fill="#cfe0f8"/>
<line x1="462.1" y1="978.4" x2="462.1" y2="972.4" stroke="#86baf5" stroke-width="0.8"/>
<line x1="460.2" y1="972.4" x2="464.0" y2="972.4" stroke="#86baf5" stroke-width="0.8"/>
<rect x="458.8" y="978.4" width="6.6" height="14.9" fill="#86baf5"/>
<line x1="471.2" y1="956.4" x2="471.2" y2="944.3" stroke="#8b8bf6" stroke-width="0.8"/>
<line x1="469.3" y1="944.3" x2="473.1" y2="944.3" stroke="#8b8bf6" stroke-width="0.8"/>
<rect x="467.9" y="956.4" width="6.6" height="36.9" fill="#8b8bf6"/>
<line x1="480.3" y1="967.4" x2="480.3" y2="950.3" stroke="#0606ff" stroke-width="0.8"/>
<line x1="478.4" y1="950.3" x2="482.2" y2="950.3" stroke="#0606ff" stroke-width="0.8"/>
<rect x="477.0" y="967.4" width="6.6" height="25.9" fill="#0606ff"/>
<line x1="462.1" y1="993.3" x2="462.1" y2="995.1" stroke="#000" stroke-width="0.7"/>
<text x="462.9" y="999.1" font-size="5.4" font-weight="bold" text-anchor="end" transform="rotate(-45 462.9 999.1)" stroke="#000" stroke-width="0.2">21</text>
<line x1="503.5" y1="975.1" x2="503.5" y2="968.0" stroke="#cfe0f8" stroke-width="0.8"/>
<line x1="501.6" y1="968.0" x2="505.4" y2="968.0" stroke="#cfe0f8" stroke-width="0.8"/>
<rect x="500.2" y="975.1" width="6.6" height="18.2" fill="#cfe0f8"/>
<line x1="512.6" y1="964.1" x2="512.6" y2="951.4" stroke="#86baf5" stroke-width="0.8"/>
<line x1="510.7" y1="951.4" x2="514.5" y2="951.4" stroke="#86baf5" stroke-width="0.8"/>
<rect x="509.3" y="964.1" width="6.6" height="29.2" fill="#86baf5"/>
<line x1="521.7" y1="919.7" x2="521.7" y2="894.1" stroke="#8b8bf6" stroke-width="0.8"/>
<line x1="519.8" y1="894.1" x2="523.6" y2="894.1" stroke="#8b8bf6" stroke-width="0.8"/>
<rect x="518.4" y="919.7" width="6.6" height="73.6" fill="#8b8bf6"/>
<line x1="530.8" y1="941.7" x2="530.8" y2="907.9" stroke="#0606ff" stroke-width="0.8"/>
<line x1="528.9" y1="907.9" x2="532.7" y2="907.9" stroke="#0606ff" stroke-width="0.8"/>
<rect x="527.5" y="941.7" width="6.6" height="51.6" fill="#0606ff"/>
<line x1="512.6" y1="993.3" x2="512.6" y2="995.1" stroke="#000" stroke-width="0.7"/>
<text x="513.4" y="999.1" font-size="5.4" font-weight="bold" text-anchor="end" transform="rotate(-45 513.4 999.1)" stroke="#000" stroke-width="0.2">28</text>
<line x1="334.9" y1="993.3" x2="538.0" y2="993.3" stroke="#111" stroke-width="1.15"/>
<text x="369.7" y="981.9" font-size="5.8" text-anchor="middle" stroke="#000" stroke-width="0.15">ns</text>
<text x="402.5" y="981.9" font-size="5.8" text-anchor="middle" stroke="#000" stroke-width="0.15">ns</text>
<text x="411.6" y="981.9" font-size="5.8" text-anchor="middle" stroke="#000" stroke-width="0.15">ns</text>
<text x="420.7" y="969.8" font-size="5.8" text-anchor="middle" stroke="#000" stroke-width="0.15">ns</text>
<text x="453.0" y="980.8" font-size="5.8" text-anchor="middle" stroke="#000" stroke-width="0.15">ns</text>
<text x="462.1" y="970.9" font-size="5.8" text-anchor="middle" stroke="#000" stroke-width="0.15">ns</text>
<text x="471.2" y="942.8" font-size="5.8" text-anchor="middle" stroke="#000" stroke-width="0.15">ns</text>
<text x="503.5" y="968.5" font-size="6.0" text-anchor="middle">**</text>
<text x="512.6" y="951.9" font-size="6.0" text-anchor="middle">*</text>
<text x="521.7" y="892.6" font-size="5.8" text-anchor="middle" stroke="#000" stroke-width="0.15">ns</text>
<text x="319.9" y="937.7" font-size="6.2" text-anchor="middle" textLength="60.0" lengthAdjust="spacingAndGlyphs" transform="rotate(-90 319.9 937.7)" stroke="#000" stroke-width="0.28">The VN endpoint titers</text>
<text x="389.4" y="1010.7" font-size="5.6" font-weight="bold" textLength="94.4" lengthAdjust="spacingAndGlyphs">Days post immunization (dpi)</text>
<text x="314.7" y="874.9" font-size="10.2" font-weight="bold" textLength="8.0" lengthAdjust="spacingAndGlyphs" stroke="#000" stroke-width="0.2">G</text>
<rect x="341.5" y="879.6" width="7.6" height="3.4" fill="#fff" stroke="#000" stroke-width="0.9"/>
<text x="353.5" y="883.0" font-size="4.7" textLength="13.5" lengthAdjust="spacingAndGlyphs">Mock</text>
<rect x="382.2" y="879.2" width="8.2" height="4.0" fill="#cfe0f8"/>
<text x="395.1" y="883.0" font-size="4.7" textLength="34.3" lengthAdjust="spacingAndGlyphs">15µg cbVLPs</text>
<rect x="438.2" y="879.2" width="8.2" height="4.0" fill="#86baf5"/>
<text x="450.6" y="883.0" font-size="4.7" textLength="34.4" lengthAdjust="spacingAndGlyphs">30µg cbVLPs</text>
<rect x="493.5" y="879.2" width="8.2" height="4.0" fill="#8b8bf6"/>
<text x="506.0" y="883.0" font-size="4.7" textLength="34.7" lengthAdjust="spacingAndGlyphs">40µg cbVLPs</text>
<rect x="341.1" y="887.4" width="8.2" height="4.0" fill="#0606ff"/>
<text x="353.5" y="890.8" font-size="4.6" textLength="64.5" lengthAdjust="spacingAndGlyphs">Inactivated H3N2 vaccine</text>
</g>
<g id="lines" filter="url(#blurL)">
<line x1="35.9" y1="738.0" x2="35.9" y2="848.7" stroke="#222" stroke-width="1.15"/>
<line x1="35.4" y1="848.2" x2="240.1" y2="848.2" stroke="#222" stroke-width="1.15"/>
<line x1="33.7" y1="848.2" x2="35.9" y2="848.2" stroke="#000" stroke-width="0.7"/>
<text x="33.0" y="850.0" font-size="5.3" font-weight="bold" text-anchor="end" textLength="3.1" lengthAdjust="spacingAndGlyphs" stroke="#000" stroke-width="0.2">0</text>
<line x1="33.7" y1="826.2" x2="35.9" y2="826.2" stroke="#000" stroke-width="0.7"/>
<text x="33.0" y="828.0" font-size="5.3" font-weight="bold" text-anchor="end" textLength="3.1" lengthAdjust="spacingAndGlyphs" stroke="#000" stroke-width="0.2">2</text>
<line x1="33.7" y1="804.2" x2="35.9" y2="804.2" stroke="#000" stroke-width="0.7"/>
<text x="33.0" y="806.0" font-size="5.3" font-weight="bold" text-anchor="end" textLength="3.1" lengthAdjust="spacingAndGlyphs" stroke="#000" stroke-width="0.2">4</text>
<line x1="33.7" y1="782.3" x2="35.9" y2="782.3" stroke="#000" stroke-width="0.7"/>
<text x="33.0" y="784.1" font-size="5.3" font-weight="bold" text-anchor="end" textLength="3.1" lengthAdjust="spacingAndGlyphs" stroke="#000" stroke-width="0.2">6</text>
<line x1="33.7" y1="760.3" x2="35.9" y2="760.3" stroke="#000" stroke-width="0.7"/>
<text x="33.0" y="762.1" font-size="5.3" font-weight="bold" text-anchor="end" textLength="3.1" lengthAdjust="spacingAndGlyphs" stroke="#000" stroke-width="0.2">8</text>
<line x1="33.7" y1="738.3" x2="35.9" y2="738.3" stroke="#000" stroke-width="0.7"/>
<text x="33.0" y="740.1" font-size="5.3" font-weight="bold" text-anchor="end" textLength="6.2" lengthAdjust="spacingAndGlyphs" stroke="#000" stroke-width="0.2">10</text>
<line x1="35.9" y1="848.2" x2="35.9" y2="850.0" stroke="#000" stroke-width="0.7"/>
<text x="36.8" y="854.0" font-size="5.4" font-weight="bold" text-anchor="end" transform="rotate(-45 36.8 854.0)" stroke="#000" stroke-width="0.2">0</text>
<line x1="77.0" y1="848.2" x2="77.0" y2="850.0" stroke="#000" stroke-width="0.7"/>
<text x="77.9" y="854.0" font-size="5.4" font-weight="bold" text-anchor="end" transform="rotate(-45 77.9 854.0)" stroke="#000" stroke-width="0.2">7</text>
<line x1="117.7" y1="848.2" x2="117.7" y2="850.0" stroke="#000" stroke-width="0.7"/>
<text x="118.6" y="854.0" font-size="5.4" font-weight="bold" text-anchor="end" transform="rotate(-45 118.6 854.0)" stroke="#000" stroke-width="0.2">14</text>
<line x1="158.4" y1="848.2" x2="158.4" y2="850.0" stroke="#000" stroke-width="0.7"/>
<text x="159.3" y="854.0" font-size="5.4" font-weight="bold" text-anchor="end" transform="rotate(-45 159.3 854.0)" stroke="#000" stroke-width="0.2">21</text>
<line x1="198.8" y1="848.2" x2="198.8" y2="850.0" stroke="#000" stroke-width="0.7"/>
<text x="199.7" y="854.0" font-size="5.4" font-weight="bold" text-anchor="end" transform="rotate(-45 199.7 854.0)" stroke="#000" stroke-width="0.2">28</text>
<line x1="239.5" y1="848.2" x2="239.5" y2="850.0" stroke="#000" stroke-width="0.7"/>
<text x="240.4" y="854.0" font-size="5.4" font-weight="bold" text-anchor="end" transform="rotate(-45 240.4 854.0)" stroke="#000" stroke-width="0.2">35</text>
<line x1="35.9" y1="826.2" x2="239.5" y2="826.2" stroke="#000" stroke-width="0.75" stroke-dasharray="1.5 1.3"/>
<line x1="35.9" y1="838.3" x2="35.9" y2="827.3" stroke="#fbcfcf" stroke-width="0.5"/>
<line x1="34.2" y1="827.3" x2="37.6" y2="827.3" stroke="#fbcfcf" stroke-width="0.55"/>
<line x1="34.2" y1="838.3" x2="37.6" y2="838.3" stroke="#fbcfcf" stroke-width="0.55"/>
<line x1="77.0" y1="809.2" x2="77.0" y2="803.7" stroke="#fbcfcf" stroke-width="0.5"/>
<line x1="75.3" y1="803.7" x2="78.7" y2="803.7" stroke="#fbcfcf" stroke-width="0.55"/>
<line x1="75.3" y1="809.2" x2="78.7" y2="809.2" stroke="#fbcfcf" stroke-width="0.55"/>
<line x1="117.7" y1="803.7" x2="117.7" y2="787.2" stroke="#fbcfcf" stroke-width="0.5"/>
<line x1="116.0" y1="787.2" x2="119.4" y2="787.2" stroke="#fbcfcf" stroke-width="0.55"/>
<line x1="116.0" y1="803.7" x2="119.4" y2="803.7" stroke="#fbcfcf" stroke-width="0.55"/>
<line x1="158.4" y1="793.8" x2="158.4" y2="782.8" stroke="#fbcfcf" stroke-width="0.5"/>
<line x1="156.7" y1="782.8" x2="160.1" y2="782.8" stroke="#fbcfcf" stroke-width="0.55"/>
<line x1="156.7" y1="793.8" x2="160.1" y2="793.8" stroke="#fbcfcf" stroke-width="0.55"/>
<line x1="198.8" y1="800.4" x2="198.8" y2="793.8" stroke="#fbcfcf" stroke-width="0.5"/>
<line x1="197.1" y1="793.8" x2="200.5" y2="793.8" stroke="#fbcfcf" stroke-width="0.55"/>
<line x1="197.1" y1="800.4" x2="200.5" y2="800.4" stroke="#fbcfcf" stroke-width="0.55"/>
<line x1="239.5" y1="795.4" x2="239.5" y2="791.1" stroke="#fbcfcf" stroke-width="0.5"/>
<line x1="237.8" y1="791.1" x2="241.2" y2="791.1" stroke="#fbcfcf" stroke-width="0.55"/>
<line x1="237.8" y1="795.4" x2="241.2" y2="795.4" stroke="#fbcfcf" stroke-width="0.55"/>
<polyline points="35.9,832.8 77.0,806.4 117.7,795.4 158.4,788.3 198.8,797.1 239.5,793.2" fill="none" stroke="#fbcfcf" stroke-width="0.6"/>
<circle cx="35.9" cy="832.8" r="1.10" fill="#d6b4b4" stroke="#c7a5a5" stroke-width="0.45"/>
<circle cx="77.0" cy="806.4" r="1.10" fill="#d6b4b4" stroke="#c7a5a5" stroke-width="0.45"/>
<circle cx="117.7" cy="795.4" r="1.10" fill="#d6b4b4" stroke="#c7a5a5" stroke-width="0.45"/>
<circle cx="158.4" cy="788.3" r="1.10" fill="#d6b4b4" stroke="#c7a5a5" stroke-width="0.45"/>
<circle cx="198.8" cy="797.1" r="1.10" fill="#d6b4b4" stroke="#c7a5a5" stroke-width="0.45"/>
<circle cx="239.5" cy="793.2" r="1.10" fill="#d6b4b4" stroke="#c7a5a5" stroke-width="0.45"/>
<line x1="35.9" y1="836.1" x2="35.9" y2="827.3" stroke="#f28e8e" stroke-width="0.5"/>
<line x1="34.2" y1="827.3" x2="37.6" y2="827.3" stroke="#f28e8e" stroke-width="0.55"/>
<line x1="34.2" y1="836.1" x2="37.6" y2="836.1" stroke="#f28e8e" stroke-width="0.55"/>
<line x1="77.0" y1="803.7" x2="77.0" y2="790.5" stroke="#f28e8e" stroke-width="0.5"/>
<line x1="75.3" y1="790.5" x2="78.7" y2="790.5" stroke="#f28e8e" stroke-width="0.55"/>
<line x1="75.3" y1="803.7" x2="78.7" y2="803.7" stroke="#f28e8e" stroke-width="0.55"/>
<line x1="117.7" y1="794.3" x2="117.7" y2="774.6" stroke="#f28e8e" stroke-width="0.5"/>
<line x1="116.0" y1="774.6" x2="119.4" y2="774.6" stroke="#f28e8e" stroke-width="0.55"/>
<line x1="116.0" y1="794.3" x2="119.4" y2="794.3" stroke="#f28e8e" stroke-width="0.55"/>
<line x1="158.4" y1="783.4" x2="158.4" y2="770.2" stroke="#f28e8e" stroke-width="0.5"/>
<line x1="156.7" y1="770.2" x2="160.1" y2="770.2" stroke="#f28e8e" stroke-width="0.55"/>
<line x1="156.7" y1="783.4" x2="160.1" y2="783.4" stroke="#f28e8e" stroke-width="0.55"/>
<line x1="198.8" y1="785.6" x2="198.8" y2="779.0" stroke="#f28e8e" stroke-width="0.5"/>
<line x1="197.1" y1="779.0" x2="200.5" y2="779.0" stroke="#f28e8e" stroke-width="0.55"/>
<line x1="197.1" y1="785.6" x2="200.5" y2="785.6" stroke="#f28e8e" stroke-width="0.55"/>
<line x1="239.5" y1="793.2" x2="239.5" y2="782.3" stroke="#f28e8e" stroke-width="0.5"/>
<line x1="237.8" y1="782.3" x2="241.2" y2="782.3" stroke="#f28e8e" stroke-width="0.55"/>
<line x1="237.8" y1="793.2" x2="241.2" y2="793.2" stroke="#f28e8e" stroke-width="0.55"/>
<polyline points="35.9,831.7 77.0,797.1 117.7,784.5 158.4,776.8 198.8,782.3 239.5,787.8" fill="none" stroke="#f28e8e" stroke-width="0.6"/>
<circle cx="35.9" cy="831.7" r="1.10" fill="#c77" stroke="#c77" stroke-width="0.45"/>
<circle cx="77.0" cy="797.1" r="1.10" fill="#c77" stroke="#c77" stroke-width="0.45"/>
<circle cx="117.7" cy="784.5" r="1.10" fill="#c77" stroke="#c77" stroke-width="0.45"/>
<circle cx="158.4" cy="776.8" r="1.10" fill="#c77" stroke="#c77" stroke-width="0.45"/>
<circle cx="198.8" cy="782.3" r="1.10" fill="#c77" stroke="#c77" stroke-width="0.45"/>
<circle cx="239.5" cy="787.8" r="1.10" fill="#c77" stroke="#c77" stroke-width="0.45"/>
<line x1="35.9" y1="840.0" x2="35.9" y2="822.4" stroke="#ef2323" stroke-width="0.5"/>
<line x1="34.2" y1="822.4" x2="37.6" y2="822.4" stroke="#ef2323" stroke-width="0.55"/>
<line x1="34.2" y1="840.0" x2="37.6" y2="840.0" stroke="#ef2323" stroke-width="0.55"/>
<line x1="77.0" y1="783.9" x2="77.0" y2="780.6" stroke="#ef2323" stroke-width="0.5"/>
<line x1="75.3" y1="780.6" x2="78.7" y2="780.6" stroke="#ef2323" stroke-width="0.55"/>
<line x1="75.3" y1="783.9" x2="78.7" y2="783.9" stroke="#ef2323" stroke-width="0.55"/>
<line x1="117.7" y1="778.4" x2="117.7" y2="767.4" stroke="#ef2323" stroke-width="0.5"/>
<line x1="116.0" y1="767.4" x2="119.4" y2="767.4" stroke="#ef2323" stroke-width="0.55"/>
<line x1="116.0" y1="778.4" x2="119.4" y2="778.4" stroke="#ef2323" stroke-width="0.55"/>
<line x1="158.4" y1="770.2" x2="158.4" y2="765.8" stroke="#ef2323" stroke-width="0.5"/>
<line x1="156.7" y1="765.8" x2="160.1" y2="765.8" stroke="#ef2323" stroke-width="0.55"/>
<line x1="156.7" y1="770.2" x2="160.1" y2="770.2" stroke="#ef2323" stroke-width="0.55"/>
<line x1="198.8" y1="785.6" x2="198.8" y2="772.4" stroke="#ef2323" stroke-width="0.5"/>
<line x1="197.1" y1="772.4" x2="200.5" y2="772.4" stroke="#ef2323" stroke-width="0.55"/>
<line x1="197.1" y1="785.6" x2="200.5" y2="785.6" stroke="#ef2323" stroke-width="0.55"/>
<line x1="239.5" y1="788.3" x2="239.5" y2="777.3" stroke="#ef2323" stroke-width="0.5"/>
<line x1="237.8" y1="777.3" x2="241.2" y2="777.3" stroke="#ef2323" stroke-width="0.55"/>
<line x1="237.8" y1="788.3" x2="241.2" y2="788.3" stroke="#ef2323" stroke-width="0.55"/>
<polyline points="35.9,831.2 77.0,782.3 117.7,772.9 158.4,768.0 198.8,779.0 239.5,782.8" fill="none" stroke="#ef2323" stroke-width="0.75"/>
<circle cx="35.9" cy="831.2" r="1.10" fill="#c81818" stroke="#c81818" stroke-width="0.45"/>
<circle cx="77.0" cy="782.3" r="1.10" fill="#c81818" stroke="#c81818" stroke-width="0.45"/>
<circle cx="117.7" cy="772.9" r="1.10" fill="#c81818" stroke="#c81818" stroke-width="0.45"/>
<circle cx="158.4" cy="768.0" r="1.10" fill="#c81818" stroke="#c81818" stroke-width="0.45"/>
<circle cx="198.8" cy="779.0" r="1.10" fill="#c81818" stroke="#c81818" stroke-width="0.45"/>
<circle cx="239.5" cy="782.8" r="1.10" fill="#c81818" stroke="#c81818" stroke-width="0.45"/>
<line x1="35.9" y1="832.8" x2="35.9" y2="826.2" stroke="#a10f50" stroke-width="0.5"/>
<line x1="34.2" y1="826.2" x2="37.6" y2="826.2" stroke="#a10f50" stroke-width="0.55"/>
<line x1="34.2" y1="832.8" x2="37.6" y2="832.8" stroke="#a10f50" stroke-width="0.55"/>
<line x1="77.0" y1="783.9" x2="77.0" y2="777.3" stroke="#a10f50" stroke-width="0.5"/>
<line x1="75.3" y1="777.3" x2="78.7" y2="777.3" stroke="#a10f50" stroke-width="0.55"/>
<line x1="75.3" y1="783.9" x2="78.7" y2="783.9" stroke="#a10f50" stroke-width="0.55"/>
<line x1="117.7" y1="772.9" x2="117.7" y2="766.3" stroke="#a10f50" stroke-width="0.5"/>
<line x1="116.0" y1="766.3" x2="119.4" y2="766.3" stroke="#a10f50" stroke-width="0.55"/>
<line x1="116.0" y1="772.9" x2="119.4" y2="772.9" stroke="#a10f50" stroke-width="0.55"/>
<line x1="158.4" y1="767.4" x2="158.4" y2="760.8" stroke="#a10f50" stroke-width="0.5"/>
<line x1="156.7" y1="760.8" x2="160.1" y2="760.8" stroke="#a10f50" stroke-width="0.55"/>
<line x1="156.7" y1="767.4" x2="160.1" y2="767.4" stroke="#a10f50" stroke-width="0.55"/>
<line x1="198.8" y1="782.3" x2="198.8" y2="775.7" stroke="#a10f50" stroke-width="0.5"/>
<line x1="197.1" y1="775.7" x2="200.5" y2="775.7" stroke="#a10f50" stroke-width="0.55"/>
<line x1="197.1" y1="782.3" x2="200.5" y2="782.3" stroke="#a10f50" stroke-width="0.55"/>
<line x1="239.5" y1="794.9" x2="239.5" y2="777.3" stroke="#a10f50" stroke-width="0.5"/>
<line x1="237.8" y1="777.3" x2="241.2" y2="777.3" stroke="#a10f50" stroke-width="0.55"/>
<line x1="237.8" y1="794.9" x2="241.2" y2="794.9" stroke="#a10f50" stroke-width="0.55"/>
<polyline points="35.9,829.5 77.0,780.6 117.7,769.6 158.4,764.1 198.8,779.0 239.5,786.1" fill="none" stroke="#a10f50" stroke-width="0.75"/>
<polygon points="35.90,828.02 36.27,829.01 37.33,829.05 36.50,829.71 36.78,830.73 35.90,830.15 35.02,830.73 35.30,829.71 34.47,829.05 35.53,829.01" fill="#a10f50"/>
<polygon points="77.00,779.11 77.37,780.10 78.43,780.15 77.60,780.81 77.88,781.83 77.00,781.24 76.12,781.83 76.40,780.81 75.57,780.15 76.63,780.10" fill="#a10f50"/>
<polygon points="117.70,768.12 118.07,769.11 119.13,769.16 118.30,769.82 118.58,770.84 117.70,770.25 116.82,770.84 117.10,769.82 116.27,769.16 117.33,769.11" fill="#a10f50"/>
<polygon points="158.40,762.63 158.77,763.62 159.83,763.66 159.00,764.32 159.28,765.34 158.40,764.76 157.52,765.34 157.80,764.32 156.97,763.66 158.03,763.62" fill="#a10f50"/>
<polygon points="198.80,777.46 199.17,778.45 200.23,778.50 199.40,779.16 199.68,780.18 198.80,779.59 197.92,780.18 198.20,779.16 197.37,778.50 198.43,778.45" fill="#a10f50"/>
<polygon points="239.50,784.61 239.87,785.60 240.93,785.64 240.10,786.30 240.38,787.32 239.50,786.74 238.62,787.32 238.90,786.30 238.07,785.64 239.13,785.60" fill="#a10f50"/>
<line x1="35.9" y1="835.0" x2="35.9" y2="828.4" stroke="#000" stroke-width="0.5"/>
<line x1="34.2" y1="828.4" x2="37.6" y2="828.4" stroke="#000" stroke-width="0.55"/>
<line x1="34.2" y1="835.0" x2="37.6" y2="835.0" stroke="#000" stroke-width="0.55"/>
<line x1="117.7" y1="844.4" x2="117.7" y2="837.8" stroke="#000" stroke-width="0.5"/>
<line x1="116.0" y1="837.8" x2="119.4" y2="837.8" stroke="#000" stroke-width="0.55"/>
<line x1="116.0" y1="844.4" x2="119.4" y2="844.4" stroke="#000" stroke-width="0.55"/>
<line x1="158.4" y1="848.2" x2="158.4" y2="841.6" stroke="#000" stroke-width="0.5"/>
<line x1="156.7" y1="841.6" x2="160.1" y2="841.6" stroke="#000" stroke-width="0.55"/>
<line x1="156.7" y1="848.2" x2="160.1" y2="848.2" stroke="#000" stroke-width="0.55"/>
<line x1="198.8" y1="850.7" x2="198.8" y2="843.0" stroke="#000" stroke-width="0.5"/>
<line x1="197.1" y1="843.0" x2="200.5" y2="843.0" stroke="#000" stroke-width="0.55"/>
<line x1="197.1" y1="850.7" x2="200.5" y2="850.7" stroke="#000" stroke-width="0.55"/>
<line x1="239.5" y1="850.7" x2="239.5" y2="843.0" stroke="#000" stroke-width="0.5"/>
<line x1="237.8" y1="843.0" x2="241.2" y2="843.0" stroke="#000" stroke-width="0.55"/>
<line x1="237.8" y1="850.7" x2="241.2" y2="850.7" stroke="#000" stroke-width="0.55"/>
<polyline points="35.9,831.7 77.0,837.2 117.7,841.1 158.4,844.9 198.8,846.9 239.5,846.9" fill="none" stroke="#000" stroke-width="0.75"/>
<circle cx="35.9" cy="831.7" r="1.05" fill="#000"/>
<circle cx="77.0" cy="837.2" r="1.05" fill="#000"/>
<circle cx="117.7" cy="841.1" r="1.05" fill="#000"/>
<circle cx="158.4" cy="844.9" r="1.05" fill="#000"/>
<circle cx="198.8" cy="846.9" r="1.05" fill="#000"/>
<circle cx="239.5" cy="846.9" r="1.05" fill="#000"/>
<line x1="42.7" y1="725.3" x2="48.7" y2="725.3" stroke="#000" stroke-width="0.6"/>
<circle cx="45.7" cy="725.3" r="1.05" fill="#000"/>
<text x="53.7" y="726.9" font-size="4.6" textLength="13.3" lengthAdjust="spacingAndGlyphs">Mock</text>
<line x1="82.7" y1="725.3" x2="88.7" y2="725.3" stroke="#fbcfcf" stroke-width="0.6"/>
<circle cx="85.7" cy="725.3" r="1.10" fill="#d6b4b4" stroke="#c7a5a5" stroke-width="0.45"/>
<text x="94.4" y="726.9" font-size="4.6" textLength="35.9" lengthAdjust="spacingAndGlyphs">15µg cbVLPs</text>
<line x1="139.8" y1="725.3" x2="145.8" y2="725.3" stroke="#f28e8e" stroke-width="0.6"/>
<circle cx="142.8" cy="725.3" r="1.10" fill="#c77" stroke="#c77" stroke-width="0.45"/>
<text x="150.8" y="726.9" font-size="4.6" textLength="36.2" lengthAdjust="spacingAndGlyphs">30µg cbVLPs</text>
<line x1="194.7" y1="725.3" x2="200.7" y2="725.3" stroke="#ef2323" stroke-width="0.6"/>
<circle cx="197.7" cy="725.3" r="1.10" fill="#c81818" stroke="#c81818" stroke-width="0.45"/>
<text x="206.4" y="726.9" font-size="4.6" textLength="34.2" lengthAdjust="spacingAndGlyphs">40µg cbVLPs</text>
<line x1="42.7" y1="734.2" x2="48.7" y2="734.2" stroke="#a10f50" stroke-width="0.6"/>
<polygon points="45.70,732.70 46.07,733.69 47.13,733.74 46.30,734.39 46.58,735.41 45.70,734.83 44.82,735.41 45.10,734.39 44.27,733.74 45.33,733.69" fill="#a10f50"/>
<text x="53.7" y="735.9" font-size="4.6" textLength="67.4" lengthAdjust="spacingAndGlyphs">Commercial H9N2 vaccine</text>
<text x="77.0" y="766.1" font-size="6.2" text-anchor="middle">****</text>
<text x="77.0" y="771.7" font-size="6.2" text-anchor="middle">***</text>
<text x="77.0" y="775.8" font-size="6.0" text-anchor="middle" stroke="#000" stroke-width="0.15">ns</text>
<text x="117.7" y="754.9" font-size="6.2" text-anchor="middle">****</text>
<text x="117.7" y="760.5" font-size="6.2" text-anchor="middle">**</text>
<text x="117.7" y="764.6" font-size="6.0" text-anchor="middle" stroke="#000" stroke-width="0.15">ns</text>
<text x="158.4" y="749.2" font-size="6.2" text-anchor="middle">****</text>
<text x="158.4" y="754.8" font-size="6.2" text-anchor="middle">**</text>
<text x="158.4" y="758.9" font-size="6.0" text-anchor="middle" stroke="#000" stroke-width="0.15">ns</text>
<text x="198.8" y="760.8" font-size="6.2" text-anchor="middle">****</text>
<text x="198.8" y="764.9" font-size="6.0" text-anchor="middle" stroke="#000" stroke-width="0.15">ns</text>
<text x="198.8" y="770.5" font-size="6.0" text-anchor="middle" stroke="#000" stroke-width="0.15">ns</text>
<text x="239.5" y="766.0" font-size="6.0" text-anchor="middle" stroke="#000" stroke-width="0.15">ns</text>
<text x="239.5" y="771.6" font-size="6.0" text-anchor="middle" stroke="#000" stroke-width="0.15">ns</text>
<text x="239.5" y="777.2" font-size="6.0" text-anchor="middle" stroke="#000" stroke-width="0.15">ns</text>
<text x="22.2" y="793.5" font-size="6.2" text-anchor="middle" textLength="75.5" lengthAdjust="spacingAndGlyphs" transform="rotate(-90 22.2 793.5)" stroke="#000" stroke-width="0.28">The HI antibody titers (nlog<tspan font-size="4.2" dy="0.9">2</tspan><tspan dy="-0.9">)</tspan></text>
<text x="91.0" y="865.8" font-size="5.6" font-weight="bold" textLength="93.6" lengthAdjust="spacingAndGlyphs">Days post immunization (dpi)</text>
<text x="18.1" y="730.1" font-size="10.2" font-weight="bold" textLength="8.0" lengthAdjust="spacingAndGlyphs" stroke="#000" stroke-width="0.2">D</text>
<line x1="333.4" y1="738.0" x2="333.4" y2="848.7" stroke="#222" stroke-width="1.15"/>
<line x1="332.9" y1="848.2" x2="536.5" y2="848.2" stroke="#222" stroke-width="1.15"/>
<line x1="331.2" y1="848.2" x2="333.4" y2="848.2" stroke="#000" stroke-width="0.7"/>
<text x="330.5" y="850.0" font-size="5.3" font-weight="bold" text-anchor="end" textLength="3.1" lengthAdjust="spacingAndGlyphs" stroke="#000" stroke-width="0.2">0</text>
<line x1="331.2" y1="826.2" x2="333.4" y2="826.2" stroke="#000" stroke-width="0.7"/>
<text x="330.5" y="828.0" font-size="5.3" font-weight="bold" text-anchor="end" textLength="3.1" lengthAdjust="spacingAndGlyphs" stroke="#000" stroke-width="0.2">2</text>
<line x1="331.2" y1="804.2" x2="333.4" y2="804.2" stroke="#000" stroke-width="0.7"/>
<text x="330.5" y="806.0" font-size="5.3" font-weight="bold" text-anchor="end" textLength="3.1" lengthAdjust="spacingAndGlyphs" stroke="#000" stroke-width="0.2">4</text>
<line x1="331.2" y1="782.3" x2="333.4" y2="782.3" stroke="#000" stroke-width="0.7"/>
<text x="330.5" y="784.1" font-size="5.3" font-weight="bold" text-anchor="end" textLength="3.1" lengthAdjust="spacingAndGlyphs" stroke="#000" stroke-width="0.2">6</text>
<line x1="331.2" y1="760.3" x2="333.4" y2="760.3" stroke="#000" stroke-width="0.7"/>
<text x="330.5" y="762.1" font-size="5.3" font-weight="bold" text-anchor="end" textLength="3.1" lengthAdjust="spacingAndGlyphs" stroke="#000" stroke-width="0.2">8</text>
<line x1="331.2" y1="738.3" x2="333.4" y2="738.3" stroke="#000" stroke-width="0.7"/>
<text x="330.5" y="740.1" font-size="5.3" font-weight="bold" text-anchor="end" textLength="6.2" lengthAdjust="spacingAndGlyphs" stroke="#000" stroke-width="0.2">10</text>
<line x1="333.4" y1="848.2" x2="333.4" y2="850.0" stroke="#000" stroke-width="0.7"/>
<text x="334.3" y="854.0" font-size="5.4" font-weight="bold" text-anchor="end" transform="rotate(-45 334.3 854.0)" stroke="#000" stroke-width="0.2">0</text>
<line x1="374.1" y1="848.2" x2="374.1" y2="850.0" stroke="#000" stroke-width="0.7"/>
<text x="375.0" y="854.0" font-size="5.4" font-weight="bold" text-anchor="end" transform="rotate(-45 375.0 854.0)" stroke="#000" stroke-width="0.2">7</text>
<line x1="414.5" y1="848.2" x2="414.5" y2="850.0" stroke="#000" stroke-width="0.7"/>
<text x="415.4" y="854.0" font-size="5.4" font-weight="bold" text-anchor="end" transform="rotate(-45 415.4 854.0)" stroke="#000" stroke-width="0.2">14</text>
<line x1="455.0" y1="848.2" x2="455.0" y2="850.0" stroke="#000" stroke-width="0.7"/>
<text x="455.9" y="854.0" font-size="5.4" font-weight="bold" text-anchor="end" transform="rotate(-45 455.9 854.0)" stroke="#000" stroke-width="0.2">21</text>
<line x1="495.2" y1="848.2" x2="495.2" y2="850.0" stroke="#000" stroke-width="0.7"/>
<text x="496.1" y="854.0" font-size="5.4" font-weight="bold" text-anchor="end" transform="rotate(-45 496.1 854.0)" stroke="#000" stroke-width="0.2">28</text>
<line x1="535.9" y1="848.2" x2="535.9" y2="850.0" stroke="#000" stroke-width="0.7"/>
<text x="536.8" y="854.0" font-size="5.4" font-weight="bold" text-anchor="end" transform="rotate(-45 536.8 854.0)" stroke="#000" stroke-width="0.2">35</text>
<line x1="333.4" y1="826.2" x2="535.9" y2="826.2" stroke="#000" stroke-width="0.75" stroke-dasharray="1.5 1.3"/>
<line x1="333.4" y1="838.9" x2="333.4" y2="827.9" stroke="#c6dcf7" stroke-width="0.5"/>
<line x1="331.7" y1="827.9" x2="335.1" y2="827.9" stroke="#c6dcf7" stroke-width="0.55"/>
<line x1="331.7" y1="838.9" x2="335.1" y2="838.9" stroke="#c6dcf7" stroke-width="0.55"/>
<line x1="374.1" y1="814.7" x2="374.1" y2="809.2" stroke="#c6dcf7" stroke-width="0.5"/>
<line x1="372.4" y1="809.2" x2="375.8" y2="809.2" stroke="#c6dcf7" stroke-width="0.55"/>
<line x1="372.4" y1="814.7" x2="375.8" y2="814.7" stroke="#c6dcf7" stroke-width="0.55"/>
<line x1="414.5" y1="804.2" x2="414.5" y2="797.6" stroke="#c6dcf7" stroke-width="0.5"/>
<line x1="412.8" y1="797.6" x2="416.2" y2="797.6" stroke="#c6dcf7" stroke-width="0.55"/>
<line x1="412.8" y1="804.2" x2="416.2" y2="804.2" stroke="#c6dcf7" stroke-width="0.55"/>
<line x1="455.0" y1="794.9" x2="455.0" y2="788.3" stroke="#c6dcf7" stroke-width="0.5"/>
<line x1="453.3" y1="788.3" x2="456.7" y2="788.3" stroke="#c6dcf7" stroke-width="0.55"/>
<line x1="453.3" y1="794.9" x2="456.7" y2="794.9" stroke="#c6dcf7" stroke-width="0.55"/>
<line x1="495.2" y1="799.3" x2="495.2" y2="794.9" stroke="#c6dcf7" stroke-width="0.5"/>
<line x1="493.5" y1="794.9" x2="496.9" y2="794.9" stroke="#c6dcf7" stroke-width="0.55"/>
<line x1="493.5" y1="799.3" x2="496.9" y2="799.3" stroke="#c6dcf7" stroke-width="0.55"/>
<line x1="535.9" y1="803.1" x2="535.9" y2="798.7" stroke="#c6dcf7" stroke-width="0.5"/>
<line x1="534.2" y1="798.7" x2="537.6" y2="798.7" stroke="#c6dcf7" stroke-width="0.55"/>
<line x1="534.2" y1="803.1" x2="537.6" y2="803.1" stroke="#c6dcf7" stroke-width="0.55"/>
<polyline points="333.4,833.4 374.1,811.9 414.5,800.9 455.0,791.6 495.2,797.1 535.9,800.9" fill="none" stroke="#c6dcf7" stroke-width="0.6"/>
<circle cx="333.4" cy="833.4" r="1.10" fill="#b4c8e2" stroke="#9fb6d4" stroke-width="0.45"/>
<circle cx="374.1" cy="811.9" r="1.10" fill="#b4c8e2" stroke="#9fb6d4" stroke-width="0.45"/>
<circle cx="414.5" cy="800.9" r="1.10" fill="#b4c8e2" stroke="#9fb6d4" stroke-width="0.45"/>
<circle cx="455.0" cy="791.6" r="1.10" fill="#b4c8e2" stroke="#9fb6d4" stroke-width="0.45"/>
<circle cx="495.2" cy="797.1" r="1.10" fill="#b4c8e2" stroke="#9fb6d4" stroke-width="0.45"/>
<circle cx="535.9" cy="800.9" r="1.10" fill="#b4c8e2" stroke="#9fb6d4" stroke-width="0.45"/>
<line x1="333.4" y1="838.3" x2="333.4" y2="827.3" stroke="#7db2ee" stroke-width="0.5"/>
<line x1="331.7" y1="827.3" x2="335.1" y2="827.3" stroke="#7db2ee" stroke-width="0.55"/>
<line x1="331.7" y1="838.3" x2="335.1" y2="838.3" stroke="#7db2ee" stroke-width="0.55"/>
<line x1="374.1" y1="806.8" x2="374.1" y2="802.4" stroke="#7db2ee" stroke-width="0.5"/>
<line x1="372.4" y1="802.4" x2="375.8" y2="802.4" stroke="#7db2ee" stroke-width="0.55"/>
<line x1="372.4" y1="806.8" x2="375.8" y2="806.8" stroke="#7db2ee" stroke-width="0.55"/>
<line x1="414.5" y1="793.8" x2="414.5" y2="778.4" stroke="#7db2ee" stroke-width="0.5"/>
<line x1="412.8" y1="778.4" x2="416.2" y2="778.4" stroke="#7db2ee" stroke-width="0.55"/>
<line x1="412.8" y1="793.8" x2="416.2" y2="793.8" stroke="#7db2ee" stroke-width="0.55"/>
<line x1="455.0" y1="783.9" x2="455.0" y2="777.3" stroke="#7db2ee" stroke-width="0.5"/>
<line x1="453.3" y1="777.3" x2="456.7" y2="777.3" stroke="#7db2ee" stroke-width="0.55"/>
<line x1="453.3" y1="783.9" x2="456.7" y2="783.9" stroke="#7db2ee" stroke-width="0.55"/>
<line x1="495.2" y1="791.4" x2="495.2" y2="784.8" stroke="#7db2ee" stroke-width="0.5"/>
<line x1="493.5" y1="784.8" x2="496.9" y2="784.8" stroke="#7db2ee" stroke-width="0.55"/>
<line x1="493.5" y1="791.4" x2="496.9" y2="791.4" stroke="#7db2ee" stroke-width="0.55"/>
<line x1="535.9" y1="794.9" x2="535.9" y2="788.3" stroke="#7db2ee" stroke-width="0.5"/>
<line x1="534.2" y1="788.3" x2="537.6" y2="788.3" stroke="#7db2ee" stroke-width="0.55"/>
<line x1="534.2" y1="794.9" x2="537.6" y2="794.9" stroke="#7db2ee" stroke-width="0.55"/>
<polyline points="333.4,832.8 374.1,804.6 414.5,786.1 455.0,780.6 495.2,788.1 535.9,791.6" fill="none" stroke="#7db2ee" stroke-width="0.6"/>
<circle cx="333.4" cy="832.8" r="1.10" fill="#5f92c8" stroke="#5f92c8" stroke-width="0.45"/>
<circle cx="374.1" cy="804.6" r="1.10" fill="#5f92c8" stroke="#5f92c8" stroke-width="0.45"/>
<circle cx="414.5" cy="786.1" r="1.10" fill="#5f92c8" stroke="#5f92c8" stroke-width="0.45"/>
<circle cx="455.0" cy="780.6" r="1.10" fill="#5f92c8" stroke="#5f92c8" stroke-width="0.45"/>
<circle cx="495.2" cy="788.1" r="1.10" fill="#5f92c8" stroke="#5f92c8" stroke-width="0.45"/>
<circle cx="535.9" cy="791.6" r="1.10" fill="#5f92c8" stroke="#5f92c8" stroke-width="0.45"/>
<line x1="333.4" y1="833.9" x2="333.4" y2="827.3" stroke="#8282f0" stroke-width="0.5"/>
<line x1="331.7" y1="827.3" x2="335.1" y2="827.3" stroke="#8282f0" stroke-width="0.55"/>
<line x1="331.7" y1="833.9" x2="335.1" y2="833.9" stroke="#8282f0" stroke-width="0.55"/>
<line x1="374.1" y1="798.7" x2="374.1" y2="792.2" stroke="#8282f0" stroke-width="0.5"/>
<line x1="372.4" y1="792.2" x2="375.8" y2="792.2" stroke="#8282f0" stroke-width="0.55"/>
<line x1="372.4" y1="798.7" x2="375.8" y2="798.7" stroke="#8282f0" stroke-width="0.55"/>
<line x1="414.5" y1="784.5" x2="414.5" y2="769.1" stroke="#8282f0" stroke-width="0.5"/>
<line x1="412.8" y1="769.1" x2="416.2" y2="769.1" stroke="#8282f0" stroke-width="0.55"/>
<line x1="412.8" y1="784.5" x2="416.2" y2="784.5" stroke="#8282f0" stroke-width="0.55"/>
<line x1="455.0" y1="766.9" x2="455.0" y2="761.4" stroke="#8282f0" stroke-width="0.5"/>
<line x1="453.3" y1="761.4" x2="456.7" y2="761.4" stroke="#8282f0" stroke-width="0.55"/>
<line x1="453.3" y1="766.9" x2="456.7" y2="766.9" stroke="#8282f0" stroke-width="0.55"/>
<line x1="495.2" y1="786.7" x2="495.2" y2="766.9" stroke="#8282f0" stroke-width="0.5"/>
<line x1="493.5" y1="766.9" x2="496.9" y2="766.9" stroke="#8282f0" stroke-width="0.55"/>
<line x1="493.5" y1="786.7" x2="496.9" y2="786.7" stroke="#8282f0" stroke-width="0.55"/>
<line x1="535.9" y1="791.6" x2="535.9" y2="769.6" stroke="#8282f0" stroke-width="0.5"/>
<line x1="534.2" y1="769.6" x2="537.6" y2="769.6" stroke="#8282f0" stroke-width="0.55"/>
<line x1="534.2" y1="791.6" x2="537.6" y2="791.6" stroke="#8282f0" stroke-width="0.55"/>
<polyline points="333.4,830.6 374.1,795.4 414.5,776.8 455.0,764.1 495.2,776.8 535.9,780.6" fill="none" stroke="#8282f0" stroke-width="0.75"/>
<circle cx="333.4" cy="830.6" r="1.10" fill="#5a5ac8" stroke="#5a5ac8" stroke-width="0.45"/>
<circle cx="374.1" cy="795.4" r="1.10" fill="#5a5ac8" stroke="#5a5ac8" stroke-width="0.45"/>
<circle cx="414.5" cy="776.8" r="1.10" fill="#5a5ac8" stroke="#5a5ac8" stroke-width="0.45"/>
<circle cx="455.0" cy="764.1" r="1.10" fill="#5a5ac8" stroke="#5a5ac8" stroke-width="0.45"/>
<circle cx="495.2" cy="776.8" r="1.10" fill="#5a5ac8" stroke="#5a5ac8" stroke-width="0.45"/>
<circle cx="535.9" cy="780.6" r="1.10" fill="#5a5ac8" stroke="#5a5ac8" stroke-width="0.45"/>
<line x1="333.4" y1="833.4" x2="333.4" y2="826.8" stroke="#1212ff" stroke-width="0.5"/>
<line x1="331.7" y1="826.8" x2="335.1" y2="826.8" stroke="#1212ff" stroke-width="0.55"/>
<line x1="331.7" y1="833.4" x2="335.1" y2="833.4" stroke="#1212ff" stroke-width="0.55"/>
<line x1="374.1" y1="794.9" x2="374.1" y2="788.3" stroke="#1212ff" stroke-width="0.5"/>
<line x1="372.4" y1="788.3" x2="375.8" y2="788.3" stroke="#1212ff" stroke-width="0.55"/>
<line x1="372.4" y1="794.9" x2="375.8" y2="794.9" stroke="#1212ff" stroke-width="0.55"/>
<line x1="414.5" y1="780.6" x2="414.5" y2="769.6" stroke="#1212ff" stroke-width="0.5"/>
<line x1="412.8" y1="769.6" x2="416.2" y2="769.6" stroke="#1212ff" stroke-width="0.55"/>
<line x1="412.8" y1="780.6" x2="416.2" y2="780.6" stroke="#1212ff" stroke-width="0.55"/>
<line x1="455.0" y1="771.3" x2="455.0" y2="764.7" stroke="#1212ff" stroke-width="0.5"/>
<line x1="453.3" y1="764.7" x2="456.7" y2="764.7" stroke="#1212ff" stroke-width="0.55"/>
<line x1="453.3" y1="771.3" x2="456.7" y2="771.3" stroke="#1212ff" stroke-width="0.55"/>
<line x1="495.2" y1="782.3" x2="495.2" y2="775.7" stroke="#1212ff" stroke-width="0.5"/>
<line x1="493.5" y1="775.7" x2="496.9" y2="775.7" stroke="#1212ff" stroke-width="0.55"/>
<line x1="493.5" y1="782.3" x2="496.9" y2="782.3" stroke="#1212ff" stroke-width="0.55"/>
<line x1="535.9" y1="791.6" x2="535.9" y2="769.6" stroke="#1212ff" stroke-width="0.5"/>
<line x1="534.2" y1="769.6" x2="537.6" y2="769.6" stroke="#1212ff" stroke-width="0.55"/>
<line x1="534.2" y1="791.6" x2="537.6" y2="791.6" stroke="#1212ff" stroke-width="0.55"/>
<polyline points="333.4,830.1 374.1,791.6 414.5,775.1 455.0,768.0 495.2,779.0 535.9,780.6" fill="none" stroke="#1212ff" stroke-width="0.75"/>
<polygon points="333.40,828.57 333.77,829.56 334.83,829.60 334.00,830.26 334.28,831.28 333.40,830.70 332.52,831.28 332.80,830.26 331.97,829.60 333.03,829.56" fill="#1212ff"/>
<polygon points="374.10,790.10 374.47,791.09 375.53,791.14 374.70,791.80 374.98,792.82 374.10,792.23 373.22,792.82 373.50,791.80 372.67,791.14 373.73,791.09" fill="#1212ff"/>
<polygon points="414.50,773.62 414.87,774.61 415.93,774.65 415.10,775.31 415.38,776.33 414.50,775.75 413.62,776.33 413.90,775.31 413.07,774.65 414.13,774.61" fill="#1212ff"/>
<polygon points="455.00,766.47 455.37,767.46 456.43,767.51 455.60,768.17 455.88,769.19 455.00,768.60 454.12,769.19 454.40,768.17 453.57,767.51 454.63,767.46" fill="#1212ff"/>
<polygon points="495.20,777.46 495.57,778.45 496.63,778.50 495.80,779.16 496.08,780.18 495.20,779.59 494.32,780.18 494.60,779.16 493.77,778.50 494.83,778.45" fill="#1212ff"/>
<polygon points="535.90,779.11 536.27,780.10 537.33,780.15 536.50,780.81 536.78,781.83 535.90,781.24 535.02,781.83 535.30,780.81 534.47,780.15 535.53,780.10" fill="#1212ff"/>
<line x1="333.4" y1="835.0" x2="333.4" y2="828.4" stroke="#000" stroke-width="0.5"/>
<line x1="331.7" y1="828.4" x2="335.1" y2="828.4" stroke="#000" stroke-width="0.55"/>
<line x1="331.7" y1="835.0" x2="335.1" y2="835.0" stroke="#000" stroke-width="0.55"/>
<line x1="414.5" y1="844.4" x2="414.5" y2="837.8" stroke="#000" stroke-width="0.5"/>
<line x1="412.8" y1="837.8" x2="416.2" y2="837.8" stroke="#000" stroke-width="0.55"/>
<line x1="412.8" y1="844.4" x2="416.2" y2="844.4" stroke="#000" stroke-width="0.55"/>
<line x1="455.0" y1="848.2" x2="455.0" y2="841.6" stroke="#000" stroke-width="0.5"/>
<line x1="453.3" y1="841.6" x2="456.7" y2="841.6" stroke="#000" stroke-width="0.55"/>
<line x1="453.3" y1="848.2" x2="456.7" y2="848.2" stroke="#000" stroke-width="0.55"/>
<line x1="495.2" y1="850.7" x2="495.2" y2="843.0" stroke="#000" stroke-width="0.5"/>
<line x1="493.5" y1="843.0" x2="496.9" y2="843.0" stroke="#000" stroke-width="0.55"/>
<line x1="493.5" y1="850.7" x2="496.9" y2="850.7" stroke="#000" stroke-width="0.55"/>
<line x1="535.9" y1="850.7" x2="535.9" y2="843.0" stroke="#000" stroke-width="0.5"/>
<line x1="534.2" y1="843.0" x2="537.6" y2="843.0" stroke="#000" stroke-width="0.55"/>
<line x1="534.2" y1="850.7" x2="537.6" y2="850.7" stroke="#000" stroke-width="0.55"/>
<polyline points="333.4,831.7 374.1,837.2 414.5,841.1 455.0,844.9 495.2,846.9 535.9,846.9" fill="none" stroke="#000" stroke-width="0.75"/>
<circle cx="333.4" cy="831.7" r="1.05" fill="#000"/>
<circle cx="374.1" cy="837.2" r="1.05" fill="#000"/>
<circle cx="414.5" cy="841.1" r="1.05" fill="#000"/>
<circle cx="455.0" cy="844.9" r="1.05" fill="#000"/>
<circle cx="495.2" cy="846.9" r="1.05" fill="#000"/>
<circle cx="535.9" cy="846.9" r="1.05" fill="#000"/>
<line x1="340.0" y1="725.3" x2="346.0" y2="725.3" stroke="#000" stroke-width="0.6"/>
<circle cx="343.0" cy="725.3" r="1.05" fill="#000"/>
<text x="351.0" y="726.9" font-size="4.6" textLength="13.3" lengthAdjust="spacingAndGlyphs">Mock</text>
<line x1="381.8" y1="725.3" x2="387.8" y2="725.3" stroke="#c6dcf7" stroke-width="0.6"/>
<circle cx="384.8" cy="725.3" r="1.10" fill="#b4c8e2" stroke="#9fb6d4" stroke-width="0.45"/>
<text x="392.8" y="726.9" font-size="4.6" textLength="34.8" lengthAdjust="spacingAndGlyphs">15µg cbVLPs</text>
<line x1="437.8" y1="725.3" x2="443.8" y2="725.3" stroke="#7db2ee" stroke-width="0.6"/>
<circle cx="440.8" cy="725.3" r="1.10" fill="#5f92c8" stroke="#5f92c8" stroke-width="0.45"/>
<text x="448.8" y="726.9" font-size="4.6" textLength="34.3" lengthAdjust="spacingAndGlyphs">30µg cbVLPs</text>
<line x1="493.4" y1="725.3" x2="499.4" y2="725.3" stroke="#8282f0" stroke-width="0.6"/>
<circle cx="496.4" cy="725.3" r="1.10" fill="#5a5ac8" stroke="#5a5ac8" stroke-width="0.45"/>
<text x="503.7" y="726.9" font-size="4.6" textLength="34.9" lengthAdjust="spacingAndGlyphs">40µg cbVLPs</text>
<line x1="340.0" y1="734.2" x2="346.0" y2="734.2" stroke="#1212ff" stroke-width="0.6"/>
<polygon points="343.00,732.70 343.37,733.69 344.43,733.74 343.60,734.39 343.88,735.41 343.00,734.83 342.12,735.41 342.40,734.39 341.57,733.74 342.63,733.69" fill="#1212ff"/>
<text x="351.0" y="735.9" font-size="4.6" textLength="64.7" lengthAdjust="spacingAndGlyphs">Inactivated H3N2 vaccine</text>
<text x="374.1" y="777.1" font-size="6.2" text-anchor="middle">****</text>
<text x="374.1" y="782.7" font-size="6.2" text-anchor="middle">**</text>
<text x="374.1" y="786.8" font-size="6.0" text-anchor="middle" stroke="#000" stroke-width="0.15">ns</text>
<text x="414.5" y="757.6" font-size="6.2" text-anchor="middle">****</text>
<text x="414.5" y="763.2" font-size="6.2" text-anchor="middle">*</text>
<text x="414.5" y="767.3" font-size="6.0" text-anchor="middle" stroke="#000" stroke-width="0.15">ns</text>
<text x="455.0" y="750.1" font-size="6.2" text-anchor="middle">****</text>
<text x="455.0" y="755.7" font-size="6.2" text-anchor="middle">**</text>
<text x="455.0" y="759.8" font-size="6.0" text-anchor="middle" stroke="#000" stroke-width="0.15">ns</text>
<text x="495.2" y="756.5" font-size="6.2" text-anchor="middle">****</text>
<text x="495.2" y="760.6" font-size="6.0" text-anchor="middle" stroke="#000" stroke-width="0.15">ns</text>
<text x="495.2" y="766.2" font-size="6.0" text-anchor="middle" stroke="#000" stroke-width="0.15">ns</text>
<text x="535.9" y="757.6" font-size="6.2" text-anchor="middle">****</text>
<text x="535.9" y="763.2" font-size="6.2" text-anchor="middle">*</text>
<text x="535.9" y="767.3" font-size="6.0" text-anchor="middle" stroke="#000" stroke-width="0.15">ns</text>
<text x="319.7" y="793.5" font-size="6.2" text-anchor="middle" textLength="75.5" lengthAdjust="spacingAndGlyphs" transform="rotate(-90 319.7 793.5)" stroke="#000" stroke-width="0.28">The HI antibody titers (nlog<tspan font-size="4.2" dy="0.9">2</tspan><tspan dy="-0.9">)</tspan></text>
<text x="387.8" y="865.8" font-size="5.6" font-weight="bold" textLength="94.2" lengthAdjust="spacingAndGlyphs">Days post immunization (dpi)</text>
<text x="314.9" y="730.1" font-size="10.2" font-weight="bold" textLength="8.0" lengthAdjust="spacingAndGlyphs" stroke="#000" stroke-width="0.2">E</text>
</g>
<g id="steps" filter="url(#blurR)">
<line x1="617.2" y1="503.9" x2="617.2" y2="687.6" stroke="#2a2a2a" stroke-width="1.3"/>
<line x1="616.6" y1="686.9" x2="892.0" y2="686.9" stroke="#2a2a2a" stroke-width="1.3"/>
<line x1="614.4" y1="686.9" x2="617.2" y2="686.9" stroke="#000" stroke-width="0.8"/>
<text x="613.6" y="689.9" font-size="8.5" font-weight="bold" text-anchor="end" textLength="4.2" lengthAdjust="spacingAndGlyphs">0</text>
<line x1="614.4" y1="626.0" x2="617.2" y2="626.0" stroke="#000" stroke-width="0.8"/>
<text x="613.6" y="629.0" font-size="8.5" font-weight="bold" text-anchor="end" textLength="4.2" lengthAdjust="spacingAndGlyphs">4</text>
<line x1="614.4" y1="565.2" x2="617.2" y2="565.2" stroke="#000" stroke-width="0.8"/>
<text x="613.6" y="568.2" font-size="8.5" font-weight="bold" text-anchor="end" textLength="4.2" lengthAdjust="spacingAndGlyphs">8</text>
<line x1="614.4" y1="504.3" x2="617.2" y2="504.3" stroke="#000" stroke-width="0.8"/>
<text x="613.6" y="507.3" font-size="8.5" font-weight="bold" text-anchor="end" textLength="8.3" lengthAdjust="spacingAndGlyphs">12</text>
<line x1="617.2" y1="686.9" x2="617.2" y2="689.5" stroke="#000" stroke-width="0.8"/>
<text x="618.8" y="695.3" font-size="8.3" font-weight="bold" text-anchor="end" textLength="4.2" lengthAdjust="spacingAndGlyphs" transform="rotate(-50 618.8 695.3)">0</text>
<line x1="676.0" y1="686.9" x2="676.0" y2="689.5" stroke="#000" stroke-width="0.8"/>
<text x="677.6" y="695.3" font-size="8.3" font-weight="bold" text-anchor="end" textLength="4.2" lengthAdjust="spacingAndGlyphs" transform="rotate(-50 677.6 695.3)">3</text>
<line x1="715.1" y1="686.9" x2="715.1" y2="689.5" stroke="#000" stroke-width="0.8"/>
<text x="716.7" y="695.3" font-size="8.3" font-weight="bold" text-anchor="end" textLength="4.2" lengthAdjust="spacingAndGlyphs" transform="rotate(-50 716.7 695.3)">5</text>
<line x1="754.3" y1="686.9" x2="754.3" y2="689.5" stroke="#000" stroke-width="0.8"/>
<text x="755.9" y="695.3" font-size="8.3" font-weight="bold" text-anchor="end" textLength="4.2" lengthAdjust="spacingAndGlyphs" transform="rotate(-50 755.9 695.3)">7</text>
<line x1="813.1" y1="686.9" x2="813.1" y2="689.5" stroke="#000" stroke-width="0.8"/>
<text x="814.7" y="695.3" font-size="8.3" font-weight="bold" text-anchor="end" textLength="8.4" lengthAdjust="spacingAndGlyphs" transform="rotate(-50 814.7 695.3)">10</text>
<line x1="891.4" y1="686.9" x2="891.4" y2="689.5" stroke="#000" stroke-width="0.8"/>
<text x="893.0" y="695.3" font-size="8.3" font-weight="bold" text-anchor="end" textLength="8.4" lengthAdjust="spacingAndGlyphs" transform="rotate(-50 893.0 695.3)">14</text>
<line x1="676.0" y1="686.9" x2="676.0" y2="610.8" stroke="#fbcaca" stroke-width="0.8"/>
<line x1="715.1" y1="625.3" x2="715.1" y2="592.6" stroke="#fbcaca" stroke-width="0.8"/>
<line x1="754.3" y1="607.0" x2="754.3" y2="569.0" stroke="#fbcaca" stroke-width="0.8"/>
<line x1="813.1" y1="583.4" x2="813.1" y2="543.9" stroke="#fbcaca" stroke-width="0.8"/>
<line x1="891.4" y1="562.1" x2="891.4" y2="518.8" stroke="#fbcaca" stroke-width="0.8"/>
<line x1="676.0" y1="610.8" x2="715.1" y2="610.8" stroke="#a10f50" stroke-width="1.0"/>
<line x1="715.1" y1="592.6" x2="754.3" y2="592.6" stroke="#a10f50" stroke-width="1.0"/>
<line x1="754.3" y1="571.3" x2="813.1" y2="571.3" stroke="#a10f50" stroke-width="1.0"/>
<line x1="813.1" y1="548.4" x2="891.4" y2="548.4" stroke="#a10f50" stroke-width="1.0"/>
<line x1="676.0" y1="625.3" x2="715.1" y2="625.3" stroke="#fbcaca" stroke-width="0.8"/>
<line x1="715.1" y1="607.0" x2="754.3" y2="607.0" stroke="#fbcaca" stroke-width="0.8"/>
<line x1="754.3" y1="583.4" x2="813.1" y2="583.4" stroke="#fbcaca" stroke-width="0.8"/>
<line x1="813.1" y1="562.1" x2="891.4" y2="562.1" stroke="#fbcaca" stroke-width="0.8"/>
<line x1="676.0" y1="613.9" x2="715.1" y2="613.9" stroke="#f08a8a" stroke-width="0.8"/>
<line x1="715.1" y1="597.1" x2="754.3" y2="597.1" stroke="#f08a8a" stroke-width="0.8"/>
<line x1="754.3" y1="577.3" x2="813.1" y2="577.3" stroke="#f08a8a" stroke-width="0.8"/>
<line x1="813.1" y1="549.2" x2="891.4" y2="549.2" stroke="#f08a8a" stroke-width="0.8"/>
<line x1="676.0" y1="611.6" x2="715.1" y2="611.6" stroke="#ee2a2a" stroke-width="0.8"/>
<line x1="715.1" y1="592.6" x2="754.3" y2="592.6" stroke="#ee2a2a" stroke-width="0.8"/>
<line x1="754.3" y1="569.0" x2="813.1" y2="569.0" stroke="#ee2a2a" stroke-width="0.8"/>
<line x1="813.1" y1="543.9" x2="891.4" y2="543.9" stroke="#ee2a2a" stroke-width="0.8"/>
<polyline points="617.2,686.9 676.0,686.9 676.0,656.5 715.1,656.5 715.1,642.0 754.3,642.0 754.3,634.4 813.1,634.4 813.1,625.3 891.4,625.3 891.4,618.4" fill="none" stroke="#000" stroke-width="1.05"/>
<circle cx="676.0" cy="625.3" r="1.90" fill="#fff" stroke="#b59a9a" stroke-width="0.5"/>
<circle cx="676.0" cy="625.3" r="0.60" fill="#b59a9a"/>
<circle cx="715.1" cy="607.0" r="1.90" fill="#fff" stroke="#b59a9a" stroke-width="0.5"/>
<circle cx="715.1" cy="607.0" r="0.60" fill="#b59a9a"/>
<circle cx="754.3" cy="583.4" r="1.90" fill="#fff" stroke="#b59a9a" stroke-width="0.5"/>
<circle cx="754.3" cy="583.4" r="0.60" fill="#b59a9a"/>
<circle cx="813.1" cy="562.1" r="1.90" fill="#fff" stroke="#b59a9a" stroke-width="0.5"/>
<circle cx="813.1" cy="562.1" r="0.60" fill="#b59a9a"/>
<circle cx="891.4" cy="545.4" r="1.90" fill="#fff" stroke="#b59a9a" stroke-width="0.5"/>
<circle cx="891.4" cy="545.4" r="0.60" fill="#b59a9a"/>
<line x1="891.4" y1="530.9" x2="891.4" y2="523.3" stroke="#f08a8a" stroke-width="0.6"/>
<line x1="889.9" y1="523.3" x2="892.9" y2="523.3" stroke="#f08a8a" stroke-width="0.6"/>
<line x1="889.9" y1="530.9" x2="892.9" y2="530.9" stroke="#f08a8a" stroke-width="0.6"/>
<circle cx="676.0" cy="613.9" r="1.90" fill="#fff" stroke="#b05a5a" stroke-width="0.5"/>
<circle cx="676.0" cy="613.9" r="1.05" fill="#f08a8a"/>
<circle cx="715.1" cy="597.1" r="1.90" fill="#fff" stroke="#b05a5a" stroke-width="0.5"/>
<circle cx="715.1" cy="597.1" r="1.05" fill="#f08a8a"/>
<circle cx="754.3" cy="577.3" r="1.90" fill="#fff" stroke="#b05a5a" stroke-width="0.5"/>
<circle cx="754.3" cy="577.3" r="1.05" fill="#f08a8a"/>
<circle cx="813.1" cy="549.2" r="1.90" fill="#fff" stroke="#b05a5a" stroke-width="0.5"/>
<circle cx="813.1" cy="549.2" r="1.05" fill="#f08a8a"/>
<circle cx="891.4" cy="527.1" r="1.90" fill="#fff" stroke="#b05a5a" stroke-width="0.5"/>
<circle cx="891.4" cy="527.1" r="1.05" fill="#f08a8a"/>
<line x1="715.1" y1="598.6" x2="715.1" y2="586.5" stroke="#ee2a2a" stroke-width="0.6"/>
<line x1="713.6" y1="586.5" x2="716.6" y2="586.5" stroke="#ee2a2a" stroke-width="0.6"/>
<line x1="713.6" y1="598.6" x2="716.6" y2="598.6" stroke="#ee2a2a" stroke-width="0.6"/>
<line x1="754.3" y1="572.8" x2="754.3" y2="565.2" stroke="#ee2a2a" stroke-width="0.6"/>
<line x1="752.8" y1="565.2" x2="755.8" y2="565.2" stroke="#ee2a2a" stroke-width="0.6"/>
<line x1="752.8" y1="572.8" x2="755.8" y2="572.8" stroke="#ee2a2a" stroke-width="0.6"/>
<line x1="813.1" y1="550.0" x2="813.1" y2="537.8" stroke="#ee2a2a" stroke-width="0.6"/>
<line x1="811.6" y1="537.8" x2="814.6" y2="537.8" stroke="#ee2a2a" stroke-width="0.6"/>
<line x1="811.6" y1="550.0" x2="814.6" y2="550.0" stroke="#ee2a2a" stroke-width="0.6"/>
<line x1="891.4" y1="521.0" x2="891.4" y2="516.5" stroke="#ee2a2a" stroke-width="0.6"/>
<line x1="889.9" y1="516.5" x2="892.9" y2="516.5" stroke="#ee2a2a" stroke-width="0.6"/>
<line x1="889.9" y1="521.0" x2="892.9" y2="521.0" stroke="#ee2a2a" stroke-width="0.6"/>
<circle cx="676.0" cy="611.6" r="1.90" fill="#ee2a2a" stroke="#b02525" stroke-width="0.5"/>
<circle cx="715.1" cy="592.6" r="1.90" fill="#ee2a2a" stroke="#b02525" stroke-width="0.5"/>
<circle cx="754.3" cy="569.0" r="1.90" fill="#ee2a2a" stroke="#b02525" stroke-width="0.5"/>
<circle cx="813.1" cy="543.9" r="1.90" fill="#ee2a2a" stroke="#b02525" stroke-width="0.5"/>
<circle cx="891.4" cy="518.8" r="1.90" fill="#ee2a2a" stroke="#b02525" stroke-width="0.5"/>
<line x1="676.0" y1="612.6" x2="676.0" y2="609.0" stroke="#a10f50" stroke-width="0.6"/>
<line x1="674.5" y1="609.0" x2="677.5" y2="609.0" stroke="#a10f50" stroke-width="0.6"/>
<line x1="674.5" y1="612.6" x2="677.5" y2="612.6" stroke="#a10f50" stroke-width="0.6"/>
<line x1="754.3" y1="574.3" x2="754.3" y2="568.2" stroke="#a10f50" stroke-width="0.6"/>
<line x1="752.8" y1="568.2" x2="755.8" y2="568.2" stroke="#a10f50" stroke-width="0.6"/>
<line x1="752.8" y1="574.3" x2="755.8" y2="574.3" stroke="#a10f50" stroke-width="0.6"/>
<polygon points="675.96,608.35 676.57,609.98 678.31,610.05 676.94,611.14 677.41,612.81 675.96,611.85 674.51,612.81 674.97,611.14 673.61,610.05 675.35,609.98" fill="#a10f50"/>
<polygon points="715.13,590.09 715.74,591.72 717.48,591.79 716.12,592.88 716.58,594.55 715.13,593.59 713.68,594.55 714.14,592.88 712.78,591.79 714.52,591.72" fill="#a10f50"/>
<polygon points="754.30,568.78 754.91,570.41 756.65,570.49 755.29,571.57 755.75,573.25 754.30,572.29 752.85,573.25 753.32,571.57 751.95,570.49 753.69,570.41" fill="#a10f50"/>
<polygon points="813.06,545.96 813.67,547.59 815.41,547.67 814.05,548.75 814.51,550.43 813.06,549.47 811.61,550.43 812.07,548.75 810.71,547.67 812.45,547.59" fill="#a10f50"/>
<polygon points="891.40,516.29 892.01,517.92 893.75,517.99 892.39,519.08 892.86,520.75 891.40,519.79 889.95,520.75 890.42,519.08 889.05,517.99 890.79,517.92" fill="#a10f50"/>
<line x1="676.0" y1="659.5" x2="676.0" y2="653.4" stroke="#000" stroke-width="0.6"/>
<line x1="674.5" y1="653.4" x2="677.5" y2="653.4" stroke="#000" stroke-width="0.6"/>
<line x1="674.5" y1="659.5" x2="677.5" y2="659.5" stroke="#000" stroke-width="0.6"/>
<line x1="891.4" y1="620.7" x2="891.4" y2="616.1" stroke="#000" stroke-width="0.6"/>
<line x1="889.9" y1="616.1" x2="892.9" y2="616.1" stroke="#000" stroke-width="0.6"/>
<line x1="889.9" y1="620.7" x2="892.9" y2="620.7" stroke="#000" stroke-width="0.6"/>
<circle cx="617.2" cy="686.9" r="1.90" fill="#000"/>
<circle cx="676.0" cy="656.5" r="1.90" fill="#000"/>
<circle cx="715.1" cy="642.0" r="1.90" fill="#000"/>
<circle cx="754.3" cy="634.4" r="1.90" fill="#000"/>
<circle cx="813.1" cy="625.3" r="1.90" fill="#000"/>
<circle cx="891.4" cy="618.4" r="1.90" fill="#000"/>
<line x1="627.3" y1="480.9" x2="636.5" y2="480.9" stroke="#000" stroke-width="0.8"/>
<circle cx="631.9" cy="480.9" r="1.70" fill="#000"/>
<text x="642.9" y="483.8" font-size="8.2" textLength="18.5" lengthAdjust="spacingAndGlyphs">Mock</text>
<line x1="683.8" y1="480.9" x2="693.0" y2="480.9" stroke="#fbcaca" stroke-width="0.8"/>
<circle cx="688.4" cy="480.9" r="1.70" fill="#fff" stroke="#b59a9a" stroke-width="0.5"/>
<circle cx="688.4" cy="480.9" r="0.60" fill="#b59a9a"/>
<text x="699.4" y="483.8" font-size="8.2" textLength="43.3" lengthAdjust="spacingAndGlyphs">15µg cbVLP</text>
<line x1="758.8" y1="480.9" x2="768.0" y2="480.9" stroke="#f08a8a" stroke-width="0.8"/>
<circle cx="763.4" cy="480.9" r="1.70" fill="#fff" stroke="#b05a5a" stroke-width="0.5"/>
<circle cx="763.4" cy="480.9" r="1.05" fill="#f08a8a"/>
<text x="774.4" y="483.8" font-size="8.2" textLength="43.3" lengthAdjust="spacingAndGlyphs">30µg cbVLP</text>
<line x1="834.1" y1="480.9" x2="843.3" y2="480.9" stroke="#ee2a2a" stroke-width="0.8"/>
<circle cx="838.7" cy="480.9" r="1.70" fill="#ee2a2a" stroke="#b02525" stroke-width="0.5"/>
<text x="850.3" y="483.8" font-size="8.2" textLength="43.3" lengthAdjust="spacingAndGlyphs">40µg cbVLP</text>
<line x1="627.3" y1="494.6" x2="636.5" y2="494.6" stroke="#a10f50" stroke-width="0.8"/>
<polygon points="631.90,492.13 632.51,493.76 634.25,493.84 632.89,494.92 633.35,496.60 631.90,495.64 630.45,496.60 630.91,494.92 629.55,493.84 631.29,493.76" fill="#a10f50"/>
<text x="642.9" y="497.5" font-size="8.2" textLength="92.1" lengthAdjust="spacingAndGlyphs">Commercial H9N2 vaccine</text>
<text x="676.0" y="586.7" font-size="8.4" text-anchor="middle">****</text>
<text x="676.0" y="596.2" font-size="8.4" text-anchor="middle">ns</text>
<text x="676.0" y="605.3" font-size="8.4" text-anchor="middle">ns</text>
<text x="715.1" y="565.4" font-size="8.4" text-anchor="middle">****</text>
<text x="715.1" y="574.7" font-size="8.4" text-anchor="middle">ns</text>
<text x="715.1" y="583.8" font-size="8.4" text-anchor="middle">ns</text>
<text x="754.3" y="545.3" font-size="8.4" text-anchor="middle">****</text>
<text x="754.3" y="553.9" font-size="8.4" text-anchor="middle">*</text>
<text x="754.3" y="563.1" font-size="8.4" text-anchor="middle">ns</text>
<text x="813.1" y="516.9" font-size="8.4" text-anchor="middle">****</text>
<text x="813.1" y="526.5" font-size="8.4" text-anchor="middle">ns</text>
<text x="813.1" y="535.6" font-size="8.4" text-anchor="middle">ns</text>
<text x="891.4" y="495.7" font-size="8.4" text-anchor="middle">****</text>
<text x="891.4" y="504.5" font-size="8.4" text-anchor="middle">**</text>
<text x="891.4" y="513.8" font-size="8.4" text-anchor="middle">ns</text>
<text x="600.6" y="595.4" font-size="8.6" font-weight="bold" text-anchor="middle" textLength="201.5" lengthAdjust="spacingAndGlyphs" transform="rotate(-90 600.6 595.4)">The relative growth rate of bodyweight (100%)</text>
<text x="697.2" y="714.7" font-size="8.8" font-weight="bold" textLength="114.5" lengthAdjust="spacingAndGlyphs">Days post challenge (dpc)</text>
<text x="593.2" y="472.2" font-size="16.3" font-weight="bold" textLength="11.2" lengthAdjust="spacingAndGlyphs">A</text>
<line x1="967.3" y1="500.9" x2="967.3" y2="687.6" stroke="#2a2a2a" stroke-width="1.3"/>
<line x1="966.7" y1="686.9" x2="1246.4" y2="686.9" stroke="#2a2a2a" stroke-width="1.3"/>
<line x1="964.5" y1="686.9" x2="967.3" y2="686.9" stroke="#000" stroke-width="0.8"/>
<text x="963.7" y="689.9" font-size="8.5" font-weight="bold" text-anchor="end" textLength="4.2" lengthAdjust="spacingAndGlyphs">0</text>
<line x1="964.5" y1="660.4" x2="967.3" y2="660.4" stroke="#000" stroke-width="0.8"/>
<text x="963.7" y="663.4" font-size="8.5" font-weight="bold" text-anchor="end" textLength="4.2" lengthAdjust="spacingAndGlyphs">2</text>
<line x1="964.5" y1="633.9" x2="967.3" y2="633.9" stroke="#000" stroke-width="0.8"/>
<text x="963.7" y="636.9" font-size="8.5" font-weight="bold" text-anchor="end" textLength="4.2" lengthAdjust="spacingAndGlyphs">4</text>
<line x1="964.5" y1="607.4" x2="967.3" y2="607.4" stroke="#000" stroke-width="0.8"/>
<text x="963.7" y="610.4" font-size="8.5" font-weight="bold" text-anchor="end" textLength="4.2" lengthAdjust="spacingAndGlyphs">6</text>
<line x1="964.5" y1="580.8" x2="967.3" y2="580.8" stroke="#000" stroke-width="0.8"/>
<text x="963.7" y="583.8" font-size="8.5" font-weight="bold" text-anchor="end" textLength="4.2" lengthAdjust="spacingAndGlyphs">8</text>
<line x1="964.5" y1="554.3" x2="967.3" y2="554.3" stroke="#000" stroke-width="0.8"/>
<text x="963.7" y="557.3" font-size="8.5" font-weight="bold" text-anchor="end" textLength="8.3" lengthAdjust="spacingAndGlyphs">10</text>
<line x1="964.5" y1="527.8" x2="967.3" y2="527.8" stroke="#000" stroke-width="0.8"/>
<text x="963.7" y="530.8" font-size="8.5" font-weight="bold" text-anchor="end" textLength="8.3" lengthAdjust="spacingAndGlyphs">12</text>
<line x1="964.5" y1="501.3" x2="967.3" y2="501.3" stroke="#000" stroke-width="0.8"/>
<text x="963.7" y="504.3" font-size="8.5" font-weight="bold" text-anchor="end" textLength="8.3" lengthAdjust="spacingAndGlyphs">14</text>
<line x1="967.3" y1="686.9" x2="967.3" y2="689.5" stroke="#000" stroke-width="0.8"/>
<text x="968.9" y="695.3" font-size="8.3" font-weight="bold" text-anchor="end" textLength="4.2" lengthAdjust="spacingAndGlyphs" transform="rotate(-50 968.9 695.3)">0</text>
<line x1="1027.0" y1="686.9" x2="1027.0" y2="689.5" stroke="#000" stroke-width="0.8"/>
<text x="1028.6" y="695.3" font-size="8.3" font-weight="bold" text-anchor="end" textLength="4.2" lengthAdjust="spacingAndGlyphs" transform="rotate(-50 1028.6 695.3)">3</text>
<line x1="1066.8" y1="686.9" x2="1066.8" y2="689.5" stroke="#000" stroke-width="0.8"/>
<text x="1068.4" y="695.3" font-size="8.3" font-weight="bold" text-anchor="end" textLength="4.2" lengthAdjust="spacingAndGlyphs" transform="rotate(-50 1068.4 695.3)">5</text>
<line x1="1106.6" y1="686.9" x2="1106.6" y2="689.5" stroke="#000" stroke-width="0.8"/>
<text x="1108.2" y="695.3" font-size="8.3" font-weight="bold" text-anchor="end" textLength="4.2" lengthAdjust="spacingAndGlyphs" transform="rotate(-50 1108.2 695.3)">7</text>
<line x1="1166.2" y1="686.9" x2="1166.2" y2="689.5" stroke="#000" stroke-width="0.8"/>
<text x="1167.8" y="695.3" font-size="8.3" font-weight="bold" text-anchor="end" textLength="8.4" lengthAdjust="spacingAndGlyphs" transform="rotate(-50 1167.8 695.3)">10</text>
<line x1="1245.8" y1="686.9" x2="1245.8" y2="689.5" stroke="#000" stroke-width="0.8"/>
<text x="1247.4" y="695.3" font-size="8.3" font-weight="bold" text-anchor="end" textLength="8.4" lengthAdjust="spacingAndGlyphs" transform="rotate(-50 1247.4 695.3)">14</text>
<line x1="1027.0" y1="686.9" x2="1027.0" y2="608.0" stroke="#c6dcf7" stroke-width="0.8"/>
<line x1="1066.8" y1="621.9" x2="1066.8" y2="591.4" stroke="#c6dcf7" stroke-width="0.8"/>
<line x1="1106.6" y1="599.4" x2="1106.6" y2="567.6" stroke="#c6dcf7" stroke-width="0.8"/>
<line x1="1166.2" y1="576.9" x2="1166.2" y2="554.3" stroke="#c6dcf7" stroke-width="0.8"/>
<line x1="1245.8" y1="558.3" x2="1245.8" y2="525.2" stroke="#c6dcf7" stroke-width="0.8"/>
<line x1="1027.0" y1="608.0" x2="1066.8" y2="608.0" stroke="#1212ff" stroke-width="1.0"/>
<line x1="1066.8" y1="591.4" x2="1106.6" y2="591.4" stroke="#1212ff" stroke-width="1.0"/>
<line x1="1106.6" y1="567.6" x2="1166.2" y2="567.6" stroke="#1212ff" stroke-width="1.0"/>
<line x1="1166.2" y1="554.3" x2="1245.8" y2="554.3" stroke="#1212ff" stroke-width="1.0"/>
<line x1="1027.0" y1="621.9" x2="1066.8" y2="621.9" stroke="#c6dcf7" stroke-width="0.8"/>
<line x1="1066.8" y1="599.4" x2="1106.6" y2="599.4" stroke="#c6dcf7" stroke-width="0.8"/>
<line x1="1106.6" y1="576.9" x2="1166.2" y2="576.9" stroke="#c6dcf7" stroke-width="0.8"/>
<line x1="1166.2" y1="558.3" x2="1245.8" y2="558.3" stroke="#c6dcf7" stroke-width="0.8"/>
<line x1="1027.0" y1="611.3" x2="1066.8" y2="611.3" stroke="#7db2ee" stroke-width="0.8"/>
<line x1="1066.8" y1="593.4" x2="1106.6" y2="593.4" stroke="#7db2ee" stroke-width="0.8"/>
<line x1="1106.6" y1="572.2" x2="1166.2" y2="572.2" stroke="#7db2ee" stroke-width="0.8"/>
<line x1="1166.2" y1="555.7" x2="1245.8" y2="555.7" stroke="#7db2ee" stroke-width="0.8"/>
<line x1="1027.0" y1="609.3" x2="1066.8" y2="609.3" stroke="#8282f0" stroke-width="0.8"/>
<line x1="1066.8" y1="592.1" x2="1106.6" y2="592.1" stroke="#8282f0" stroke-width="0.8"/>
<line x1="1106.6" y1="568.2" x2="1166.2" y2="568.2" stroke="#8282f0" stroke-width="0.8"/>
<line x1="1166.2" y1="554.3" x2="1245.8" y2="554.3" stroke="#8282f0" stroke-width="0.8"/>
<polyline points="967.3,686.9 1027.0,686.9 1027.0,646.5 1066.8,646.5 1066.8,627.9 1106.6,627.9 1106.6,620.0 1166.2,620.0 1166.2,606.7 1245.8,606.7 1245.8,598.7" fill="none" stroke="#000" stroke-width="1.05"/>
<line x1="1027.0" y1="610.7" x2="1027.0" y2="605.4" stroke="#1212ff" stroke-width="0.6"/>
<line x1="1025.5" y1="605.4" x2="1028.5" y2="605.4" stroke="#1212ff" stroke-width="0.6"/>
<line x1="1025.5" y1="610.7" x2="1028.5" y2="610.7" stroke="#1212ff" stroke-width="0.6"/>
<line x1="1106.6" y1="568.9" x2="1106.6" y2="566.3" stroke="#1212ff" stroke-width="0.6"/>
<line x1="1105.1" y1="566.3" x2="1108.1" y2="566.3" stroke="#1212ff" stroke-width="0.6"/>
<line x1="1105.1" y1="568.9" x2="1108.1" y2="568.9" stroke="#1212ff" stroke-width="0.6"/>
<line x1="1166.2" y1="559.6" x2="1166.2" y2="549.0" stroke="#1212ff" stroke-width="0.6"/>
<line x1="1164.7" y1="549.0" x2="1167.7" y2="549.0" stroke="#1212ff" stroke-width="0.6"/>
<line x1="1164.7" y1="559.6" x2="1167.7" y2="559.6" stroke="#1212ff" stroke-width="0.6"/>
<line x1="1245.8" y1="527.8" x2="1245.8" y2="522.5" stroke="#1212ff" stroke-width="0.6"/>
<line x1="1244.3" y1="522.5" x2="1247.3" y2="522.5" stroke="#1212ff" stroke-width="0.6"/>
<line x1="1244.3" y1="527.8" x2="1247.3" y2="527.8" stroke="#1212ff" stroke-width="0.6"/>
<polygon points="1026.98,605.55 1027.59,607.18 1029.33,607.26 1027.97,608.34 1028.43,610.02 1026.98,609.06 1025.53,610.02 1025.99,608.34 1024.63,607.26 1026.37,607.18" fill="#1212ff"/>
<polygon points="1066.76,588.98 1067.37,590.61 1069.11,590.69 1067.75,591.77 1068.22,593.45 1066.76,592.49 1065.31,593.45 1065.78,591.77 1064.42,590.69 1066.16,590.61" fill="#1212ff"/>
<polygon points="1106.55,565.12 1107.16,566.75 1108.90,566.82 1107.54,567.91 1108.00,569.58 1106.55,568.62 1105.10,569.58 1105.56,567.91 1104.20,566.82 1105.94,566.75" fill="#1212ff"/>
<polygon points="1166.23,551.86 1166.84,553.49 1168.58,553.57 1167.22,554.65 1167.68,556.33 1166.23,555.37 1164.78,556.33 1165.24,554.65 1163.88,553.57 1165.62,553.49" fill="#1212ff"/>
<polygon points="1245.80,522.69 1246.41,524.32 1248.15,524.40 1246.79,525.48 1247.25,527.16 1245.80,526.20 1244.35,527.16 1244.82,525.48 1243.45,524.40 1245.19,524.32" fill="#1212ff"/>
<line x1="1027.0" y1="626.6" x2="1027.0" y2="617.3" stroke="#c6dcf7" stroke-width="0.6"/>
<line x1="1025.5" y1="617.3" x2="1028.5" y2="617.3" stroke="#c6dcf7" stroke-width="0.6"/>
<line x1="1025.5" y1="626.6" x2="1028.5" y2="626.6" stroke="#c6dcf7" stroke-width="0.6"/>
<line x1="1245.8" y1="539.1" x2="1245.8" y2="528.5" stroke="#c6dcf7" stroke-width="0.6"/>
<line x1="1244.3" y1="528.5" x2="1247.3" y2="528.5" stroke="#c6dcf7" stroke-width="0.6"/>
<line x1="1244.3" y1="539.1" x2="1247.3" y2="539.1" stroke="#c6dcf7" stroke-width="0.6"/>
<circle cx="1027.0" cy="621.9" r="1.90" fill="#fff" stroke="#8aa4c4" stroke-width="0.5"/>
<circle cx="1027.0" cy="621.9" r="0.60" fill="#8aa4c4"/>
<circle cx="1066.8" cy="599.4" r="1.90" fill="#fff" stroke="#8aa4c4" stroke-width="0.5"/>
<circle cx="1066.8" cy="599.4" r="0.60" fill="#8aa4c4"/>
<circle cx="1106.6" cy="576.9" r="1.90" fill="#fff" stroke="#8aa4c4" stroke-width="0.5"/>
<circle cx="1106.6" cy="576.9" r="0.60" fill="#8aa4c4"/>
<circle cx="1166.2" cy="558.3" r="1.90" fill="#fff" stroke="#8aa4c4" stroke-width="0.5"/>
<circle cx="1166.2" cy="558.3" r="0.60" fill="#8aa4c4"/>
<circle cx="1245.8" cy="533.8" r="1.90" fill="#fff" stroke="#8aa4c4" stroke-width="0.5"/>
<circle cx="1245.8" cy="533.8" r="0.60" fill="#8aa4c4"/>
<circle cx="1027.0" cy="611.3" r="1.90" fill="#fff" stroke="#4a7fb5" stroke-width="0.5"/>
<circle cx="1027.0" cy="611.3" r="1.05" fill="#7db2ee"/>
<circle cx="1066.8" cy="593.4" r="1.90" fill="#fff" stroke="#4a7fb5" stroke-width="0.5"/>
<circle cx="1066.8" cy="593.4" r="1.05" fill="#7db2ee"/>
<circle cx="1106.6" cy="572.2" r="1.90" fill="#fff" stroke="#4a7fb5" stroke-width="0.5"/>
<circle cx="1106.6" cy="572.2" r="1.05" fill="#7db2ee"/>
<circle cx="1166.2" cy="555.7" r="1.90" fill="#fff" stroke="#4a7fb5" stroke-width="0.5"/>
<circle cx="1166.2" cy="555.7" r="1.05" fill="#7db2ee"/>
<circle cx="1245.8" cy="529.1" r="1.90" fill="#fff" stroke="#4a7fb5" stroke-width="0.5"/>
<circle cx="1245.8" cy="529.1" r="1.05" fill="#7db2ee"/>
<circle cx="1027.0" cy="609.3" r="1.90" fill="#8282f0" stroke="#5555b5" stroke-width="0.5"/>
<circle cx="1066.8" cy="592.1" r="1.90" fill="#8282f0" stroke="#5555b5" stroke-width="0.5"/>
<circle cx="1106.6" cy="568.2" r="1.90" fill="#8282f0" stroke="#5555b5" stroke-width="0.5"/>
<circle cx="1166.2" cy="554.3" r="1.90" fill="#8282f0" stroke="#5555b5" stroke-width="0.5"/>
<circle cx="1245.8" cy="527.8" r="1.90" fill="#8282f0" stroke="#5555b5" stroke-width="0.5"/>
<line x1="1066.8" y1="631.9" x2="1066.8" y2="623.9" stroke="#000" stroke-width="0.6"/>
<line x1="1065.3" y1="623.9" x2="1068.3" y2="623.9" stroke="#000" stroke-width="0.6"/>
<line x1="1065.3" y1="631.9" x2="1068.3" y2="631.9" stroke="#000" stroke-width="0.6"/>
<circle cx="967.3" cy="686.9" r="1.90" fill="#000"/>
<circle cx="1027.0" cy="646.5" r="1.90" fill="#000"/>
<circle cx="1066.8" cy="627.9" r="1.90" fill="#000"/>
<circle cx="1106.6" cy="620.0" r="1.90" fill="#000"/>
<circle cx="1166.2" cy="606.7" r="1.90" fill="#000"/>
<circle cx="1245.8" cy="598.7" r="1.90" fill="#000"/>
<line x1="975.1" y1="478.1" x2="984.3" y2="478.1" stroke="#000" stroke-width="0.8"/>
<circle cx="979.7" cy="478.1" r="1.70" fill="#000"/>
<text x="991.3" y="481.0" font-size="8.2" textLength="18.7" lengthAdjust="spacingAndGlyphs">Mock</text>
<line x1="1032.4" y1="478.1" x2="1041.6" y2="478.1" stroke="#c6dcf7" stroke-width="0.8"/>
<circle cx="1037.0" cy="478.1" r="1.70" fill="#fff" stroke="#8aa4c4" stroke-width="0.5"/>
<circle cx="1037.0" cy="478.1" r="0.60" fill="#8aa4c4"/>
<text x="1048.6" y="481.0" font-size="8.2" textLength="44.2" lengthAdjust="spacingAndGlyphs">15µg cbVLP</text>
<line x1="1108.8" y1="478.1" x2="1118.0" y2="478.1" stroke="#7db2ee" stroke-width="0.8"/>
<circle cx="1113.4" cy="478.1" r="1.70" fill="#fff" stroke="#4a7fb5" stroke-width="0.5"/>
<circle cx="1113.4" cy="478.1" r="1.05" fill="#7db2ee"/>
<text x="1125.3" y="481.0" font-size="8.2" textLength="44.1" lengthAdjust="spacingAndGlyphs">30µg cbVLP</text>
<line x1="1186.1" y1="478.1" x2="1195.3" y2="478.1" stroke="#8282f0" stroke-width="0.8"/>
<circle cx="1190.7" cy="478.1" r="1.70" fill="#8282f0" stroke="#5555b5" stroke-width="0.5"/>
<text x="1201.7" y="481.0" font-size="8.2" textLength="44.1" lengthAdjust="spacingAndGlyphs">40µg cbVLP</text>
<line x1="975.1" y1="491.0" x2="984.3" y2="491.0" stroke="#1212ff" stroke-width="0.8"/>
<polygon points="979.70,488.53 980.31,490.16 982.05,490.24 980.69,491.32 981.15,493.00 979.70,492.04 978.25,493.00 978.71,491.32 977.35,490.24 979.09,490.16" fill="#1212ff"/>
<text x="991.3" y="493.9" font-size="8.2" textLength="78.6" lengthAdjust="spacingAndGlyphs">Inactivated H3N2 virus</text>
<text x="1026.6" y="584.2" font-size="8.4" text-anchor="middle">****</text>
<text x="1026.6" y="592.9" font-size="8.4" text-anchor="middle">ns</text>
<text x="1026.6" y="602.3" font-size="8.4" text-anchor="middle">ns</text>
<text x="1066.6" y="570.1" font-size="8.4" text-anchor="middle">**</text>
<text x="1066.6" y="578.9" font-size="8.4" text-anchor="middle">ns</text>
<text x="1066.6" y="588.0" font-size="8.4" text-anchor="middle">ns</text>
<text x="1106.5" y="546.1" font-size="8.4" text-anchor="middle">***</text>
<text x="1106.5" y="554.9" font-size="8.4" text-anchor="middle">ns</text>
<text x="1106.5" y="564.0" font-size="8.4" text-anchor="middle">ns</text>
<text x="1166.4" y="528.1" font-size="8.4" text-anchor="middle">ns</text>
<text x="1166.4" y="537.5" font-size="8.4" text-anchor="middle">ns</text>
<text x="1166.4" y="546.6" font-size="8.4" text-anchor="middle">ns</text>
<text x="1245.8" y="500.5" font-size="8.4" text-anchor="middle">ns</text>
<text x="1245.8" y="510.2" font-size="8.4" text-anchor="middle">ns</text>
<text x="1245.8" y="519.0" font-size="8.4" text-anchor="middle">ns</text>
<text x="948.8" y="593.9" font-size="8.6" font-weight="bold" text-anchor="middle" textLength="201.5" lengthAdjust="spacingAndGlyphs" transform="rotate(-90 948.8 593.9)">The relative growth rate of bodyweight (100%)</text>
<text x="1047.3" y="715.3" font-size="8.8" font-weight="bold" textLength="117.2" lengthAdjust="spacingAndGlyphs">Days post challenge (dpc)</text>
<text x="940.9" y="468.5" font-size="16.3" font-weight="bold" textLength="10.6" lengthAdjust="spacingAndGlyphs">B</text>
</g>
<g id="scatter" filter="url(#blurR)">
<line x1="622.8" y1="789.0" x2="622.8" y2="977.7" stroke="#3a3a3a" stroke-width="1.4"/>
<line x1="622.1" y1="977.0" x2="904.9" y2="977.0" stroke="#3a3a3a" stroke-width="1.4"/>
<line x1="620.0" y1="977.0" x2="622.8" y2="977.0" stroke="#3a3a3a" stroke-width="1.0"/>
<text x="619.4" y="980.1" font-size="8.9" font-weight="bold" text-anchor="end" textLength="15.3" lengthAdjust="spacingAndGlyphs">0.00</text>
<line x1="620.0" y1="930.1" x2="622.8" y2="930.1" stroke="#3a3a3a" stroke-width="1.0"/>
<text x="619.4" y="933.2" font-size="8.9" font-weight="bold" text-anchor="end" textLength="15.3" lengthAdjust="spacingAndGlyphs">0.25</text>
<line x1="620.0" y1="883.2" x2="622.8" y2="883.2" stroke="#3a3a3a" stroke-width="1.0"/>
<text x="619.4" y="886.3" font-size="8.9" font-weight="bold" text-anchor="end" textLength="15.3" lengthAdjust="spacingAndGlyphs">0.50</text>
<line x1="620.0" y1="836.2" x2="622.8" y2="836.2" stroke="#3a3a3a" stroke-width="1.0"/>
<text x="619.4" y="839.4" font-size="8.9" font-weight="bold" text-anchor="end" textLength="15.3" lengthAdjust="spacingAndGlyphs">0.75</text>
<line x1="620.0" y1="789.4" x2="622.8" y2="789.4" stroke="#3a3a3a" stroke-width="1.0"/>
<text x="619.4" y="792.5" font-size="8.9" font-weight="bold" text-anchor="end" textLength="15.3" lengthAdjust="spacingAndGlyphs">1.00</text>
<line x1="622.8" y1="883.2" x2="905.0" y2="883.2" stroke="#3a3a3a" stroke-width="1.25" stroke-dasharray="2.9 2.0"/>
<line x1="644.2" y1="977.0" x2="644.2" y2="979.8" stroke="#3a3a3a" stroke-width="1.0"/>
<text x="645.8" y="986.4" font-size="7.9" font-weight="bold" text-anchor="end" transform="rotate(-45 645.8 986.4)">21 dpi</text>
<line x1="669.8" y1="977.0" x2="669.8" y2="979.8" stroke="#3a3a3a" stroke-width="1.0"/>
<text x="671.4" y="986.4" font-size="7.9" font-weight="bold" text-anchor="end" transform="rotate(-45 671.4 986.4)">7 dpc</text>
<line x1="695.5" y1="977.0" x2="695.5" y2="979.8" stroke="#3a3a3a" stroke-width="1.0"/>
<text x="697.1" y="986.4" font-size="7.9" font-weight="bold" text-anchor="end" transform="rotate(-45 697.1 986.4)">14 dpc</text>
<line x1="738.3" y1="977.0" x2="738.3" y2="979.8" stroke="#3a3a3a" stroke-width="1.0"/>
<text x="739.9" y="986.4" font-size="7.9" font-weight="bold" text-anchor="end" transform="rotate(-45 739.9 986.4)">21 dpi</text>
<line x1="763.6" y1="977.0" x2="763.6" y2="979.8" stroke="#3a3a3a" stroke-width="1.0"/>
<text x="765.2" y="986.4" font-size="7.9" font-weight="bold" text-anchor="end" transform="rotate(-45 765.2 986.4)">7 dpc</text>
<line x1="789.4" y1="977.0" x2="789.4" y2="979.8" stroke="#3a3a3a" stroke-width="1.0"/>
<text x="791.0" y="986.4" font-size="7.9" font-weight="bold" text-anchor="end" transform="rotate(-45 791.0 986.4)">14 dpc</text>
<line x1="832.0" y1="977.0" x2="832.0" y2="979.8" stroke="#3a3a3a" stroke-width="1.0"/>
<text x="833.6" y="986.4" font-size="7.9" font-weight="bold" text-anchor="end" transform="rotate(-45 833.6 986.4)">21 dpi</text>
<line x1="857.3" y1="977.0" x2="857.3" y2="979.8" stroke="#3a3a3a" stroke-width="1.0"/>
<text x="858.9" y="986.4" font-size="7.9" font-weight="bold" text-anchor="end" transform="rotate(-45 858.9 986.4)">7 dpc</text>
<line x1="883.4" y1="977.0" x2="883.4" y2="979.8" stroke="#3a3a3a" stroke-width="1.0"/>
<text x="885.0" y="986.4" font-size="7.9" font-weight="bold" text-anchor="end" transform="rotate(-45 885.0 986.4)">14 dpc</text>
<circle cx="648.5" cy="960.0" r="2.05" fill="#000"/>
<circle cx="640.1" cy="962.6" r="2.05" fill="#000"/>
<circle cx="644.2" cy="963.2" r="2.05" fill="#000"/>
<circle cx="640.1" cy="965.0" r="2.05" fill="#000"/>
<circle cx="647.9" cy="967.2" r="2.05" fill="#000"/>
<circle cx="641.4" cy="968.3" r="2.05" fill="#000"/>
<circle cx="646.1" cy="969.6" r="2.05" fill="#000"/>
<circle cx="642.7" cy="970.9" r="2.05" fill="#000"/>
<circle cx="645.7" cy="972.0" r="2.05" fill="#000"/>
<circle cx="644.2" cy="973.3" r="2.05" fill="#000"/>
<circle cx="669.8" cy="868.5" r="2.05" fill="#000"/>
<circle cx="665.5" cy="879.8" r="2.05" fill="#000"/>
<circle cx="674.1" cy="880.7" r="2.05" fill="#000"/>
<circle cx="665.5" cy="883.2" r="2.05" fill="#000"/>
<circle cx="669.8" cy="892.0" r="2.05" fill="#000"/>
<circle cx="676.1" cy="891.7" r="2.05" fill="#000"/>
<circle cx="674.1" cy="896.1" r="2.05" fill="#000"/>
<circle cx="665.5" cy="904.1" r="2.05" fill="#000"/>
<circle cx="669.8" cy="904.3" r="2.05" fill="#000"/>
<circle cx="669.8" cy="919.1" r="2.05" fill="#000"/>
<circle cx="695.5" cy="813.0" r="2.05" fill="#000"/>
<circle cx="695.5" cy="833.9" r="2.05" fill="#000"/>
<circle cx="691.2" cy="840.9" r="2.05" fill="#000"/>
<circle cx="695.5" cy="845.6" r="2.05" fill="#000"/>
<circle cx="699.8" cy="844.8" r="2.05" fill="#000"/>
<circle cx="691.2" cy="855.7" r="2.05" fill="#000"/>
<circle cx="693.5" cy="857.6" r="2.05" fill="#000"/>
<circle cx="697.5" cy="859.3" r="2.05" fill="#000"/>
<circle cx="699.8" cy="855.7" r="2.05" fill="#000"/>
<circle cx="695.5" cy="885.9" r="2.05" fill="#000"/>
<circle cx="733.6" cy="959.4" r="2.00" fill="#fbe9e9" stroke="#ecc9cc" stroke-width="0.6"/>
<circle cx="733.6" cy="959.4" r="0.50" fill="#cf9aa2"/>
<circle cx="736.1" cy="961.2" r="2.00" fill="#fbe9e9" stroke="#ecc9cc" stroke-width="0.6"/>
<circle cx="736.1" cy="961.2" r="0.50" fill="#cf9aa2"/>
<circle cx="742.6" cy="960.9" r="2.00" fill="#fbe9e9" stroke="#ecc9cc" stroke-width="0.6"/>
<circle cx="742.6" cy="960.9" r="0.50" fill="#cf9aa2"/>
<circle cx="740.2" cy="966.3" r="2.00" fill="#fbe9e9" stroke="#ecc9cc" stroke-width="0.6"/>
<circle cx="740.2" cy="966.3" r="0.50" fill="#cf9aa2"/>
<circle cx="742.6" cy="969.2" r="2.00" fill="#fbe9e9" stroke="#ecc9cc" stroke-width="0.6"/>
<circle cx="742.6" cy="969.2" r="0.50" fill="#cf9aa2"/>
<circle cx="733.6" cy="970.2" r="2.00" fill="#fbe9e9" stroke="#ecc9cc" stroke-width="0.6"/>
<circle cx="733.6" cy="970.2" r="0.50" fill="#cf9aa2"/>
<circle cx="742.6" cy="972.1" r="2.00" fill="#fbe9e9" stroke="#ecc9cc" stroke-width="0.6"/>
<circle cx="742.6" cy="972.1" r="0.50" fill="#cf9aa2"/>
<circle cx="733.6" cy="972.8" r="2.00" fill="#fbe9e9" stroke="#ecc9cc" stroke-width="0.6"/>
<circle cx="733.6" cy="972.8" r="0.50" fill="#cf9aa2"/>
<circle cx="739.0" cy="973.1" r="2.00" fill="#fbe9e9" stroke="#ecc9cc" stroke-width="0.6"/>
<circle cx="739.0" cy="973.1" r="0.50" fill="#cf9aa2"/>
<circle cx="736.7" cy="976.0" r="2.00" fill="#fbe9e9" stroke="#ecc9cc" stroke-width="0.6"/>
<circle cx="736.7" cy="976.0" r="0.50" fill="#cf9aa2"/>
<circle cx="759.2" cy="930.7" r="2.00" fill="#fbe9e9" stroke="#ecc9cc" stroke-width="0.6"/>
<circle cx="759.2" cy="930.7" r="0.50" fill="#cf9aa2"/>
<circle cx="768.2" cy="928.4" r="2.00" fill="#fbe9e9" stroke="#ecc9cc" stroke-width="0.6"/>
<circle cx="768.2" cy="928.4" r="0.50" fill="#cf9aa2"/>
<circle cx="761.6" cy="935.4" r="2.00" fill="#fbe9e9" stroke="#ecc9cc" stroke-width="0.6"/>
<circle cx="761.6" cy="935.4" r="0.50" fill="#cf9aa2"/>
<circle cx="765.9" cy="935.1" r="2.00" fill="#fbe9e9" stroke="#ecc9cc" stroke-width="0.6"/>
<circle cx="765.9" cy="935.1" r="0.50" fill="#cf9aa2"/>
<circle cx="759.2" cy="942.2" r="2.00" fill="#fbe9e9" stroke="#ecc9cc" stroke-width="0.6"/>
<circle cx="759.2" cy="942.2" r="0.50" fill="#cf9aa2"/>
<circle cx="768.2" cy="941.9" r="2.00" fill="#fbe9e9" stroke="#ecc9cc" stroke-width="0.6"/>
<circle cx="768.2" cy="941.9" r="0.50" fill="#cf9aa2"/>
<circle cx="761.6" cy="943.8" r="2.00" fill="#fbe9e9" stroke="#ecc9cc" stroke-width="0.6"/>
<circle cx="761.6" cy="943.8" r="0.50" fill="#cf9aa2"/>
<circle cx="765.9" cy="943.8" r="2.00" fill="#fbe9e9" stroke="#ecc9cc" stroke-width="0.6"/>
<circle cx="765.9" cy="943.8" r="0.50" fill="#cf9aa2"/>
<circle cx="763.6" cy="947.3" r="2.00" fill="#fbe9e9" stroke="#ecc9cc" stroke-width="0.6"/>
<circle cx="763.6" cy="947.3" r="0.50" fill="#cf9aa2"/>
<circle cx="763.6" cy="956.5" r="2.00" fill="#fbe9e9" stroke="#ecc9cc" stroke-width="0.6"/>
<circle cx="763.6" cy="956.5" r="0.50" fill="#cf9aa2"/>
<circle cx="789.4" cy="901.9" r="2.00" fill="#fbe9e9" stroke="#ecc9cc" stroke-width="0.6"/>
<circle cx="789.4" cy="901.9" r="0.50" fill="#cf9aa2"/>
<circle cx="793.7" cy="918.8" r="2.00" fill="#fbe9e9" stroke="#ecc9cc" stroke-width="0.6"/>
<circle cx="793.7" cy="918.8" r="0.50" fill="#cf9aa2"/>
<circle cx="784.9" cy="921.9" r="2.00" fill="#fbe9e9" stroke="#ecc9cc" stroke-width="0.6"/>
<circle cx="784.9" cy="921.9" r="0.50" fill="#cf9aa2"/>
<circle cx="791.5" cy="922.9" r="2.00" fill="#fbe9e9" stroke="#ecc9cc" stroke-width="0.6"/>
<circle cx="791.5" cy="922.9" r="0.50" fill="#cf9aa2"/>
<circle cx="787.2" cy="924.6" r="2.00" fill="#fbe9e9" stroke="#ecc9cc" stroke-width="0.6"/>
<circle cx="787.2" cy="924.6" r="0.50" fill="#cf9aa2"/>
<circle cx="789.4" cy="926.8" r="2.00" fill="#fbe9e9" stroke="#ecc9cc" stroke-width="0.6"/>
<circle cx="789.4" cy="926.8" r="0.50" fill="#cf9aa2"/>
<circle cx="793.8" cy="928.7" r="2.00" fill="#fbe9e9" stroke="#ecc9cc" stroke-width="0.6"/>
<circle cx="793.8" cy="928.7" r="0.50" fill="#cf9aa2"/>
<circle cx="784.9" cy="931.2" r="2.00" fill="#fbe9e9" stroke="#ecc9cc" stroke-width="0.6"/>
<circle cx="784.9" cy="931.2" r="0.50" fill="#cf9aa2"/>
<circle cx="791.5" cy="933.1" r="2.00" fill="#fbe9e9" stroke="#ecc9cc" stroke-width="0.6"/>
<circle cx="791.5" cy="933.1" r="0.50" fill="#cf9aa2"/>
<circle cx="787.2" cy="936.2" r="2.00" fill="#fbe9e9" stroke="#ecc9cc" stroke-width="0.6"/>
<circle cx="787.2" cy="936.2" r="0.50" fill="#cf9aa2"/>
<polygon points="829.90,958.55 830.53,960.23 832.33,960.31 830.92,961.43 831.40,963.16 829.90,962.17 828.40,963.16 828.88,961.43 827.47,960.31 829.27,960.23" fill="#a10f50"/>
<polygon points="834.60,958.55 835.23,960.23 837.03,960.31 835.62,961.43 836.10,963.16 834.60,962.17 833.10,963.16 833.58,961.43 832.17,960.31 833.97,960.23" fill="#a10f50"/>
<polygon points="827.60,960.78 828.23,962.46 830.03,962.54 828.62,963.66 829.10,965.39 827.60,964.40 826.10,965.39 826.58,963.66 825.17,962.54 826.97,962.46" fill="#a10f50"/>
<polygon points="836.90,960.50 837.53,962.18 839.33,962.26 837.92,963.38 838.40,965.11 836.90,964.12 835.40,965.11 835.88,963.38 834.47,962.26 836.27,962.18" fill="#a10f50"/>
<polygon points="827.60,963.03 828.23,964.71 830.03,964.79 828.62,965.91 829.10,967.64 827.60,966.65 826.10,967.64 826.58,965.91 825.17,964.79 826.97,964.71" fill="#a10f50"/>
<polygon points="836.40,963.03 837.03,964.71 838.83,964.79 837.42,965.91 837.90,967.64 836.40,966.65 834.90,967.64 835.38,965.91 833.97,964.79 835.77,964.71" fill="#a10f50"/>
<polygon points="829.40,964.68 830.03,966.37 831.83,966.44 830.42,967.56 830.90,969.30 829.40,968.30 827.90,969.30 828.38,967.56 826.97,966.44 828.77,966.37" fill="#a10f50"/>
<polygon points="834.60,964.68 835.23,966.37 837.03,966.44 835.62,967.56 836.10,969.30 834.60,968.30 833.10,969.30 833.58,967.56 832.17,966.44 833.97,966.37" fill="#a10f50"/>
<polygon points="831.20,966.63 831.83,968.32 833.63,968.40 832.22,969.51 832.70,971.25 831.20,970.25 829.70,971.25 830.18,969.51 828.77,968.40 830.57,968.32" fill="#a10f50"/>
<polygon points="833.00,965.66 833.63,967.34 835.43,967.42 834.02,968.54 834.50,970.27 833.00,969.28 831.50,970.27 831.98,968.54 830.57,967.42 832.37,967.34" fill="#a10f50"/>
<polygon points="862.00,955.90 862.63,957.59 864.43,957.66 863.02,958.78 863.50,960.52 862.00,959.52 860.50,960.52 860.98,958.78 859.57,957.66 861.37,957.59" fill="#a10f50"/>
<polygon points="853.20,958.15 853.83,959.84 855.63,959.92 854.22,961.03 854.70,962.77 853.20,961.77 851.70,962.77 852.18,961.03 850.77,959.92 852.57,959.84" fill="#a10f50"/>
<polygon points="855.40,960.78 856.03,962.46 857.83,962.54 856.42,963.66 856.90,965.39 855.40,964.40 853.90,965.39 854.38,963.66 852.97,962.54 854.77,962.46" fill="#a10f50"/>
<polygon points="859.70,960.78 860.33,962.46 862.13,962.54 860.72,963.66 861.20,965.39 859.70,964.40 858.20,965.39 858.68,963.66 857.27,962.54 859.07,962.46" fill="#a10f50"/>
<polygon points="853.20,962.45 853.83,964.13 855.63,964.21 854.22,965.33 854.70,967.06 853.20,966.07 851.70,967.06 852.18,965.33 850.77,964.21 852.57,964.13" fill="#a10f50"/>
<polygon points="862.00,962.45 862.63,964.13 864.43,964.21 863.02,965.33 863.50,967.06 862.00,966.07 860.50,967.06 860.98,965.33 859.57,964.21 861.37,964.13" fill="#a10f50"/>
<polygon points="857.60,961.47 858.23,963.16 860.03,963.24 858.62,964.36 859.10,966.09 857.60,965.10 856.10,966.09 856.58,964.36 855.17,963.24 856.97,963.16" fill="#a10f50"/>
<polygon points="855.40,967.12 856.03,968.80 857.83,968.88 856.42,970.00 856.90,971.73 855.40,970.74 853.90,971.73 854.38,970.00 852.97,968.88 854.77,968.80" fill="#a10f50"/>
<polygon points="857.60,969.56 858.23,971.24 860.03,971.32 858.62,972.44 859.10,974.17 857.60,973.18 856.10,974.17 856.58,972.44 855.17,971.32 856.97,971.24" fill="#a10f50"/>
<polygon points="859.70,969.07 860.33,970.76 862.13,970.83 860.72,971.95 861.20,973.69 859.70,972.69 858.20,973.69 858.68,971.95 857.27,970.83 859.07,970.76" fill="#a10f50"/>
<polygon points="879.00,935.44 879.63,937.12 881.43,937.20 880.02,938.32 880.50,940.05 879.00,939.06 877.50,940.05 877.98,938.32 876.57,937.20 878.37,937.12" fill="#a10f50"/>
<polygon points="887.50,935.44 888.13,937.12 889.93,937.20 888.52,938.32 889.00,940.05 887.50,939.06 886.00,940.05 886.48,938.32 885.07,937.20 886.87,937.12" fill="#a10f50"/>
<polygon points="883.40,937.39 884.03,939.07 885.83,939.15 884.42,940.27 884.90,942.00 883.40,941.01 881.90,942.00 882.38,940.27 880.97,939.15 882.77,939.07" fill="#a10f50"/>
<polygon points="879.20,940.80 879.83,942.48 881.63,942.56 880.22,943.68 880.70,945.41 879.20,944.42 877.70,945.41 878.18,943.68 876.77,942.56 878.57,942.48" fill="#a10f50"/>
<polygon points="887.00,941.29 887.63,942.97 889.43,943.05 888.02,944.17 888.50,945.90 887.00,944.91 885.50,945.90 885.98,944.17 884.57,943.05 886.37,942.97" fill="#a10f50"/>
<polygon points="881.20,942.75 881.83,944.44 883.63,944.51 882.22,945.63 882.70,947.36 881.20,946.37 879.70,947.36 880.18,945.63 878.77,944.51 880.57,944.44" fill="#a10f50"/>
<polygon points="885.50,942.94 886.13,944.62 887.93,944.70 886.52,945.82 887.00,947.55 885.50,946.56 884.00,947.55 884.48,945.82 883.07,944.70 884.87,944.62" fill="#a10f50"/>
<polygon points="881.60,945.19 882.23,946.87 884.03,946.95 882.62,948.07 883.10,949.80 881.60,948.81 880.10,949.80 880.58,948.07 879.17,946.95 880.97,946.87" fill="#a10f50"/>
<polygon points="884.10,948.61 884.73,950.29 886.53,950.37 885.12,951.49 885.60,953.22 884.10,952.23 882.60,953.22 883.08,951.49 881.67,950.37 883.47,950.29" fill="#a10f50"/>
<polygon points="883.40,950.07 884.03,951.75 885.83,951.83 884.42,952.95 884.90,954.68 883.40,953.69 881.90,954.68 882.38,952.95 880.97,951.83 882.77,951.75" fill="#a10f50"/>
<circle cx="636.5" cy="786.1" r="2.05" fill="#000"/>
<text x="647.6" y="789.0" font-size="8.2" textLength="19.3" lengthAdjust="spacingAndGlyphs">Mock</text>
<circle cx="693.9" cy="786.1" r="2.00" fill="#fbe9e9" stroke="#ecc9cc" stroke-width="0.6"/>
<circle cx="693.9" cy="786.1" r="0.50" fill="#cf9aa2"/>
<text x="706.0" y="789.0" font-size="8.2" textLength="47.8" lengthAdjust="spacingAndGlyphs">15µg cbVLPs</text>
<polygon points="772.20,783.55 772.83,785.23 774.63,785.31 773.22,786.43 773.70,788.16 772.20,787.17 770.70,788.16 771.18,786.43 769.77,785.31 771.57,785.23" fill="#a10f50"/>
<text x="783.5" y="789.0" font-size="8.2" textLength="93.0" lengthAdjust="spacingAndGlyphs">Commercia H9N2 vaccine</text>
<text x="600.2" y="882.9" font-size="8.2" font-weight="bold" text-anchor="middle" textLength="28.6" lengthAdjust="spacingAndGlyphs" transform="rotate(-90 600.2 882.9)">1-(S/N)</text>
<text x="597.0" y="774.9" font-size="16.3" font-weight="bold" textLength="11.6" lengthAdjust="spacingAndGlyphs">A</text>
<line x1="969.5" y1="789.0" x2="969.5" y2="977.7" stroke="#3a3a3a" stroke-width="1.4"/>
<line x1="968.8" y1="977.0" x2="1251.9" y2="977.0" stroke="#3a3a3a" stroke-width="1.4"/>
<line x1="966.7" y1="977.0" x2="969.5" y2="977.0" stroke="#3a3a3a" stroke-width="1.0"/>
<text x="966.1" y="980.1" font-size="8.9" font-weight="bold" text-anchor="end" textLength="15.3" lengthAdjust="spacingAndGlyphs">0.00</text>
<line x1="966.7" y1="930.1" x2="969.5" y2="930.1" stroke="#3a3a3a" stroke-width="1.0"/>
<text x="966.1" y="933.2" font-size="8.9" font-weight="bold" text-anchor="end" textLength="15.3" lengthAdjust="spacingAndGlyphs">0.25</text>
<line x1="966.7" y1="883.2" x2="969.5" y2="883.2" stroke="#3a3a3a" stroke-width="1.0"/>
<text x="966.1" y="886.3" font-size="8.9" font-weight="bold" text-anchor="end" textLength="15.3" lengthAdjust="spacingAndGlyphs">0.50</text>
<line x1="966.7" y1="836.2" x2="969.5" y2="836.2" stroke="#3a3a3a" stroke-width="1.0"/>
<text x="966.1" y="839.4" font-size="8.9" font-weight="bold" text-anchor="end" textLength="15.3" lengthAdjust="spacingAndGlyphs">0.75</text>
<line x1="966.7" y1="789.4" x2="969.5" y2="789.4" stroke="#3a3a3a" stroke-width="1.0"/>
<text x="966.1" y="792.5" font-size="8.9" font-weight="bold" text-anchor="end" textLength="15.3" lengthAdjust="spacingAndGlyphs">1.00</text>
<line x1="969.5" y1="883.2" x2="1252.0" y2="883.2" stroke="#3a3a3a" stroke-width="1.25" stroke-dasharray="2.9 2.0"/>
<line x1="991.3" y1="977.0" x2="991.3" y2="979.8" stroke="#3a3a3a" stroke-width="1.0"/>
<text x="992.9" y="986.4" font-size="7.9" font-weight="bold" text-anchor="end" transform="rotate(-45 992.9 986.4)">21 dpi</text>
<line x1="1016.9" y1="977.0" x2="1016.9" y2="979.8" stroke="#3a3a3a" stroke-width="1.0"/>
<text x="1018.5" y="986.4" font-size="7.9" font-weight="bold" text-anchor="end" transform="rotate(-45 1018.5 986.4)">7 dpc</text>
<line x1="1042.2" y1="977.0" x2="1042.2" y2="979.8" stroke="#3a3a3a" stroke-width="1.0"/>
<text x="1043.8" y="986.4" font-size="7.9" font-weight="bold" text-anchor="end" transform="rotate(-45 1043.8 986.4)">14 dpc</text>
<line x1="1085.3" y1="977.0" x2="1085.3" y2="979.8" stroke="#3a3a3a" stroke-width="1.0"/>
<text x="1086.9" y="986.4" font-size="7.9" font-weight="bold" text-anchor="end" transform="rotate(-45 1086.9 986.4)">21 dpi</text>
<line x1="1110.3" y1="977.0" x2="1110.3" y2="979.8" stroke="#3a3a3a" stroke-width="1.0"/>
<text x="1111.9" y="986.4" font-size="7.9" font-weight="bold" text-anchor="end" transform="rotate(-45 1111.9 986.4)">7 dpc</text>
<line x1="1136.4" y1="977.0" x2="1136.4" y2="979.8" stroke="#3a3a3a" stroke-width="1.0"/>
<text x="1138.0" y="986.4" font-size="7.9" font-weight="bold" text-anchor="end" transform="rotate(-45 1138.0 986.4)">14 dpc</text>
<line x1="1179.0" y1="977.0" x2="1179.0" y2="979.8" stroke="#3a3a3a" stroke-width="1.0"/>
<text x="1180.6" y="986.4" font-size="7.9" font-weight="bold" text-anchor="end" transform="rotate(-45 1180.6 986.4)">21 dpi</text>
<line x1="1204.5" y1="977.0" x2="1204.5" y2="979.8" stroke="#3a3a3a" stroke-width="1.0"/>
<text x="1206.1" y="986.4" font-size="7.9" font-weight="bold" text-anchor="end" transform="rotate(-45 1206.1 986.4)">7 dpc</text>
<line x1="1230.4" y1="977.0" x2="1230.4" y2="979.8" stroke="#3a3a3a" stroke-width="1.0"/>
<text x="1232.0" y="986.4" font-size="7.9" font-weight="bold" text-anchor="end" transform="rotate(-45 1232.0 986.4)">14 dpc</text>
<circle cx="986.7" cy="957.6" r="2.05" fill="#000"/>
<circle cx="995.9" cy="958.9" r="2.05" fill="#000"/>
<circle cx="989.1" cy="961.3" r="2.05" fill="#000"/>
<circle cx="993.2" cy="963.2" r="2.05" fill="#000"/>
<circle cx="995.9" cy="965.0" r="2.05" fill="#000"/>
<circle cx="986.7" cy="966.9" r="2.05" fill="#000"/>
<circle cx="995.0" cy="967.4" r="2.05" fill="#000"/>
<circle cx="987.0" cy="968.7" r="2.05" fill="#000"/>
<circle cx="992.6" cy="969.1" r="2.05" fill="#000"/>
<circle cx="989.8" cy="973.0" r="2.05" fill="#000"/>
<circle cx="1012.6" cy="862.6" r="2.05" fill="#000"/>
<circle cx="1021.2" cy="864.1" r="2.05" fill="#000"/>
<circle cx="1021.3" cy="875.7" r="2.05" fill="#000"/>
<circle cx="1012.6" cy="877.0" r="2.05" fill="#000"/>
<circle cx="1014.9" cy="881.1" r="2.05" fill="#000"/>
<circle cx="1019.1" cy="880.7" r="2.05" fill="#000"/>
<circle cx="1012.6" cy="888.3" r="2.05" fill="#000"/>
<circle cx="1025.4" cy="893.1" r="2.05" fill="#000"/>
<circle cx="1021.2" cy="898.9" r="2.05" fill="#000"/>
<circle cx="1012.6" cy="903.9" r="2.05" fill="#000"/>
<circle cx="1042.4" cy="828.1" r="2.05" fill="#000"/>
<circle cx="1042.4" cy="843.3" r="2.05" fill="#000"/>
<circle cx="1038.1" cy="858.1" r="2.05" fill="#000"/>
<circle cx="1046.6" cy="858.1" r="2.05" fill="#000"/>
<circle cx="1040.3" cy="863.2" r="2.05" fill="#000"/>
<circle cx="1044.4" cy="863.7" r="2.05" fill="#000"/>
<circle cx="1042.4" cy="864.6" r="2.05" fill="#000"/>
<circle cx="1038.1" cy="867.4" r="2.05" fill="#000"/>
<circle cx="1046.6" cy="874.8" r="2.05" fill="#000"/>
<circle cx="1042.4" cy="901.1" r="2.05" fill="#000"/>
<circle cx="1078.7" cy="961.4" r="2.00" fill="#fbe9e9" stroke="#ecc9cc" stroke-width="0.6"/>
<circle cx="1078.7" cy="961.4" r="0.50" fill="#cf9aa2"/>
<circle cx="1083.1" cy="962.7" r="2.00" fill="#fbe9e9" stroke="#ecc9cc" stroke-width="0.6"/>
<circle cx="1083.1" cy="962.7" r="0.50" fill="#cf9aa2"/>
<circle cx="1091.5" cy="962.1" r="2.00" fill="#fbe9e9" stroke="#ecc9cc" stroke-width="0.6"/>
<circle cx="1091.5" cy="962.1" r="0.50" fill="#cf9aa2"/>
<circle cx="1087.6" cy="963.4" r="2.00" fill="#fbe9e9" stroke="#ecc9cc" stroke-width="0.6"/>
<circle cx="1087.6" cy="963.4" r="0.50" fill="#cf9aa2"/>
<circle cx="1089.2" cy="964.4" r="2.00" fill="#fbe9e9" stroke="#ecc9cc" stroke-width="0.6"/>
<circle cx="1089.2" cy="964.4" r="0.50" fill="#cf9aa2"/>
<circle cx="1080.6" cy="965.8" r="2.00" fill="#fbe9e9" stroke="#ecc9cc" stroke-width="0.6"/>
<circle cx="1080.6" cy="965.8" r="0.50" fill="#cf9aa2"/>
<circle cx="1080.8" cy="967.0" r="2.00" fill="#fbe9e9" stroke="#ecc9cc" stroke-width="0.6"/>
<circle cx="1080.8" cy="967.0" r="0.50" fill="#cf9aa2"/>
<circle cx="1086.7" cy="966.9" r="2.00" fill="#fbe9e9" stroke="#ecc9cc" stroke-width="0.6"/>
<circle cx="1086.7" cy="966.9" r="0.50" fill="#cf9aa2"/>
<circle cx="1089.6" cy="966.6" r="2.00" fill="#fbe9e9" stroke="#ecc9cc" stroke-width="0.6"/>
<circle cx="1089.6" cy="966.6" r="0.50" fill="#cf9aa2"/>
<circle cx="1083.7" cy="972.4" r="2.00" fill="#fbe9e9" stroke="#ecc9cc" stroke-width="0.6"/>
<circle cx="1083.7" cy="972.4" r="0.50" fill="#cf9aa2"/>
<circle cx="1106.6" cy="943.8" r="2.00" fill="#fbe9e9" stroke="#ecc9cc" stroke-width="0.6"/>
<circle cx="1106.6" cy="943.8" r="0.50" fill="#cf9aa2"/>
<circle cx="1114.7" cy="943.4" r="2.00" fill="#fbe9e9" stroke="#ecc9cc" stroke-width="0.6"/>
<circle cx="1114.7" cy="943.4" r="0.50" fill="#cf9aa2"/>
<circle cx="1110.6" cy="946.1" r="2.00" fill="#fbe9e9" stroke="#ecc9cc" stroke-width="0.6"/>
<circle cx="1110.6" cy="946.1" r="0.50" fill="#cf9aa2"/>
<circle cx="1106.6" cy="948.5" r="2.00" fill="#fbe9e9" stroke="#ecc9cc" stroke-width="0.6"/>
<circle cx="1106.6" cy="948.5" r="0.50" fill="#cf9aa2"/>
<circle cx="1114.5" cy="948.7" r="2.00" fill="#fbe9e9" stroke="#ecc9cc" stroke-width="0.6"/>
<circle cx="1114.5" cy="948.7" r="0.50" fill="#cf9aa2"/>
<circle cx="1107.9" cy="954.1" r="2.00" fill="#fbe9e9" stroke="#ecc9cc" stroke-width="0.6"/>
<circle cx="1107.9" cy="954.1" r="0.50" fill="#cf9aa2"/>
<circle cx="1113.4" cy="954.3" r="2.00" fill="#fbe9e9" stroke="#ecc9cc" stroke-width="0.6"/>
<circle cx="1113.4" cy="954.3" r="0.50" fill="#cf9aa2"/>
<circle cx="1109.3" cy="956.5" r="2.00" fill="#fbe9e9" stroke="#ecc9cc" stroke-width="0.6"/>
<circle cx="1109.3" cy="956.5" r="0.50" fill="#cf9aa2"/>
<circle cx="1112.1" cy="957.0" r="2.00" fill="#fbe9e9" stroke="#ecc9cc" stroke-width="0.6"/>
<circle cx="1112.1" cy="957.0" r="0.50" fill="#cf9aa2"/>
<circle cx="1110.4" cy="957.3" r="2.00" fill="#fbe9e9" stroke="#ecc9cc" stroke-width="0.6"/>
<circle cx="1110.4" cy="957.3" r="0.50" fill="#cf9aa2"/>
<circle cx="1129.5" cy="938.3" r="2.00" fill="#fbe9e9" stroke="#ecc9cc" stroke-width="0.6"/>
<circle cx="1129.5" cy="938.3" r="0.50" fill="#cf9aa2"/>
<circle cx="1140.8" cy="937.5" r="2.00" fill="#fbe9e9" stroke="#ecc9cc" stroke-width="0.6"/>
<circle cx="1140.8" cy="937.5" r="0.50" fill="#cf9aa2"/>
<circle cx="1134.2" cy="939.7" r="2.00" fill="#fbe9e9" stroke="#ecc9cc" stroke-width="0.6"/>
<circle cx="1134.2" cy="939.7" r="0.50" fill="#cf9aa2"/>
<circle cx="1138.3" cy="939.0" r="2.00" fill="#fbe9e9" stroke="#ecc9cc" stroke-width="0.6"/>
<circle cx="1138.3" cy="939.0" r="0.50" fill="#cf9aa2"/>
<circle cx="1131.7" cy="941.2" r="2.00" fill="#fbe9e9" stroke="#ecc9cc" stroke-width="0.6"/>
<circle cx="1131.7" cy="941.2" r="0.50" fill="#cf9aa2"/>
<circle cx="1134.2" cy="948.2" r="2.00" fill="#fbe9e9" stroke="#ecc9cc" stroke-width="0.6"/>
<circle cx="1134.2" cy="948.2" r="0.50" fill="#cf9aa2"/>
<circle cx="1138.3" cy="948.7" r="2.00" fill="#fbe9e9" stroke="#ecc9cc" stroke-width="0.6"/>
<circle cx="1138.3" cy="948.7" r="0.50" fill="#cf9aa2"/>
<circle cx="1140.8" cy="946.3" r="2.00" fill="#fbe9e9" stroke="#ecc9cc" stroke-width="0.6"/>
<circle cx="1140.8" cy="946.3" r="0.50" fill="#cf9aa2"/>
<circle cx="1132.0" cy="958.0" r="2.00" fill="#fbe9e9" stroke="#ecc9cc" stroke-width="0.6"/>
<circle cx="1132.0" cy="958.0" r="0.50" fill="#cf9aa2"/>
<circle cx="1140.5" cy="957.2" r="2.00" fill="#fbe9e9" stroke="#ecc9cc" stroke-width="0.6"/>
<circle cx="1140.5" cy="957.2" r="0.50" fill="#cf9aa2"/>
<polygon points="1174.60,951.51 1175.23,953.20 1177.03,953.27 1175.62,954.39 1176.10,956.13 1174.60,955.13 1173.10,956.13 1173.58,954.39 1172.17,953.27 1173.97,953.20" fill="#1010f5"/>
<polygon points="1183.70,950.57 1184.33,952.26 1186.13,952.34 1184.72,953.46 1185.20,955.19 1183.70,954.20 1182.20,955.19 1182.68,953.46 1181.27,952.34 1183.07,952.26" fill="#1010f5"/>
<polygon points="1174.40,957.55 1175.03,959.24 1176.83,959.32 1175.42,960.43 1175.90,962.17 1174.40,961.17 1172.90,962.17 1173.38,960.43 1171.97,959.32 1173.77,959.24" fill="#1010f5"/>
<polygon points="1177.10,956.39 1177.73,958.07 1179.53,958.15 1178.12,959.27 1178.60,961.00 1177.10,960.01 1175.60,961.00 1176.08,959.27 1174.67,958.15 1176.47,958.07" fill="#1010f5"/>
<polygon points="1180.00,956.20 1180.63,957.89 1182.43,957.96 1181.02,959.08 1181.50,960.82 1180.00,959.82 1178.50,960.82 1178.98,959.08 1177.57,957.96 1179.37,957.89" fill="#1010f5"/>
<polygon points="1182.20,957.14 1182.83,958.82 1184.63,958.90 1183.22,960.02 1183.70,961.75 1182.20,960.76 1180.70,961.75 1181.18,960.02 1179.77,958.90 1181.57,958.82" fill="#1010f5"/>
<polygon points="1183.90,959.80 1184.53,961.49 1186.33,961.57 1184.92,962.69 1185.40,964.42 1183.90,963.43 1182.40,964.42 1182.88,962.69 1181.47,961.57 1183.27,961.49" fill="#1010f5"/>
<polygon points="1176.80,961.27 1177.43,962.95 1179.23,963.03 1177.82,964.15 1178.30,965.88 1176.80,964.89 1175.30,965.88 1175.78,964.15 1174.37,963.03 1176.17,962.95" fill="#1010f5"/>
<polygon points="1180.90,963.71 1181.53,965.39 1183.33,965.47 1181.92,966.59 1182.40,968.32 1180.90,967.33 1179.40,968.32 1179.88,966.59 1178.47,965.47 1180.27,965.39" fill="#1010f5"/>
<polygon points="1179.00,966.15 1179.63,967.83 1181.43,967.91 1180.02,969.03 1180.50,970.76 1179.00,969.77 1177.50,970.76 1177.98,969.03 1176.57,967.91 1178.37,967.83" fill="#1010f5"/>
<polygon points="1204.50,919.81 1205.13,921.49 1206.93,921.57 1205.52,922.69 1206.00,924.42 1204.50,923.43 1203.00,924.42 1203.48,922.69 1202.07,921.57 1203.87,921.49" fill="#1010f5"/>
<polygon points="1200.10,922.43 1200.73,924.12 1202.53,924.20 1201.12,925.32 1201.60,927.05 1200.10,926.06 1198.60,927.05 1199.08,925.32 1197.67,924.20 1199.47,924.12" fill="#1010f5"/>
<polygon points="1209.20,924.87 1209.83,926.56 1211.63,926.64 1210.22,927.75 1210.70,929.49 1209.20,928.49 1207.70,929.49 1208.18,927.75 1206.77,926.64 1208.57,926.56" fill="#1010f5"/>
<polygon points="1202.40,928.33 1203.03,930.01 1204.83,930.09 1203.42,931.21 1203.90,932.94 1202.40,931.95 1200.90,932.94 1201.38,931.21 1199.97,930.09 1201.77,930.01" fill="#1010f5"/>
<polygon points="1206.70,930.13 1207.33,931.81 1209.13,931.89 1207.72,933.01 1208.20,934.74 1206.70,933.75 1205.20,934.74 1205.68,933.01 1204.27,931.89 1206.07,931.81" fill="#1010f5"/>
<polygon points="1200.10,936.22 1200.73,937.91 1202.53,937.99 1201.12,939.10 1201.60,940.84 1200.10,939.84 1198.60,940.84 1199.08,939.10 1197.67,937.99 1199.47,937.91" fill="#1010f5"/>
<polygon points="1202.40,938.85 1203.03,940.53 1204.83,940.61 1203.42,941.73 1203.90,943.46 1202.40,942.47 1200.90,943.46 1201.38,941.73 1199.97,940.61 1201.77,940.53" fill="#1010f5"/>
<polygon points="1209.00,938.38 1209.63,940.06 1211.43,940.14 1210.02,941.26 1210.50,942.99 1209.00,942.00 1207.50,942.99 1207.98,941.26 1206.57,940.14 1208.37,940.06" fill="#1010f5"/>
<polygon points="1206.70,941.95 1207.33,943.63 1209.13,943.71 1207.72,944.83 1208.20,946.56 1206.70,945.57 1205.20,946.56 1205.68,944.83 1204.27,943.71 1206.07,943.63" fill="#1010f5"/>
<polygon points="1204.50,944.89 1205.13,946.57 1206.93,946.65 1205.52,947.77 1206.00,949.50 1204.50,948.51 1203.00,949.50 1203.48,947.77 1202.07,946.65 1203.87,946.57" fill="#1010f5"/>
<polygon points="1230.40,926.47 1231.03,928.15 1232.83,928.23 1231.42,929.35 1231.90,931.08 1230.40,930.09 1228.90,931.08 1229.38,929.35 1227.97,928.23 1229.77,928.15" fill="#1010f5"/>
<polygon points="1226.00,934.18 1226.63,935.86 1228.43,935.94 1227.02,937.06 1227.50,938.79 1226.00,937.80 1224.50,938.79 1224.98,937.06 1223.57,935.94 1225.37,935.86" fill="#1010f5"/>
<polygon points="1234.80,933.97 1235.43,935.66 1237.23,935.73 1235.82,936.85 1236.30,938.59 1234.80,937.59 1233.30,938.59 1233.78,936.85 1232.37,935.73 1234.17,935.66" fill="#1010f5"/>
<polygon points="1228.30,936.41 1228.93,938.09 1230.73,938.17 1229.32,939.29 1229.80,941.02 1228.30,940.03 1226.80,941.02 1227.28,939.29 1225.87,938.17 1227.67,938.09" fill="#1010f5"/>
<polygon points="1232.60,936.22 1233.23,937.91 1235.03,937.99 1233.62,939.10 1234.10,940.84 1232.60,939.84 1231.10,940.84 1231.58,939.10 1230.17,937.99 1231.97,937.91" fill="#1010f5"/>
<polygon points="1230.20,939.32 1230.83,941.00 1232.63,941.08 1231.22,942.20 1231.70,943.93 1230.20,942.94 1228.70,943.93 1229.18,942.20 1227.77,941.08 1229.57,941.00" fill="#1010f5"/>
<polygon points="1225.80,944.20 1226.43,945.88 1228.23,945.96 1226.82,947.08 1227.30,948.81 1225.80,947.82 1224.30,948.81 1224.78,947.08 1223.37,945.96 1225.17,945.88" fill="#1010f5"/>
<polygon points="1234.80,943.26 1235.43,944.94 1237.23,945.02 1235.82,946.14 1236.30,947.87 1234.80,946.88 1233.30,947.87 1233.78,946.14 1232.37,945.02 1234.17,944.94" fill="#1010f5"/>
<polygon points="1232.40,945.32 1233.03,947.01 1234.83,947.08 1233.42,948.20 1233.90,949.93 1232.40,948.94 1230.90,949.93 1231.38,948.20 1229.97,947.08 1231.77,947.01" fill="#1010f5"/>
<polygon points="1228.10,949.37 1228.73,951.06 1230.53,951.14 1229.12,952.26 1229.60,953.99 1228.10,953.00 1226.60,953.99 1227.08,952.26 1225.67,951.14 1227.47,951.06" fill="#1010f5"/>
<circle cx="983.3" cy="786.1" r="2.05" fill="#000"/>
<text x="994.8" y="789.0" font-size="8.2" textLength="18.8" lengthAdjust="spacingAndGlyphs">Mock</text>
<circle cx="1041.2" cy="786.1" r="2.00" fill="#fbe9e9" stroke="#ecc9cc" stroke-width="0.6"/>
<circle cx="1041.2" cy="786.1" r="0.50" fill="#cf9aa2"/>
<text x="1053.3" y="789.0" font-size="8.2" textLength="47.7" lengthAdjust="spacingAndGlyphs">15µg cbVLPs</text>
<polygon points="1119.50,783.55 1120.13,785.23 1121.93,785.31 1120.52,786.43 1121.00,788.16 1119.50,787.17 1118.00,788.16 1118.48,786.43 1117.07,785.31 1118.87,785.23" fill="#1010f5"/>
<text x="1130.5" y="789.0" font-size="8.2" textLength="90.5" lengthAdjust="spacingAndGlyphs">Inactivated H3N2 vaccine</text>
<text x="948.2" y="882.9" font-size="8.2" font-weight="bold" text-anchor="middle" textLength="28.6" lengthAdjust="spacingAndGlyphs" transform="rotate(-90 948.2 882.9)">1-(S/N)</text>
<text x="944.8" y="774.9" font-size="16.3" font-weight="bold" textLength="10.5" lengthAdjust="spacingAndGlyphs">B</text>
</g>
</svg>
</body></html>
